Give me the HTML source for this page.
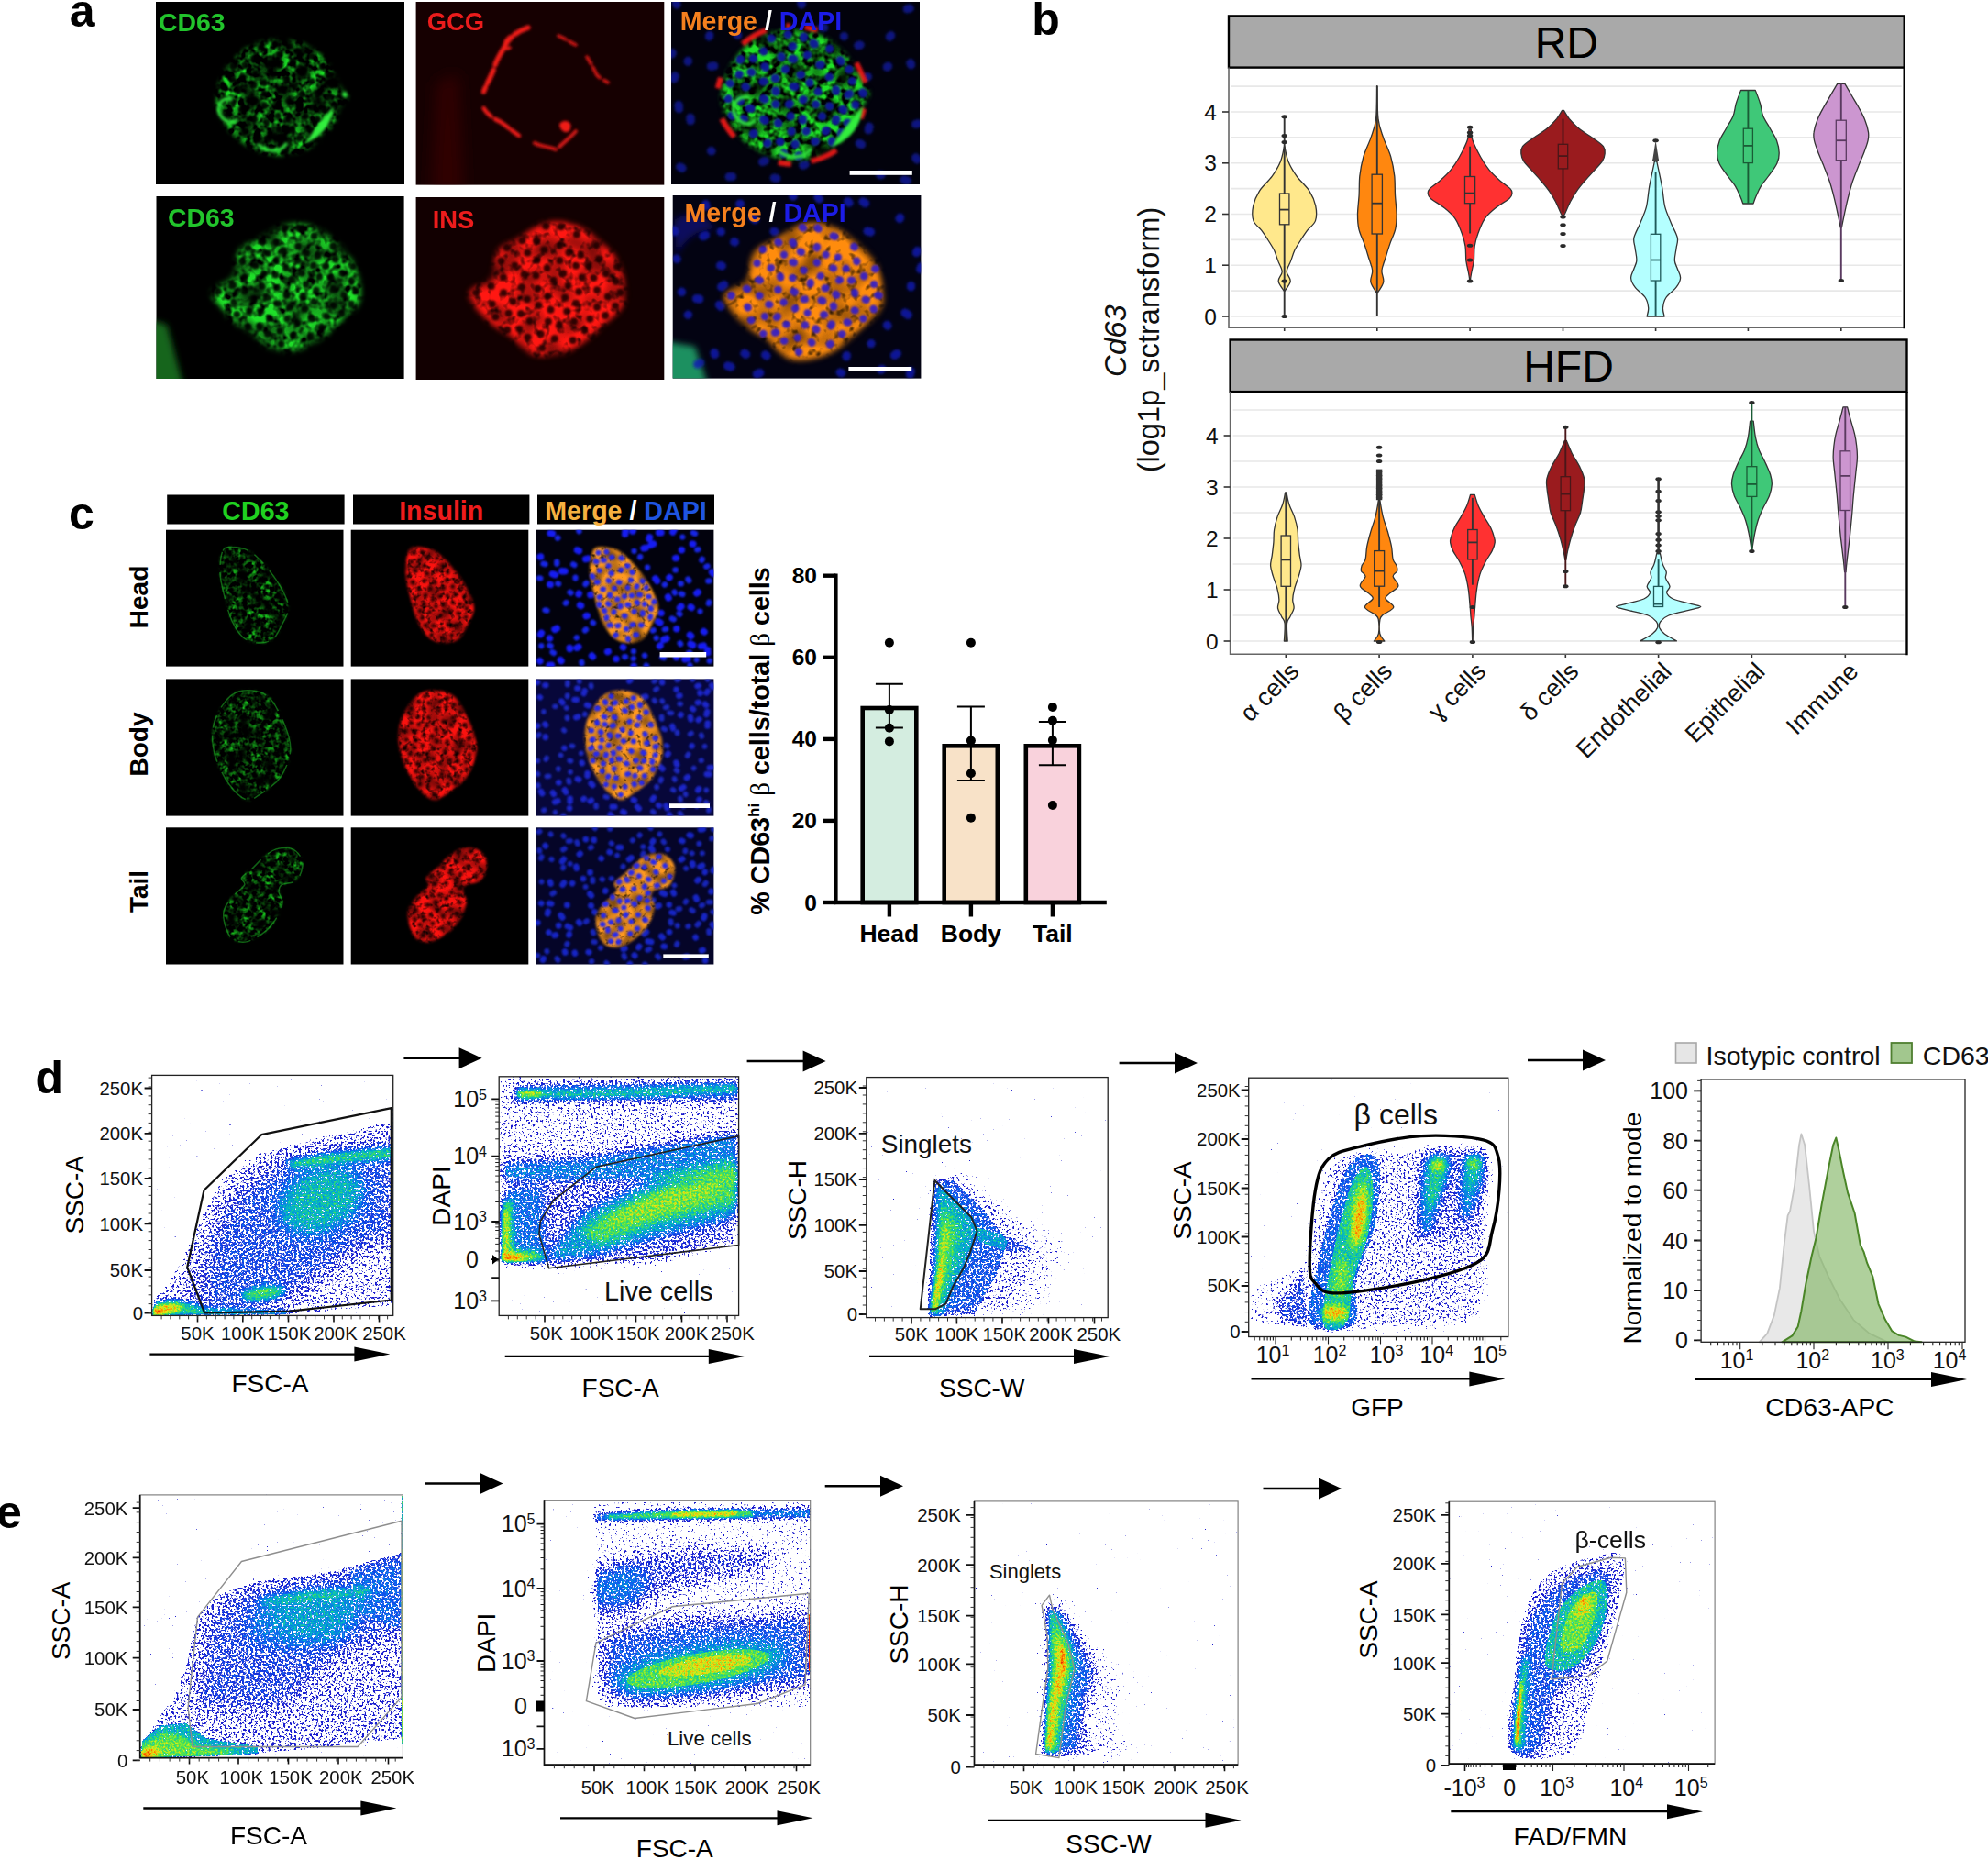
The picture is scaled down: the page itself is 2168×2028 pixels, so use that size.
<!DOCTYPE html>
<html lang="en"><head><meta charset="utf-8"><title>Figure</title>
<style>html,body{margin:0;padding:0;background:#fff;overflow:hidden}svg{display:block}text{font-family:"Liberation Sans",sans-serif}</style>
</head><body>
<svg width="2168" height="2028" viewBox="0 0 2168 2028">
<defs>
<filter id="bl1" x="-50%" y="-50%" width="200%" height="200%"><feGaussianBlur stdDeviation="1"/></filter>
<filter id="bl2" x="-50%" y="-50%" width="200%" height="200%"><feGaussianBlur stdDeviation="2"/></filter>
<filter id="bl3" x="-50%" y="-50%" width="200%" height="200%"><feGaussianBlur stdDeviation="3"/></filter>
<filter id="bl5" x="-50%" y="-50%" width="200%" height="200%"><feGaussianBlur stdDeviation="5"/></filter>
<filter id="bl8" x="-50%" y="-50%" width="200%" height="200%"><feGaussianBlur stdDeviation="8"/></filter>
<filter id="bl12" x="-50%" y="-50%" width="200%" height="200%"><feGaussianBlur stdDeviation="12"/></filter>
<filter id="mb1" x="-50%" y="-50%" width="200%" height="200%"><feGaussianBlur stdDeviation="0.7"/></filter>
<filter id="mb2" x="-50%" y="-50%" width="200%" height="200%"><feGaussianBlur stdDeviation="1.4"/></filter>
<filter id="mb5" x="-50%" y="-50%" width="200%" height="200%"><feGaussianBlur stdDeviation="3.5"/></filter>
<filter id="fc1" filterUnits="userSpaceOnUse" x="165.6" y="1172.4" width="263.1" height="262" color-interpolation-filters="sRGB">
<feTurbulence type="fractalNoise" baseFrequency="0.42" numOctaves="2" seed="11" result="n"/>
<feColorMatrix in="SourceGraphic" type="matrix" values="0 0 0 1 0  0 0 0 1 0  0 0 0 1 0  0 0 0 0 1" result="d"/>
<feColorMatrix in="n" type="matrix" values="1 0 0 0 0  1 0 0 0 0  1 0 0 0 0  0 0 0 0 1" result="n1"/>
<feComposite in="d" in2="n1" operator="arithmetic" k2="1" k3="0.34" k4="-0.17" result="dc"/>
<feComponentTransfer in="dc" result="col">
<feFuncR type="table" tableValues="0.1 0.1 0.1 0.1 0.1 0.05 0.0 0.3 0.88 1 0.92"/>
<feFuncG type="table" tableValues="0.1 0.1 0.1 0.1 0.12 0.38 0.72 0.9 0.92 0.5 0.12"/>
<feFuncB type="table" tableValues="0.8 0.8 0.8 0.8 0.82 0.95 0.78 0.3 0.08 0 0"/>
</feComponentTransfer>
<feComposite in="d" in2="n1" operator="arithmetic" k2="1" k3="1.1" k4="-0.55" result="da"/>
<feColorMatrix in="da" type="matrix" values="0 0 0 0 0  0 0 0 0 0  0 0 0 0 0  12 0 0 0 -4.2" result="a"/>
<feComposite in="col" in2="a" operator="in"/>
</filter>
<clipPath id="cp1"><rect x="165.6" y="1172.4" width="263.1" height="262"/></clipPath>
<filter id="fc2" filterUnits="userSpaceOnUse" x="544.2" y="1173.8" width="261.4" height="260.6" color-interpolation-filters="sRGB">
<feTurbulence type="fractalNoise" baseFrequency="0.42" numOctaves="2" seed="23" result="n"/>
<feColorMatrix in="SourceGraphic" type="matrix" values="0 0 0 1 0  0 0 0 1 0  0 0 0 1 0  0 0 0 0 1" result="d"/>
<feColorMatrix in="n" type="matrix" values="1 0 0 0 0  1 0 0 0 0  1 0 0 0 0  0 0 0 0 1" result="n1"/>
<feComposite in="d" in2="n1" operator="arithmetic" k2="1" k3="0.34" k4="-0.17" result="dc"/>
<feComponentTransfer in="dc" result="col">
<feFuncR type="table" tableValues="0.1 0.1 0.1 0.1 0.1 0.05 0.0 0.3 0.88 1 0.92"/>
<feFuncG type="table" tableValues="0.1 0.1 0.1 0.1 0.12 0.38 0.72 0.9 0.92 0.5 0.12"/>
<feFuncB type="table" tableValues="0.8 0.8 0.8 0.8 0.82 0.95 0.78 0.3 0.08 0 0"/>
</feComponentTransfer>
<feComposite in="d" in2="n1" operator="arithmetic" k2="1" k3="1.1" k4="-0.55" result="da"/>
<feColorMatrix in="da" type="matrix" values="0 0 0 0 0  0 0 0 0 0  0 0 0 0 0  12 0 0 0 -4.2" result="a"/>
<feComposite in="col" in2="a" operator="in"/>
</filter>
<clipPath id="cp2"><rect x="544.2" y="1173.8" width="261.4" height="260.6"/></clipPath>
<filter id="fc3" filterUnits="userSpaceOnUse" x="944.8" y="1174.6" width="263.4" height="262" color-interpolation-filters="sRGB">
<feTurbulence type="fractalNoise" baseFrequency="0.42" numOctaves="2" seed="5" result="n"/>
<feColorMatrix in="SourceGraphic" type="matrix" values="0 0 0 1 0  0 0 0 1 0  0 0 0 1 0  0 0 0 0 1" result="d"/>
<feColorMatrix in="n" type="matrix" values="1 0 0 0 0  1 0 0 0 0  1 0 0 0 0  0 0 0 0 1" result="n1"/>
<feComposite in="d" in2="n1" operator="arithmetic" k2="1" k3="0.34" k4="-0.17" result="dc"/>
<feComponentTransfer in="dc" result="col">
<feFuncR type="table" tableValues="0.1 0.1 0.1 0.1 0.1 0.05 0.0 0.3 0.88 1 0.92"/>
<feFuncG type="table" tableValues="0.1 0.1 0.1 0.1 0.12 0.38 0.72 0.9 0.92 0.5 0.12"/>
<feFuncB type="table" tableValues="0.8 0.8 0.8 0.8 0.82 0.95 0.78 0.3 0.08 0 0"/>
</feComponentTransfer>
<feComposite in="d" in2="n1" operator="arithmetic" k2="1" k3="1.1" k4="-0.55" result="da"/>
<feColorMatrix in="da" type="matrix" values="0 0 0 0 0  0 0 0 0 0  0 0 0 0 0  12 0 0 0 -4.2" result="a"/>
<feComposite in="col" in2="a" operator="in"/>
</filter>
<clipPath id="cp3"><rect x="944.8" y="1174.6" width="263.4" height="262"/></clipPath>
<filter id="fc4" filterUnits="userSpaceOnUse" x="1361.7" y="1175.2" width="283.1" height="282.3" color-interpolation-filters="sRGB">
<feTurbulence type="fractalNoise" baseFrequency="0.42" numOctaves="2" seed="31" result="n"/>
<feColorMatrix in="SourceGraphic" type="matrix" values="0 0 0 1 0  0 0 0 1 0  0 0 0 1 0  0 0 0 0 1" result="d"/>
<feColorMatrix in="n" type="matrix" values="1 0 0 0 0  1 0 0 0 0  1 0 0 0 0  0 0 0 0 1" result="n1"/>
<feComposite in="d" in2="n1" operator="arithmetic" k2="1" k3="0.34" k4="-0.17" result="dc"/>
<feComponentTransfer in="dc" result="col">
<feFuncR type="table" tableValues="0.1 0.1 0.1 0.1 0.1 0.05 0.0 0.3 0.88 1 0.92"/>
<feFuncG type="table" tableValues="0.1 0.1 0.1 0.1 0.12 0.38 0.72 0.9 0.92 0.5 0.12"/>
<feFuncB type="table" tableValues="0.8 0.8 0.8 0.8 0.82 0.95 0.78 0.3 0.08 0 0"/>
</feComponentTransfer>
<feComposite in="d" in2="n1" operator="arithmetic" k2="1" k3="1.1" k4="-0.55" result="da"/>
<feColorMatrix in="da" type="matrix" values="0 0 0 0 0  0 0 0 0 0  0 0 0 0 0  12 0 0 0 -4.2" result="a"/>
<feComposite in="col" in2="a" operator="in"/>
</filter>
<clipPath id="cp4"><rect x="1361.7" y="1175.2" width="283.1" height="282.3"/></clipPath>
<filter id="fc5" filterUnits="userSpaceOnUse" x="152.7" y="1629.9" width="286.7" height="286.7" color-interpolation-filters="sRGB">
<feTurbulence type="fractalNoise" baseFrequency="0.42" numOctaves="2" seed="41" result="n"/>
<feColorMatrix in="SourceGraphic" type="matrix" values="0 0 0 1 0  0 0 0 1 0  0 0 0 1 0  0 0 0 0 1" result="d"/>
<feColorMatrix in="n" type="matrix" values="1 0 0 0 0  1 0 0 0 0  1 0 0 0 0  0 0 0 0 1" result="n1"/>
<feComposite in="d" in2="n1" operator="arithmetic" k2="1" k3="0.34" k4="-0.17" result="dc"/>
<feComponentTransfer in="dc" result="col">
<feFuncR type="table" tableValues="0.1 0.1 0.1 0.1 0.1 0.05 0.0 0.3 0.88 1 0.92"/>
<feFuncG type="table" tableValues="0.1 0.1 0.1 0.1 0.12 0.38 0.72 0.9 0.92 0.5 0.12"/>
<feFuncB type="table" tableValues="0.8 0.8 0.8 0.8 0.82 0.95 0.78 0.3 0.08 0 0"/>
</feComponentTransfer>
<feComposite in="d" in2="n1" operator="arithmetic" k2="1" k3="1.1" k4="-0.55" result="da"/>
<feColorMatrix in="da" type="matrix" values="0 0 0 0 0  0 0 0 0 0  0 0 0 0 0  12 0 0 0 -4.2" result="a"/>
<feComposite in="col" in2="a" operator="in"/>
</filter>
<clipPath id="cp5"><rect x="152.7" y="1629.9" width="286.7" height="286.7"/></clipPath>
<filter id="fc6" filterUnits="userSpaceOnUse" x="593.5" y="1636.3" width="290.2" height="287.9" color-interpolation-filters="sRGB">
<feTurbulence type="fractalNoise" baseFrequency="0.42" numOctaves="2" seed="43" result="n"/>
<feColorMatrix in="SourceGraphic" type="matrix" values="0 0 0 1 0  0 0 0 1 0  0 0 0 1 0  0 0 0 0 1" result="d"/>
<feColorMatrix in="n" type="matrix" values="1 0 0 0 0  1 0 0 0 0  1 0 0 0 0  0 0 0 0 1" result="n1"/>
<feComposite in="d" in2="n1" operator="arithmetic" k2="1" k3="0.34" k4="-0.17" result="dc"/>
<feComponentTransfer in="dc" result="col">
<feFuncR type="table" tableValues="0.1 0.1 0.1 0.1 0.1 0.05 0.0 0.3 0.88 1 0.92"/>
<feFuncG type="table" tableValues="0.1 0.1 0.1 0.1 0.12 0.38 0.72 0.9 0.92 0.5 0.12"/>
<feFuncB type="table" tableValues="0.8 0.8 0.8 0.8 0.82 0.95 0.78 0.3 0.08 0 0"/>
</feComponentTransfer>
<feComposite in="d" in2="n1" operator="arithmetic" k2="1" k3="1.1" k4="-0.55" result="da"/>
<feColorMatrix in="da" type="matrix" values="0 0 0 0 0  0 0 0 0 0  0 0 0 0 0  12 0 0 0 -4.2" result="a"/>
<feComposite in="col" in2="a" operator="in"/>
</filter>
<clipPath id="cp6"><rect x="593.5" y="1636.3" width="290.2" height="287.9"/></clipPath>
<filter id="fc7" filterUnits="userSpaceOnUse" x="1062.5" y="1636.9" width="287.6" height="287.3" color-interpolation-filters="sRGB">
<feTurbulence type="fractalNoise" baseFrequency="0.42" numOctaves="2" seed="47" result="n"/>
<feColorMatrix in="SourceGraphic" type="matrix" values="0 0 0 1 0  0 0 0 1 0  0 0 0 1 0  0 0 0 0 1" result="d"/>
<feColorMatrix in="n" type="matrix" values="1 0 0 0 0  1 0 0 0 0  1 0 0 0 0  0 0 0 0 1" result="n1"/>
<feComposite in="d" in2="n1" operator="arithmetic" k2="1" k3="0.34" k4="-0.17" result="dc"/>
<feComponentTransfer in="dc" result="col">
<feFuncR type="table" tableValues="0.1 0.1 0.1 0.1 0.1 0.05 0.0 0.3 0.88 1 0.92"/>
<feFuncG type="table" tableValues="0.1 0.1 0.1 0.1 0.12 0.38 0.72 0.9 0.92 0.5 0.12"/>
<feFuncB type="table" tableValues="0.8 0.8 0.8 0.8 0.82 0.95 0.78 0.3 0.08 0 0"/>
</feComponentTransfer>
<feComposite in="d" in2="n1" operator="arithmetic" k2="1" k3="1.1" k4="-0.55" result="da"/>
<feColorMatrix in="da" type="matrix" values="0 0 0 0 0  0 0 0 0 0  0 0 0 0 0  12 0 0 0 -4.2" result="a"/>
<feComposite in="col" in2="a" operator="in"/>
</filter>
<clipPath id="cp7"><rect x="1062.5" y="1636.9" width="287.6" height="287.3"/></clipPath>
<filter id="fc8" filterUnits="userSpaceOnUse" x="1580.3" y="1637.2" width="289.8" height="285.9" color-interpolation-filters="sRGB">
<feTurbulence type="fractalNoise" baseFrequency="0.42" numOctaves="2" seed="53" result="n"/>
<feColorMatrix in="SourceGraphic" type="matrix" values="0 0 0 1 0  0 0 0 1 0  0 0 0 1 0  0 0 0 0 1" result="d"/>
<feColorMatrix in="n" type="matrix" values="1 0 0 0 0  1 0 0 0 0  1 0 0 0 0  0 0 0 0 1" result="n1"/>
<feComposite in="d" in2="n1" operator="arithmetic" k2="1" k3="0.34" k4="-0.17" result="dc"/>
<feComponentTransfer in="dc" result="col">
<feFuncR type="table" tableValues="0.1 0.1 0.1 0.1 0.1 0.05 0.0 0.3 0.88 1 0.92"/>
<feFuncG type="table" tableValues="0.1 0.1 0.1 0.1 0.12 0.38 0.72 0.9 0.92 0.5 0.12"/>
<feFuncB type="table" tableValues="0.8 0.8 0.8 0.8 0.82 0.95 0.78 0.3 0.08 0 0"/>
</feComponentTransfer>
<feComposite in="d" in2="n1" operator="arithmetic" k2="1" k3="1.1" k4="-0.55" result="da"/>
<feColorMatrix in="da" type="matrix" values="0 0 0 0 0  0 0 0 0 0  0 0 0 0 0  12 0 0 0 -4.2" result="a"/>
<feComposite in="col" in2="a" operator="in"/>
</filter>
<clipPath id="cp8"><rect x="1580.3" y="1637.2" width="289.8" height="285.9"/></clipPath>
<filter id="mb07" x="-20%" y="-20%" width="140%" height="140%"><feGaussianBlur stdDeviation="0.8"/></filter>
<filter id="mf1" filterUnits="userSpaceOnUse" x="170" y="2" width="271" height="199" color-interpolation-filters="sRGB"><feGaussianBlur in="SourceAlpha" stdDeviation="2.5" result="m"/><feTurbulence type="fractalNoise" baseFrequency="0.13" numOctaves="2" seed="3" result="t"/><feColorMatrix in="t" type="matrix" values="-3.2 0 0 0 2.0  -3.2 0 0 0 2.0  -3.2 0 0 0 2.0  0 0 0 0 1" result="c"/><feTurbulence type="fractalNoise" baseFrequency="0.05" numOctaves="1" seed="10" result="t2"/><feColorMatrix in="t2" type="matrix" values="0 3.0 0 0 -0.85  0 3.0 0 0 -0.85  0 3.0 0 0 -0.85  0 0 0 0 1" result="v"/><feComposite in="c" in2="v" operator="arithmetic" k1="1" result="cv"/><feColorMatrix in="cv" type="matrix" values="0.1 0 0 0 0  0 0.85 0 0 0  0 0 0.14 0 0  0 0 0 0 1" result="col"/><feComposite in="col" in2="m" operator="in"/></filter>
<clipPath id="mc2"><rect x="453.6" y="2" width="270.7" height="199.6"/></clipPath>
<linearGradient id="hazeR" x1="0" x2="1"><stop offset="0" stop-color="#300" stop-opacity="0"/><stop offset="0.6" stop-color="#3a0505" stop-opacity="0.5"/><stop offset="1" stop-color="#300" stop-opacity="0"/></linearGradient>
<clipPath id="mc3"><rect x="732" y="2" width="271" height="199"/></clipPath>
<filter id="mf4" filterUnits="userSpaceOnUse" x="732" y="2" width="271" height="199" color-interpolation-filters="sRGB"><feGaussianBlur in="SourceAlpha" stdDeviation="2.5" result="m"/><feTurbulence type="fractalNoise" baseFrequency="0.12" numOctaves="2" seed="5" result="t"/><feColorMatrix in="t" type="matrix" values="-3.2 0 0 0 2.2  -3.2 0 0 0 2.2  -3.2 0 0 0 2.2  0 0 0 0 1" result="c"/><feTurbulence type="fractalNoise" baseFrequency="0.0462" numOctaves="1" seed="12" result="t2"/><feColorMatrix in="t2" type="matrix" values="0 2.6 0 0 -0.5  0 2.6 0 0 -0.5  0 2.6 0 0 -0.5  0 0 0 0 1" result="v"/><feComposite in="c" in2="v" operator="arithmetic" k1="1" result="cv"/><feColorMatrix in="cv" type="matrix" values="0.12 0 0 0 0  0 0.88 0 0 0  0 0 0.15 0 0  0 0 0 0 1" result="col"/><feComposite in="col" in2="m" operator="in"/></filter>
<clipPath id="mc5"><rect x="170.5" y="214" width="270.1" height="199"/></clipPath>
<filter id="mf6" filterUnits="userSpaceOnUse" x="170.5" y="214" width="270.1" height="199" color-interpolation-filters="sRGB"><feGaussianBlur in="SourceAlpha" stdDeviation="3" result="m"/><feTurbulence type="fractalNoise" baseFrequency="0.11" numOctaves="2" seed="9" result="t"/><feColorMatrix in="t" type="matrix" values="-3.0 0 0 0 2.2  -3.0 0 0 0 2.2  -3.0 0 0 0 2.2  0 0 0 0 1" result="c"/><feTurbulence type="fractalNoise" baseFrequency="0.0423" numOctaves="1" seed="16" result="t2"/><feColorMatrix in="t2" type="matrix" values="0 2.4 0 0 -0.4  0 2.4 0 0 -0.4  0 2.4 0 0 -0.4  0 0 0 0 1" result="v"/><feComposite in="c" in2="v" operator="arithmetic" k1="1" result="cv"/><feColorMatrix in="cv" type="matrix" values="0.12 0 0 0 0  0 0.88 0 0 0  0 0 0.16 0 0  0 0 0 0 1" result="col"/><feComposite in="col" in2="m" operator="in"/></filter>
<filter id="mf7" filterUnits="userSpaceOnUse" x="453.6" y="215" width="270.7" height="199" color-interpolation-filters="sRGB"><feGaussianBlur in="SourceAlpha" stdDeviation="3" result="m"/><feTurbulence type="fractalNoise" baseFrequency="0.11" numOctaves="2" seed="9" result="t"/><feColorMatrix in="t" type="matrix" values="-2.6 0 0 0 2.3  -2.6 0 0 0 2.3  -2.6 0 0 0 2.3  0 0 0 0 1" result="c"/><feTurbulence type="fractalNoise" baseFrequency="0.0423" numOctaves="1" seed="16" result="t2"/><feColorMatrix in="t2" type="matrix" values="0 1.8 0 0 0.0  0 1.8 0 0 0.0  0 1.8 0 0 0.0  0 0 0 0 1" result="v"/><feComposite in="c" in2="v" operator="arithmetic" k1="1" result="cv"/><feColorMatrix in="cv" type="matrix" values="1.0 0 0 0 0  0 0.09 0 0 0  0 0 0.07 0 0  0 0 0 0 1" result="col"/><feComposite in="col" in2="m" operator="in"/></filter>
<clipPath id="mc8"><rect x="733.7" y="213" width="270.7" height="199.6"/></clipPath>
<filter id="mf9" filterUnits="userSpaceOnUse" x="733.7" y="213" width="270.7" height="199.6" color-interpolation-filters="sRGB"><feGaussianBlur in="SourceAlpha" stdDeviation="3" result="m"/><feTurbulence type="fractalNoise" baseFrequency="0.11" numOctaves="2" seed="9" result="t"/><feColorMatrix in="t" type="matrix" values="-2.6 0 0 0 2.4  -2.6 0 0 0 2.4  -2.6 0 0 0 2.4  0 0 0 0 1" result="c"/><feTurbulence type="fractalNoise" baseFrequency="0.0423" numOctaves="1" seed="16" result="t2"/><feColorMatrix in="t2" type="matrix" values="0 1.6 0 0 0.1  0 1.6 0 0 0.1  0 1.6 0 0 0.1  0 0 0 0 1" result="v"/><feComposite in="c" in2="v" operator="arithmetic" k1="1" result="cv"/><feColorMatrix in="cv" type="matrix" values="1.0 0 0 0 0  0 0.55 0 0 0  0 0 0.05 0 0  0 0 0 0 1" result="col"/><feComposite in="col" in2="m" operator="in"/></filter>
<filter id="mf10" filterUnits="userSpaceOnUse" x="181" y="577.7" width="193.5" height="148.9" color-interpolation-filters="sRGB"><feGaussianBlur in="SourceAlpha" stdDeviation="1.5" result="m"/><feTurbulence type="fractalNoise" baseFrequency="0.2" numOctaves="2" seed="61" result="t"/><feColorMatrix in="t" type="matrix" values="-3.2 0 0 0 1.9  -3.2 0 0 0 1.9  -3.2 0 0 0 1.9  0 0 0 0 1" result="c"/><feTurbulence type="fractalNoise" baseFrequency="0.0769" numOctaves="1" seed="68" result="t2"/><feColorMatrix in="t2" type="matrix" values="0 2.6 0 0 -0.7  0 2.6 0 0 -0.7  0 2.6 0 0 -0.7  0 0 0 0 1" result="v"/><feComposite in="c" in2="v" operator="arithmetic" k1="1" result="cv"/><feColorMatrix in="cv" type="matrix" values="0.09 0 0 0 0  0 0.74 0 0 0  0 0 0.11 0 0  0 0 0 0 1" result="col"/><feComposite in="col" in2="m" operator="in"/></filter>
<filter id="mf11" filterUnits="userSpaceOnUse" x="382.7" y="577.7" width="193.6" height="148.9" color-interpolation-filters="sRGB"><feGaussianBlur in="SourceAlpha" stdDeviation="1.5" result="m"/><feTurbulence type="fractalNoise" baseFrequency="0.2" numOctaves="2" seed="61" result="t"/><feColorMatrix in="t" type="matrix" values="-2.5 0 0 0 2.2  -2.5 0 0 0 2.2  -2.5 0 0 0 2.2  0 0 0 0 1" result="c"/><feTurbulence type="fractalNoise" baseFrequency="0.0769" numOctaves="1" seed="68" result="t2"/><feColorMatrix in="t2" type="matrix" values="0 1.6 0 0 0.05  0 1.6 0 0 0.05  0 1.6 0 0 0.05  0 0 0 0 1" result="v"/><feComposite in="c" in2="v" operator="arithmetic" k1="1" result="cv"/><feColorMatrix in="cv" type="matrix" values="0.98 0 0 0 0  0 0.07 0 0 0  0 0 0.06 0 0  0 0 0 0 1" result="col"/><feComposite in="col" in2="m" operator="in"/></filter>
<clipPath id="mc12"><rect x="584.8" y="577.7" width="193.6" height="148.9"/></clipPath>
<filter id="mf13" filterUnits="userSpaceOnUse" x="584.8" y="577.7" width="193.6" height="148.9" color-interpolation-filters="sRGB"><feGaussianBlur in="SourceAlpha" stdDeviation="1.5" result="m"/><feTurbulence type="fractalNoise" baseFrequency="0.2" numOctaves="2" seed="61" result="t"/><feColorMatrix in="t" type="matrix" values="-2.5 0 0 0 2.4  -2.5 0 0 0 2.4  -2.5 0 0 0 2.4  0 0 0 0 1" result="c"/><feTurbulence type="fractalNoise" baseFrequency="0.0769" numOctaves="1" seed="68" result="t2"/><feColorMatrix in="t2" type="matrix" values="0 1.4 0 0 0.15  0 1.4 0 0 0.15  0 1.4 0 0 0.15  0 0 0 0 1" result="v"/><feComposite in="c" in2="v" operator="arithmetic" k1="1" result="cv"/><feColorMatrix in="cv" type="matrix" values="1.0 0 0 0 0  0 0.6 0 0 0  0 0 0.12 0 0  0 0 0 0 1" result="col"/><feComposite in="col" in2="m" operator="in"/></filter>
<filter id="mf14" filterUnits="userSpaceOnUse" x="181" y="740.4" width="193.5" height="149.2" color-interpolation-filters="sRGB"><feGaussianBlur in="SourceAlpha" stdDeviation="1.5" result="m"/><feTurbulence type="fractalNoise" baseFrequency="0.2" numOctaves="2" seed="67" result="t"/><feColorMatrix in="t" type="matrix" values="-3.2 0 0 0 1.9  -3.2 0 0 0 1.9  -3.2 0 0 0 1.9  0 0 0 0 1" result="c"/><feTurbulence type="fractalNoise" baseFrequency="0.0769" numOctaves="1" seed="74" result="t2"/><feColorMatrix in="t2" type="matrix" values="0 2.6 0 0 -0.7  0 2.6 0 0 -0.7  0 2.6 0 0 -0.7  0 0 0 0 1" result="v"/><feComposite in="c" in2="v" operator="arithmetic" k1="1" result="cv"/><feColorMatrix in="cv" type="matrix" values="0.09 0 0 0 0  0 0.74 0 0 0  0 0 0.11 0 0  0 0 0 0 1" result="col"/><feComposite in="col" in2="m" operator="in"/></filter>
<filter id="mf15" filterUnits="userSpaceOnUse" x="382.7" y="740.4" width="193.6" height="149.2" color-interpolation-filters="sRGB"><feGaussianBlur in="SourceAlpha" stdDeviation="1.5" result="m"/><feTurbulence type="fractalNoise" baseFrequency="0.2" numOctaves="2" seed="67" result="t"/><feColorMatrix in="t" type="matrix" values="-2.5 0 0 0 2.2  -2.5 0 0 0 2.2  -2.5 0 0 0 2.2  0 0 0 0 1" result="c"/><feTurbulence type="fractalNoise" baseFrequency="0.0769" numOctaves="1" seed="74" result="t2"/><feColorMatrix in="t2" type="matrix" values="0 1.6 0 0 0.05  0 1.6 0 0 0.05  0 1.6 0 0 0.05  0 0 0 0 1" result="v"/><feComposite in="c" in2="v" operator="arithmetic" k1="1" result="cv"/><feColorMatrix in="cv" type="matrix" values="0.98 0 0 0 0  0 0.07 0 0 0  0 0 0.06 0 0  0 0 0 0 1" result="col"/><feComposite in="col" in2="m" operator="in"/></filter>
<clipPath id="mc16"><rect x="584.8" y="740.4" width="193.6" height="149.2"/></clipPath>
<filter id="mf17" filterUnits="userSpaceOnUse" x="584.8" y="740.4" width="193.6" height="149.2" color-interpolation-filters="sRGB"><feGaussianBlur in="SourceAlpha" stdDeviation="1.5" result="m"/><feTurbulence type="fractalNoise" baseFrequency="0.2" numOctaves="2" seed="67" result="t"/><feColorMatrix in="t" type="matrix" values="-2.5 0 0 0 2.4  -2.5 0 0 0 2.4  -2.5 0 0 0 2.4  0 0 0 0 1" result="c"/><feTurbulence type="fractalNoise" baseFrequency="0.0769" numOctaves="1" seed="74" result="t2"/><feColorMatrix in="t2" type="matrix" values="0 1.4 0 0 0.15  0 1.4 0 0 0.15  0 1.4 0 0 0.15  0 0 0 0 1" result="v"/><feComposite in="c" in2="v" operator="arithmetic" k1="1" result="cv"/><feColorMatrix in="cv" type="matrix" values="1.0 0 0 0 0  0 0.6 0 0 0  0 0 0.12 0 0  0 0 0 0 1" result="col"/><feComposite in="col" in2="m" operator="in"/></filter>
<filter id="mf18" filterUnits="userSpaceOnUse" x="181" y="902.3" width="193.5" height="149.2" color-interpolation-filters="sRGB"><feGaussianBlur in="SourceAlpha" stdDeviation="1.5" result="m"/><feTurbulence type="fractalNoise" baseFrequency="0.2" numOctaves="2" seed="71" result="t"/><feColorMatrix in="t" type="matrix" values="-3.2 0 0 0 1.9  -3.2 0 0 0 1.9  -3.2 0 0 0 1.9  0 0 0 0 1" result="c"/><feTurbulence type="fractalNoise" baseFrequency="0.0769" numOctaves="1" seed="78" result="t2"/><feColorMatrix in="t2" type="matrix" values="0 2.6 0 0 -0.7  0 2.6 0 0 -0.7  0 2.6 0 0 -0.7  0 0 0 0 1" result="v"/><feComposite in="c" in2="v" operator="arithmetic" k1="1" result="cv"/><feColorMatrix in="cv" type="matrix" values="0.09 0 0 0 0  0 0.74 0 0 0  0 0 0.11 0 0  0 0 0 0 1" result="col"/><feComposite in="col" in2="m" operator="in"/></filter>
<filter id="mf19" filterUnits="userSpaceOnUse" x="382.7" y="902.3" width="193.6" height="149.2" color-interpolation-filters="sRGB"><feGaussianBlur in="SourceAlpha" stdDeviation="1.5" result="m"/><feTurbulence type="fractalNoise" baseFrequency="0.2" numOctaves="2" seed="71" result="t"/><feColorMatrix in="t" type="matrix" values="-2.5 0 0 0 2.2  -2.5 0 0 0 2.2  -2.5 0 0 0 2.2  0 0 0 0 1" result="c"/><feTurbulence type="fractalNoise" baseFrequency="0.0769" numOctaves="1" seed="78" result="t2"/><feColorMatrix in="t2" type="matrix" values="0 1.6 0 0 0.05  0 1.6 0 0 0.05  0 1.6 0 0 0.05  0 0 0 0 1" result="v"/><feComposite in="c" in2="v" operator="arithmetic" k1="1" result="cv"/><feColorMatrix in="cv" type="matrix" values="0.98 0 0 0 0  0 0.07 0 0 0  0 0 0.06 0 0  0 0 0 0 1" result="col"/><feComposite in="col" in2="m" operator="in"/></filter>
<clipPath id="mc20"><rect x="584.8" y="902.3" width="193.6" height="149.2"/></clipPath>
<filter id="mf21" filterUnits="userSpaceOnUse" x="584.8" y="902.3" width="193.6" height="149.2" color-interpolation-filters="sRGB"><feGaussianBlur in="SourceAlpha" stdDeviation="1.5" result="m"/><feTurbulence type="fractalNoise" baseFrequency="0.2" numOctaves="2" seed="71" result="t"/><feColorMatrix in="t" type="matrix" values="-2.5 0 0 0 2.4  -2.5 0 0 0 2.4  -2.5 0 0 0 2.4  0 0 0 0 1" result="c"/><feTurbulence type="fractalNoise" baseFrequency="0.0769" numOctaves="1" seed="78" result="t2"/><feColorMatrix in="t2" type="matrix" values="0 1.4 0 0 0.15  0 1.4 0 0 0.15  0 1.4 0 0 0.15  0 0 0 0 1" result="v"/><feComposite in="c" in2="v" operator="arithmetic" k1="1" result="cv"/><feColorMatrix in="cv" type="matrix" values="1.0 0 0 0 0  0 0.6 0 0 0  0 0 0.12 0 0  0 0 0 0 1" result="col"/><feComposite in="col" in2="m" operator="in"/></filter>
</defs>
<g id="panelB">
<text x="1125.2" y="38.3" font-size="50" text-anchor="start" fill="#000" font-weight="bold">b</text>
<rect x="1340" y="73.6" width="736.7" height="283.7" fill="#fff"/>
<path d="M1343 345H2073.7M1343 317.1H2073.7M1343 289.2H2073.7M1343 261.4H2073.7M1343 233.5H2073.7M1343 205.6H2073.7M1343 177.8H2073.7M1343 149.9H2073.7M1343 122H2073.7M1343 94.1H2073.7" stroke="#e8e8e8" stroke-width="1.6" fill="none"/>
<rect x="1340" y="17.4" width="736.7" height="56.2" fill="#a9a9a9" stroke="#000" stroke-width="2.4"/>
<text x="1708.3" y="62.5" font-size="48" text-anchor="middle" fill="#000">RD</text>
<path d="M1340 73.6V357.3H2076.7" stroke="#666" stroke-width="1.6" fill="none"/>
<path d="M2076.7 73.6V358.3" stroke="#000" stroke-width="2.4" fill="none"/>
<path d="M1333 345H1340" stroke="#333" stroke-width="1.6"/>
<text x="1327" y="353.6" font-size="24.5" text-anchor="end" fill="#111">0</text>
<path d="M1333 289.2H1340" stroke="#333" stroke-width="1.6"/>
<text x="1327" y="297.9" font-size="24.5" text-anchor="end" fill="#111">1</text>
<path d="M1333 233.5H1340" stroke="#333" stroke-width="1.6"/>
<text x="1327" y="242.1" font-size="24.5" text-anchor="end" fill="#111">2</text>
<path d="M1333 177.8H1340" stroke="#333" stroke-width="1.6"/>
<text x="1327" y="186.3" font-size="24.5" text-anchor="end" fill="#111">3</text>
<path d="M1333 122H1340" stroke="#333" stroke-width="1.6"/>
<text x="1327" y="130.6" font-size="24.5" text-anchor="end" fill="#111">4</text>
<rect x="1341.6" y="427.1" width="737.9" height="286.1" fill="#fff"/>
<path d="M1344.6 699H2076.5M1344.6 671H2076.5M1344.6 643H2076.5M1344.6 615H2076.5M1344.6 587H2076.5M1344.6 559H2076.5M1344.6 531H2076.5M1344.6 503H2076.5M1344.6 475H2076.5M1344.6 447H2076.5" stroke="#e8e8e8" stroke-width="1.6" fill="none"/>
<rect x="1341.6" y="370.5" width="737.9" height="56.6" fill="#a9a9a9" stroke="#000" stroke-width="2.4"/>
<text x="1710.5" y="415.8" font-size="48" text-anchor="middle" fill="#000">HFD</text>
<path d="M1341.6 427.1V713.2H2079.5" stroke="#666" stroke-width="1.6" fill="none"/>
<path d="M2079.5 427.1V714.2" stroke="#000" stroke-width="2.4" fill="none"/>
<path d="M1334.6 699H1341.6" stroke="#333" stroke-width="1.6"/>
<text x="1328.6" y="707.6" font-size="24.5" text-anchor="end" fill="#111">0</text>
<path d="M1334.6 643H1341.6" stroke="#333" stroke-width="1.6"/>
<text x="1328.6" y="651.6" font-size="24.5" text-anchor="end" fill="#111">1</text>
<path d="M1334.6 587H1341.6" stroke="#333" stroke-width="1.6"/>
<text x="1328.6" y="595.6" font-size="24.5" text-anchor="end" fill="#111">2</text>
<path d="M1334.6 531H1341.6" stroke="#333" stroke-width="1.6"/>
<text x="1328.6" y="539.6" font-size="24.5" text-anchor="end" fill="#111">3</text>
<path d="M1334.6 475H1341.6" stroke="#333" stroke-width="1.6"/>
<text x="1328.6" y="483.6" font-size="24.5" text-anchor="end" fill="#111">4</text>
<path d="M1400.9 159.7C1401.6 162.4 1402.7 170.5 1404.9 175.9C1407.1 181.3 1410.3 186.7 1414.1 192.1C1418 197.5 1424.6 202.9 1428 208.3C1431.4 213.7 1433.6 219 1434.7 224.4C1435.8 229.8 1436 236.2 1434.5 240.6C1433 245.1 1428.3 247.6 1425.7 251.1C1423.1 254.5 1421.1 257.8 1418.7 261.5C1416.4 265.1 1413.7 269.2 1411.8 273C1410 276.9 1409.1 280.8 1407.6 284.6C1406.2 288.5 1403.3 292.5 1403.2 296.2C1403.2 299.8 1407.6 303 1407.2 306.6C1406.8 310.1 1402 315.7 1400.9 317.5L1400.5 317.5C1399.4 315.7 1394.6 310.1 1394.2 306.6C1393.8 303 1398.2 299.8 1398.2 296.2C1398.1 292.5 1395.2 288.5 1393.8 284.6C1392.3 280.8 1391.4 276.9 1389.6 273C1387.7 269.2 1385 265.1 1382.7 261.5C1380.3 257.8 1378.3 254.5 1375.7 251.1C1373.1 247.6 1368.4 245.1 1366.9 240.6C1365.4 236.2 1365.6 229.8 1366.7 224.4C1367.8 219 1370 213.7 1373.4 208.3C1376.8 202.9 1383.4 197.5 1387.3 192.1C1391.1 186.7 1394.3 181.3 1396.5 175.9C1398.7 170.5 1399.8 162.4 1400.5 159.7Z" fill="#ffe88c" stroke="#333" stroke-width="1.3" stroke-linejoin="round"/>
<path d="M1400.7 127.3V345" stroke="#333" stroke-width="1.9"/>
<rect x="1395.5" y="211" width="10.4" height="33.8" fill="#ffe88c" stroke="#333" stroke-width="1.3"/>
<path d="M1395.5 228.6H1405.9" stroke="#333" stroke-width="1.8"/>
<ellipse cx="1400.7" cy="127.3" rx="3.2" ry="2" fill="#2a2a2a"/>
<ellipse cx="1400.7" cy="148.1" rx="3.2" ry="2" fill="#2a2a2a"/>
<ellipse cx="1400.7" cy="155" rx="3.2" ry="2" fill="#2a2a2a"/>
<ellipse cx="1400.7" cy="306.6" rx="3.2" ry="2" fill="#2a2a2a"/>
<ellipse cx="1400.7" cy="345" rx="3.2" ry="2" fill="#2a2a2a"/>
<path d="M1501.9 93.7C1502.1 99.7 1501.8 120.1 1503 129.6C1504.1 139 1506.4 143.5 1508.7 150.4C1511.1 157.3 1514.8 164.3 1516.8 171.2C1518.8 178.2 1520 185.1 1520.8 192.1C1521.5 199 1521.1 205.9 1521.5 212.9C1521.9 219.8 1523 227.5 1523.1 233.7C1523.1 239.9 1522.9 244.5 1521.7 249.9C1520.5 255.3 1517.5 260.7 1515.7 266.1C1513.8 271.5 1512.1 277.5 1510.6 282.3C1509.1 287.1 1507.2 290.8 1506.9 295C1506.6 299.3 1509.6 303.6 1508.7 307.7C1507.9 311.9 1503.1 317.8 1502 319.8L1501.6 319.8C1500.5 317.8 1495.7 311.9 1494.9 307.7C1494 303.6 1497 299.3 1496.7 295C1496.4 290.8 1494.5 287.1 1493 282.3C1491.5 277.5 1489.8 271.5 1487.9 266.1C1486.1 260.7 1483.1 255.3 1481.9 249.9C1480.7 244.5 1480.5 239.9 1480.5 233.7C1480.6 227.5 1481.7 219.8 1482.1 212.9C1482.5 205.9 1482.1 199 1482.8 192.1C1483.6 185.1 1484.8 178.2 1486.8 171.2C1488.8 164.3 1492.5 157.3 1494.9 150.4C1497.2 143.5 1499.5 139 1500.6 129.6C1501.8 120.1 1501.5 99.7 1501.7 93.7Z" fill="#ff870f" stroke="#333" stroke-width="1.3" stroke-linejoin="round"/>
<path d="M1501.8 93.7V345" stroke="#333" stroke-width="1.9"/>
<rect x="1496.1" y="190.2" width="11.3" height="64.8" fill="#ff870f" stroke="#333" stroke-width="1.3"/>
<path d="M1496.1 221.7H1507.5" stroke="#333" stroke-width="1.8"/>
<path d="M1604.3 141.1C1604.5 143.1 1604.1 147.7 1605.9 152.7C1607.6 157.7 1611.7 165.8 1614.7 171.2C1617.7 176.6 1620.5 180.9 1623.9 185.1C1627.4 189.4 1631.6 193.2 1635.5 196.7C1639.4 200.2 1644.8 203.5 1647.1 205.9C1649.3 208.3 1649.1 209.3 1648.9 211C1648.7 212.8 1648.9 213.7 1645.9 216.4C1642.9 219 1635.3 223.1 1630.9 226.8C1626.4 230.4 1622.5 233.7 1619.3 238.3C1616.1 243 1613.7 249.5 1611.9 254.5C1610 259.5 1609 263.4 1608.2 268.4C1607.4 273.4 1607.9 279.6 1607.3 284.6C1606.6 289.6 1605.1 294.8 1604.5 298.5C1603.8 302.2 1603.5 305.2 1603.3 306.6L1602.9 306.6C1602.7 305.2 1602.4 302.2 1601.7 298.5C1601.1 294.8 1599.6 289.6 1598.9 284.6C1598.3 279.6 1598.8 273.4 1598 268.4C1597.2 263.4 1596.2 259.5 1594.3 254.5C1592.5 249.5 1590.1 243 1586.9 238.3C1583.7 233.7 1579.8 230.4 1575.3 226.8C1570.9 223.1 1563.3 219 1560.3 216.4C1557.3 213.7 1557.5 212.8 1557.3 211C1557.1 209.3 1556.9 208.3 1559.1 205.9C1561.4 203.5 1566.8 200.2 1570.7 196.7C1574.6 193.2 1578.8 189.4 1582.3 185.1C1585.7 180.9 1588.5 176.6 1591.5 171.2C1594.5 165.8 1598.6 157.7 1600.3 152.7C1602.1 147.7 1601.7 143.1 1601.9 141.1Z" fill="#ff3131" stroke="#333" stroke-width="1.3" stroke-linejoin="round"/>
<path d="M1603.1 159.7V254.5" stroke="#333" stroke-width="1.9"/>
<rect x="1597.5" y="192.5" width="11.1" height="29.2" fill="#ff3131" stroke="#333" stroke-width="1.3"/>
<path d="M1597.5 210.6H1608.7" stroke="#333" stroke-width="1.8"/>
<ellipse cx="1603.1" cy="138.8" rx="3.2" ry="2" fill="#2a2a2a"/>
<ellipse cx="1603.1" cy="144.6" rx="3.2" ry="2" fill="#2a2a2a"/>
<ellipse cx="1603.1" cy="148.1" rx="3.2" ry="2" fill="#2a2a2a"/>
<ellipse cx="1603.1" cy="267.7" rx="3.2" ry="2" fill="#2a2a2a"/>
<ellipse cx="1603.1" cy="283.5" rx="3.2" ry="2" fill="#2a2a2a"/>
<ellipse cx="1603.1" cy="306.6" rx="3.2" ry="2" fill="#2a2a2a"/>
<path d="M1705.4 120.3C1706.4 121.9 1708.5 126.1 1711.4 129.6C1714.4 133 1718.8 137.7 1723 141.1C1727.3 144.6 1732.7 147.3 1736.9 150.4C1741.1 153.5 1746.3 156.8 1748.5 159.7C1750.7 162.6 1750.3 165.1 1750.1 167.8C1749.9 170.5 1749.1 173 1747.3 175.9C1745.5 178.7 1742.3 181.6 1739.2 185.1C1736.1 188.6 1732.1 192.8 1728.8 196.7C1725.5 200.5 1722.2 204.4 1719.5 208.3C1716.8 212.1 1714.6 216 1712.6 219.8C1710.6 223.7 1708.6 228.6 1707.3 231.4C1706 234.2 1705.2 235.6 1704.7 236.5L1704.3 236.5C1703.8 235.6 1703 234.2 1701.7 231.4C1700.4 228.6 1698.4 223.7 1696.4 219.8C1694.4 216 1692.2 212.1 1689.5 208.3C1686.8 204.4 1683.5 200.5 1680.2 196.7C1676.9 192.8 1672.9 188.6 1669.8 185.1C1666.7 181.6 1663.5 178.7 1661.7 175.9C1659.9 173 1659.1 170.5 1658.9 167.8C1658.7 165.1 1658.3 162.6 1660.5 159.7C1662.7 156.8 1667.9 153.5 1672.1 150.4C1676.3 147.3 1681.7 144.6 1686 141.1C1690.2 137.7 1694.6 133 1697.6 129.6C1700.5 126.1 1702.6 121.9 1703.6 120.3Z" fill="#9a1b1e" stroke="#333" stroke-width="1.3" stroke-linejoin="round"/>
<path d="M1704.5 129.6V231.4" stroke="#4a1719" stroke-width="1.9"/>
<rect x="1699.3" y="157.3" width="10.4" height="26.6" fill="#9a1b1e" stroke="#4a1719" stroke-width="1.3"/>
<path d="M1699.3 170.1H1709.7" stroke="#4a1719" stroke-width="1.8"/>
<ellipse cx="1704.5" cy="236.5" rx="3.2" ry="2" fill="#2a2a2a"/>
<ellipse cx="1704.5" cy="245.3" rx="3.2" ry="2" fill="#2a2a2a"/>
<ellipse cx="1704.5" cy="255" rx="3.2" ry="2" fill="#2a2a2a"/>
<ellipse cx="1704.5" cy="268" rx="3.2" ry="2" fill="#2a2a2a"/>
<path d="M1806.5 174.6C1807.5 179.3 1810.8 194.4 1812.4 202.8C1813.9 211.3 1814.1 218.6 1815.7 225.4C1817.4 232.1 1820.2 237.7 1822.5 243.4C1824.8 249 1828.3 254.6 1829.3 259.2C1830.2 263.7 1828.6 266.3 1828.1 270.4C1827.6 274.6 1826.1 280.2 1826.3 283.9C1826.5 287.7 1828.2 289.8 1829.3 293C1830.3 296.2 1832.8 299.7 1832.6 303.1C1832.5 306.5 1830.8 309.7 1828.1 313.2C1825.5 316.8 1819.3 320.8 1816.9 324.5C1814.4 328.3 1813.8 332.4 1813.5 335.8C1813.2 339.2 1814.8 343.5 1815.1 345L1796.1 345C1796.4 343.5 1798 339.2 1797.7 335.8C1797.4 332.4 1796.8 328.3 1794.3 324.5C1791.9 320.8 1785.7 316.8 1783.1 313.2C1780.4 309.7 1778.7 306.5 1778.6 303.1C1778.4 299.7 1780.9 296.2 1781.9 293C1783 289.8 1784.7 287.7 1784.9 283.9C1785.1 280.2 1783.6 274.6 1783.1 270.4C1782.6 266.3 1781 263.7 1781.9 259.2C1782.9 254.6 1786.4 249 1788.7 243.4C1791 237.7 1793.8 232.1 1795.5 225.4C1797.1 218.6 1797.3 211.3 1798.8 202.8C1800.4 194.4 1803.7 179.3 1804.7 174.6Z" fill="#b4ffff" stroke="#333" stroke-width="1.3" stroke-linejoin="round"/>
<path d="M1805.6 187V345" stroke="#1f5a5a" stroke-width="1.9"/>
<rect x="1800.4" y="255.3" width="10.4" height="50.7" fill="#b4ffff" stroke="#1f5a5a" stroke-width="1.3"/>
<path d="M1800.4 283.5H1810.8" stroke="#1f5a5a" stroke-width="1.8"/>
<ellipse cx="1805.6" cy="153.2" rx="3.2" ry="2" fill="#2a2a2a"/>
<ellipse cx="1805.6" cy="174.6" rx="3.2" ry="2" fill="#2a2a2a"/>
<path d="M1805.6 153.2L1802.1 175.3L1809.1 175.3Z" fill="#444"/>
<path d="M1914.3 98.5C1915.2 100.8 1918.1 108.1 1919.5 112.7C1920.9 117.3 1920.9 121.7 1922.6 126.2C1924.4 130.7 1927.6 135.2 1930.1 139.7C1932.5 144.2 1935.8 148.7 1937.5 153.2C1939.2 157.7 1940.1 162.6 1940.2 166.8C1940.3 170.9 1939.8 173.9 1937.9 178C1936.1 182.2 1931.9 187.4 1928.9 191.5C1926 195.7 1922.7 199.1 1920.4 202.8C1918 206.6 1916.4 210.9 1915 214.1C1913.6 217.3 1912.5 220.7 1912 222L1900.8 222C1900.3 220.7 1899.2 217.3 1897.8 214.1C1896.4 210.9 1894.8 206.6 1892.4 202.8C1890.1 199.1 1886.8 195.7 1883.9 191.5C1880.9 187.4 1876.7 182.2 1874.9 178C1873 173.9 1872.5 170.9 1872.6 166.8C1872.7 162.6 1873.6 157.7 1875.3 153.2C1877 148.7 1880.3 144.2 1882.7 139.7C1885.2 135.2 1888.4 130.7 1890.2 126.2C1891.9 121.7 1891.9 117.3 1893.3 112.7C1894.7 108.1 1897.6 100.8 1898.5 98.5Z" fill="#3fc878" stroke="#333" stroke-width="1.3" stroke-linejoin="round"/>
<path d="M1906.4 98.5V222" stroke="#1a5c36" stroke-width="1.9"/>
<rect x="1901.3" y="140.2" width="10.1" height="37.4" fill="#3fc878" stroke="#1a5c36" stroke-width="1.3"/>
<path d="M1901.3 158.9H1911.5" stroke="#1a5c36" stroke-width="1.8"/>
<path d="M2011.9 91.3C2013.1 93.3 2016.6 99.3 2019.1 103.7C2021.6 108 2024.5 112.7 2027 117.2C2029.4 121.7 2032 126.2 2033.7 130.7C2035.5 135.2 2037 140.5 2037.5 144.2C2038.1 148 2037.9 149.5 2037.1 153.2C2036.3 157 2034.3 162.3 2032.6 166.8C2030.9 171.3 2029 175 2027 180.3C2024.9 185.5 2022.1 192.3 2020.2 198.3C2018.2 204.3 2016.7 210.3 2015.2 216.3C2013.7 222.3 2012.3 229.1 2011.2 234.4C2010.1 239.6 2008.9 245.6 2008.5 247.9L2007.1 247.9C2006.7 245.6 2005.5 239.6 2004.4 234.4C2003.3 229.1 2001.9 222.3 2000.4 216.3C1998.9 210.3 1997.4 204.3 1995.4 198.3C1993.5 192.3 1990.7 185.5 1988.6 180.3C1986.6 175 1984.7 171.3 1983 166.8C1981.3 162.3 1979.3 157 1978.5 153.2C1977.7 149.5 1977.5 148 1978.1 144.2C1978.6 140.5 1980.1 135.2 1981.9 130.7C1983.6 126.2 1986.2 121.7 1988.6 117.2C1991.1 112.7 1994 108 1996.5 103.7C1999 99.3 2002.5 93.3 2003.7 91.3Z" fill="#cc96d0" stroke="#333" stroke-width="1.3" stroke-linejoin="round"/>
<path d="M2007.8 91.3V306" stroke="#5a3a60" stroke-width="1.9"/>
<rect x="2002.3" y="131.2" width="11" height="43.5" fill="#cc96d0" stroke="#5a3a60" stroke-width="1.3"/>
<path d="M2002.3 153.2H2013.3" stroke="#5a3a60" stroke-width="1.8"/>
<ellipse cx="2007.8" cy="306" rx="3.2" ry="2" fill="#2a2a2a"/>
<path d="M1403 537C1403.5 539.1 1404.3 545.3 1405.8 549.7C1407.2 554.2 1410 559 1411.6 563.6C1413.1 568.3 1414.3 572.9 1415 577.5C1415.7 582.1 1415.3 586.8 1415.7 591.4C1416.1 596 1416.8 601 1417.3 605.3C1417.9 609.5 1419.2 613 1419 616.8C1418.8 620.7 1417.4 624.2 1416.2 628.4C1414.9 632.7 1412.6 638.1 1411.6 642.3C1410.5 646.5 1409.8 650.4 1409.7 653.9C1409.6 657.3 1411.6 660 1411.1 663.1C1410.6 666.2 1408.2 669.6 1406.9 672.4C1405.7 675.2 1403.9 675.3 1403.5 679.8C1403 684.2 1404 695.8 1404.2 699L1400.4 699C1400.6 695.8 1401.6 684.2 1401.1 679.8C1400.7 675.3 1398.9 675.2 1397.7 672.4C1396.4 669.6 1394 666.2 1393.5 663.1C1393 660 1395 657.3 1394.9 653.9C1394.8 650.4 1394.1 646.5 1393 642.3C1392 638.1 1389.7 632.7 1388.4 628.4C1387.2 624.2 1385.8 620.7 1385.6 616.8C1385.4 613 1386.7 609.5 1387.3 605.3C1387.8 601 1388.5 596 1388.9 591.4C1389.3 586.8 1388.9 582.1 1389.6 577.5C1390.3 572.9 1391.5 568.3 1393 563.6C1394.6 559 1397.4 554.2 1398.8 549.7C1400.3 545.3 1401.1 539.1 1401.6 537Z" fill="#ffe88c" stroke="#333" stroke-width="1.3" stroke-linejoin="round"/>
<path d="M1402.3 537V699" stroke="#333" stroke-width="1.9"/>
<rect x="1397.1" y="584" width="10.4" height="55.3" fill="#ffe88c" stroke="#333" stroke-width="1.3"/>
<path d="M1397.1 610.4H1407.5" stroke="#333" stroke-width="1.8"/>
<path d="M1504.8 545.1C1505.4 548.2 1506.8 557.8 1508.3 563.6C1509.7 569.4 1511.8 574.4 1513.4 579.8C1514.9 585.2 1516.6 591 1517.5 596C1518.5 601 1518.2 606.4 1519.1 609.9C1520.1 613.4 1522.3 614.7 1523.1 616.8C1523.8 619 1524.4 620.7 1523.8 622.6C1523.1 624.6 1518.9 625.7 1519.1 628.4C1519.3 631.1 1525.5 635.7 1524.9 638.8C1524.3 641.9 1518 644.6 1515.7 646.9C1513.4 649.2 1510.3 650.2 1511 652.7C1511.7 655.2 1520.2 659.1 1519.8 662C1519.4 664.9 1511.2 667.9 1508.7 670.1C1506.3 672.3 1505.7 671.7 1505 675.2C1504.4 678.6 1504 686.9 1504.8 690.9C1505.6 694.9 1509 697.6 1509.9 699L1498.3 699C1499.2 697.6 1502.6 694.9 1503.4 690.9C1504.2 686.9 1503.8 678.6 1503.2 675.2C1502.5 671.7 1501.9 672.3 1499.5 670.1C1497 667.9 1488.8 664.9 1488.4 662C1488 659.1 1496.5 655.2 1497.2 652.7C1497.9 650.2 1494.8 649.2 1492.5 646.9C1490.2 644.6 1483.9 641.9 1483.3 638.8C1482.7 635.7 1488.9 631.1 1489.1 628.4C1489.3 625.7 1485.1 624.6 1484.4 622.6C1483.8 620.7 1484.4 619 1485.1 616.8C1485.9 614.7 1488.1 613.4 1489.1 609.9C1490 606.4 1489.7 601 1490.7 596C1491.6 591 1493.3 585.2 1494.8 579.8C1496.4 574.4 1498.5 569.4 1499.9 563.6C1501.4 557.8 1502.8 548.2 1503.4 545.1Z" fill="#ff870f" stroke="#333" stroke-width="1.3" stroke-linejoin="round"/>
<path d="M1504.1 545.1V662" stroke="#333" stroke-width="1.9"/>
<rect x="1498.7" y="600.6" width="10.9" height="38.6" fill="#ff870f" stroke="#333" stroke-width="1.3"/>
<path d="M1498.7 622.6H1509.5" stroke="#333" stroke-width="1.8"/>
<ellipse cx="1504.1" cy="487.7" rx="3.2" ry="2" fill="#2a2a2a"/>
<ellipse cx="1504.1" cy="496.5" rx="3.2" ry="2" fill="#2a2a2a"/>
<ellipse cx="1504.1" cy="503" rx="3.2" ry="2" fill="#2a2a2a"/>
<ellipse cx="1504.1" cy="513.9" rx="3.2" ry="2" fill="#2a2a2a"/>
<ellipse cx="1504.1" cy="518.5" rx="3.2" ry="2" fill="#2a2a2a"/>
<ellipse cx="1504.1" cy="522" rx="3.2" ry="2" fill="#2a2a2a"/>
<ellipse cx="1504.1" cy="525.4" rx="3.2" ry="2" fill="#2a2a2a"/>
<ellipse cx="1504.1" cy="528.9" rx="3.2" ry="2" fill="#2a2a2a"/>
<ellipse cx="1504.1" cy="532.4" rx="3.2" ry="2" fill="#2a2a2a"/>
<ellipse cx="1504.1" cy="535.9" rx="3.2" ry="2" fill="#2a2a2a"/>
<ellipse cx="1504.1" cy="539.3" rx="3.2" ry="2" fill="#2a2a2a"/>
<ellipse cx="1504.1" cy="542.8" rx="3.2" ry="2" fill="#2a2a2a"/>
<ellipse cx="1504.1" cy="700.1" rx="3.2" ry="2" fill="#2a2a2a"/>
<rect x="1500.9" y="511.6" width="6.4" height="33.6" fill="#333"/>
<path d="M1608.2 539.3C1608.9 541.4 1610.6 548 1612.4 552.1C1614.1 556.1 1616.4 559.8 1618.6 563.6C1620.8 567.5 1623.8 571.7 1625.6 575.2C1627.3 578.7 1628.3 581.7 1629 584.4C1629.8 587.1 1630.5 588.7 1630.2 591.4C1629.9 594.1 1628.8 597.2 1627.2 600.6C1625.5 604.1 1622.4 608 1620.2 612.2C1618 616.5 1615.6 621.1 1614 626.1C1612.4 631.1 1611.4 636.5 1610.5 642.3C1609.6 648.1 1609.1 655.8 1608.7 660.8C1608.2 665.8 1608.1 668.5 1607.8 672.4C1607.4 676.2 1606.9 679.3 1606.6 683.9C1606.3 688.6 1606.2 697.4 1606.1 700.1L1605.7 700.1C1605.6 697.4 1605.5 688.6 1605.2 683.9C1604.9 679.3 1604.4 676.2 1604 672.4C1603.7 668.5 1603.6 665.8 1603.1 660.8C1602.7 655.8 1602.2 648.1 1601.3 642.3C1600.4 636.5 1599.4 631.1 1597.8 626.1C1596.2 621.1 1593.8 616.5 1591.6 612.2C1589.4 608 1586.3 604.1 1584.6 600.6C1583 597.2 1581.9 594.1 1581.6 591.4C1581.3 588.7 1582 587.1 1582.8 584.4C1583.5 581.7 1584.5 578.7 1586.2 575.2C1588 571.7 1591 567.5 1593.2 563.6C1595.4 559.8 1597.7 556.1 1599.4 552.1C1601.2 548 1602.9 541.4 1603.6 539.3Z" fill="#ff3131" stroke="#333" stroke-width="1.3" stroke-linejoin="round"/>
<path d="M1605.9 542.8V637.7" stroke="#333" stroke-width="1.9"/>
<rect x="1600.7" y="577.5" width="10.4" height="32.4" fill="#ff3131" stroke="#333" stroke-width="1.3"/>
<path d="M1600.7 591.4H1611.1" stroke="#333" stroke-width="1.8"/>
<ellipse cx="1605.9" cy="662" rx="3.2" ry="2" fill="#2a2a2a"/>
<ellipse cx="1605.9" cy="700.1" rx="3.2" ry="2" fill="#2a2a2a"/>
<path d="M1708.2 480.3C1709.2 482.6 1711.9 489.6 1714.2 494.2C1716.6 498.8 1720.1 503.5 1722.3 508.1C1724.6 512.7 1726.8 518.1 1727.7 522C1728.5 525.8 1728 527.4 1727.7 531.2C1727.4 535.1 1726.5 540.5 1725.8 545.1C1725.1 549.7 1724.8 554.4 1723.5 559C1722.1 563.6 1719.4 568.3 1717.7 572.9C1716 577.5 1714.4 582.1 1713.1 586.8C1711.7 591.4 1710.5 596.7 1709.6 600.6C1708.7 604.6 1708.1 608.7 1707.8 610.4L1706.8 610.4C1706.5 608.7 1705.9 604.6 1705 600.6C1704.1 596.7 1702.9 591.4 1701.5 586.8C1700.2 582.1 1698.6 577.5 1696.9 572.9C1695.2 568.3 1692.5 563.6 1691.1 559C1689.8 554.4 1689.5 549.7 1688.8 545.1C1688.1 540.5 1687.2 535.1 1686.9 531.2C1686.6 527.4 1686.1 525.8 1686.9 522C1687.8 518.1 1690 512.7 1692.3 508.1C1694.5 503.5 1698 498.8 1700.4 494.2C1702.7 489.6 1705.4 482.6 1706.4 480.3Z" fill="#9a1b1e" stroke="#333" stroke-width="1.3" stroke-linejoin="round"/>
<path d="M1707.3 465.7V639.3" stroke="#4a1719" stroke-width="1.9"/>
<rect x="1702.1" y="519.7" width="10.4" height="37" fill="#9a1b1e" stroke="#4a1719" stroke-width="1.3"/>
<path d="M1702.1 538.6H1712.5" stroke="#4a1719" stroke-width="1.8"/>
<ellipse cx="1707.3" cy="465.7" rx="3.2" ry="2" fill="#2a2a2a"/>
<ellipse cx="1707.3" cy="623.1" rx="3.2" ry="2" fill="#2a2a2a"/>
<ellipse cx="1707.3" cy="639.3" rx="3.2" ry="2" fill="#2a2a2a"/>
<path d="M1810.4 603.4C1810.9 605.3 1812 611.3 1813.1 614.6C1814.2 618 1816.6 621 1817.2 623.7C1817.7 626.3 1815.8 627.8 1816.5 630.4C1817.1 633.1 1820.8 636.8 1821 639.4C1821.2 642.1 1817.1 643.9 1817.6 646.2C1818.2 648.5 1819.9 650.9 1824.4 653C1828.9 655 1839.6 657.2 1844.7 658.6C1849.7 660 1854.8 660.5 1854.8 661.5C1854.8 662.5 1850.5 663.1 1844.7 664.7C1838.8 666.3 1825.5 668.8 1819.9 671C1814.2 673.2 1812.5 675.5 1810.9 677.7C1809.2 680 1809 682.3 1809.7 684.5C1810.5 686.8 1812.2 688.9 1815.4 691.3C1818.5 693.7 1826.3 697.7 1828.4 698.9L1788.8 698.9C1790.9 697.7 1798.7 693.7 1801.8 691.3C1805 688.9 1806.7 686.8 1807.5 684.5C1808.2 682.3 1808 680 1806.3 677.7C1804.7 675.5 1803 673.2 1797.3 671C1791.7 668.8 1778.4 666.3 1772.5 664.7C1766.7 663.1 1762.4 662.5 1762.4 661.5C1762.4 660.5 1767.5 660 1772.5 658.6C1777.6 657.2 1788.3 655 1792.8 653C1797.3 650.9 1799 648.5 1799.6 646.2C1800.1 643.9 1796 642.1 1796.2 639.4C1796.4 636.8 1800.1 633.1 1800.7 630.4C1801.4 627.8 1799.5 626.3 1800 623.7C1800.6 621 1803 618 1804.1 614.6C1805.2 611.3 1806.3 605.3 1806.8 603.4Z" fill="#b4ffff" stroke="#333" stroke-width="1.3" stroke-linejoin="round"/>
<path d="M1808.6 610.1V639.4" stroke="#1f5a5a" stroke-width="1.9"/>
<rect x="1803.5" y="639.4" width="10.1" height="22.1" fill="#b4ffff" stroke="#1f5a5a" stroke-width="1.3"/>
<path d="M1803.5 658.6H1813.7" stroke="#1f5a5a" stroke-width="1.8"/>
<ellipse cx="1808.6" cy="522.3" rx="3.2" ry="2" fill="#2a2a2a"/>
<ellipse cx="1808.6" cy="535.8" rx="3.2" ry="2" fill="#2a2a2a"/>
<ellipse cx="1808.6" cy="545.9" rx="3.2" ry="2" fill="#2a2a2a"/>
<ellipse cx="1808.6" cy="558.3" rx="3.2" ry="2" fill="#2a2a2a"/>
<ellipse cx="1808.6" cy="562.8" rx="3.2" ry="2" fill="#2a2a2a"/>
<ellipse cx="1808.6" cy="567.3" rx="3.2" ry="2" fill="#2a2a2a"/>
<ellipse cx="1808.6" cy="582" rx="3.2" ry="2" fill="#2a2a2a"/>
<ellipse cx="1808.6" cy="588.7" rx="3.2" ry="2" fill="#2a2a2a"/>
<ellipse cx="1808.6" cy="594.4" rx="3.2" ry="2" fill="#2a2a2a"/>
<ellipse cx="1808.6" cy="601.1" rx="3.2" ry="2" fill="#2a2a2a"/>
<ellipse cx="1808.6" cy="700.3" rx="3.2" ry="2" fill="#2a2a2a"/>
<path d="M1808.6 522.3V604.5" stroke="#333" stroke-width="2.6"/>
<path d="M1912.2 459.2C1912.6 462.2 1913.4 471.9 1914.5 477.2C1915.5 482.4 1916.5 486.2 1918.3 490.7C1920.1 495.2 1923 499.7 1925 504.2C1927.1 508.7 1929.5 513.8 1930.7 517.7C1931.9 521.7 1932.4 524.1 1932.3 527.9C1932.1 531.6 1931.1 536 1929.6 540.3C1928 544.6 1924.9 549.3 1922.8 553.8C1920.7 558.3 1918.7 562.8 1917.2 567.3C1915.7 571.8 1914.7 576.3 1913.8 580.8C1912.8 585.4 1912.1 591 1911.5 594.4C1911 597.7 1910.8 600 1910.6 601.1L1910.2 601.1C1910 600 1909.8 597.7 1909.3 594.4C1908.7 591 1908 585.4 1907 580.8C1906.1 576.3 1905.1 571.8 1903.6 567.3C1902.1 562.8 1900.1 558.3 1898 553.8C1895.9 549.3 1892.8 544.6 1891.2 540.3C1889.7 536 1888.7 531.6 1888.5 527.9C1888.4 524.1 1888.9 521.7 1890.1 517.7C1891.3 513.8 1893.7 508.7 1895.8 504.2C1897.8 499.7 1900.7 495.2 1902.5 490.7C1904.3 486.2 1905.3 482.4 1906.3 477.2C1907.4 471.9 1908.2 462.2 1908.6 459.2Z" fill="#3fc878" stroke="#333" stroke-width="1.3" stroke-linejoin="round"/>
<path d="M1910.4 438.9V601.1" stroke="#1a5c36" stroke-width="1.9"/>
<rect x="1905" y="508.7" width="10.8" height="32.7" fill="#3fc878" stroke="#1a5c36" stroke-width="1.3"/>
<path d="M1905 527.9H1915.8" stroke="#1a5c36" stroke-width="1.8"/>
<ellipse cx="1910.4" cy="438.9" rx="3.2" ry="2" fill="#2a2a2a"/>
<ellipse cx="1910.4" cy="601.1" rx="3.2" ry="2" fill="#2a2a2a"/>
<path d="M2014.6 443.8C2015.2 446.4 2017.3 454.3 2018.6 459.2C2019.9 464 2021.4 468.2 2022.4 472.7C2023.5 477.2 2024.2 481.7 2024.7 486.2C2025.2 490.7 2025.6 494.5 2025.4 499.7C2025.2 505 2024.2 511 2023.6 517.7C2022.9 524.5 2022 532.8 2021.3 540.3C2020.6 547.8 2020.2 555.3 2019.5 562.8C2018.8 570.3 2018.1 577.8 2017.3 585.4C2016.4 592.9 2015.3 601.5 2014.6 607.9C2013.8 614.3 2013.2 621 2013 623.7L2011.6 623.7C2011.4 621 2010.8 614.3 2010 607.9C2009.3 601.5 2008.2 592.9 2007.3 585.4C2006.5 577.8 2005.8 570.3 2005.1 562.8C2004.4 555.3 2004 547.8 2003.3 540.3C2002.6 532.8 2001.7 524.5 2001 517.7C2000.4 511 1999.4 505 1999.2 499.7C1999 494.5 1999.4 490.7 1999.9 486.2C2000.4 481.7 2001.1 477.2 2002.2 472.7C2003.2 468.2 2004.7 464 2006 459.2C2007.3 454.3 2009.4 446.4 2010 443.8Z" fill="#cc96d0" stroke="#333" stroke-width="1.3" stroke-linejoin="round"/>
<path d="M2012.3 443.8V662" stroke="#5a3a60" stroke-width="1.9"/>
<rect x="2007" y="491.8" width="10.6" height="64.7" fill="#cc96d0" stroke="#5a3a60" stroke-width="1.3"/>
<path d="M2007 518.9H2017.6" stroke="#5a3a60" stroke-width="1.8"/>
<ellipse cx="2012.3" cy="662" rx="3.2" ry="2" fill="#2a2a2a"/>
<path d="M1400.7 358V361" stroke="#333" stroke-width="1.6"/>
<path d="M1501.8 358V361" stroke="#333" stroke-width="1.6"/>
<path d="M1603.1 358V361" stroke="#333" stroke-width="1.6"/>
<path d="M1704.5 358V361" stroke="#333" stroke-width="1.6"/>
<path d="M1805.6 358V361" stroke="#333" stroke-width="1.6"/>
<path d="M1906.4 358V361" stroke="#333" stroke-width="1.6"/>
<path d="M2007.8 358V361" stroke="#333" stroke-width="1.6"/>
<path d="M1402.3 714V717" stroke="#333" stroke-width="1.6"/>
<text x="1418.1" y="733.7" font-size="27" text-anchor="end" fill="#111" transform="rotate(-45 1418.1 733.7)">α cells</text>
<path d="M1504.1 714V717" stroke="#333" stroke-width="1.6"/>
<text x="1519.9" y="733.7" font-size="27" text-anchor="end" fill="#111" transform="rotate(-45 1519.9 733.7)">β cells</text>
<path d="M1605.9 714V717" stroke="#333" stroke-width="1.6"/>
<text x="1621.7" y="733.7" font-size="27" text-anchor="end" fill="#111" transform="rotate(-45 1621.7 733.7)">ɣ cells</text>
<path d="M1707.3 714V717" stroke="#333" stroke-width="1.6"/>
<text x="1723.1" y="733.7" font-size="27" text-anchor="end" fill="#111" transform="rotate(-45 1723.1 733.7)">δ cells</text>
<path d="M1808.6 714V717" stroke="#333" stroke-width="1.6"/>
<text x="1824.4" y="733.7" font-size="27" text-anchor="end" fill="#111" transform="rotate(-45 1824.4 733.7)">Endothelial</text>
<path d="M1910.4 714V717" stroke="#333" stroke-width="1.6"/>
<text x="1926.2" y="733.7" font-size="27" text-anchor="end" fill="#111" transform="rotate(-45 1926.2 733.7)">Epithelial</text>
<path d="M2012.3 714V717" stroke="#333" stroke-width="1.6"/>
<text x="2028.1" y="733.7" font-size="27" text-anchor="end" fill="#111" transform="rotate(-45 2028.1 733.7)">Immune</text>
<text x="1227.5" y="371.5" font-size="33" text-anchor="middle" fill="#111" font-style="italic" transform="rotate(-90 1227.5 371.5)">Cd63</text>
<text x="1263.5" y="370.5" font-size="32.6" text-anchor="middle" fill="#111" transform="rotate(-90 1263.5 370.5)">(log1p_sctransform)</text>
</g>
<g id="panelCchart">
<rect x="940.7" y="772" width="58.6" height="212" fill="#d4ede0" stroke="#000" stroke-width="4.6"/>
<rect x="1029.7" y="813.3" width="58.1" height="170.7" fill="#f8e2c8" stroke="#000" stroke-width="4.6"/>
<rect x="1118.8" y="813.3" width="58.1" height="170.7" fill="#f9d2dc" stroke="#000" stroke-width="4.6"/>
<path d="M969.9 745.7V793.4M954.9 745.7H984.9M954.9 793.4H984.9" stroke="#000" stroke-width="2" fill="none"/>
<path d="M1058.9 770.5V851M1043.9 770.5H1073.9M1043.9 851H1073.9" stroke="#000" stroke-width="2" fill="none"/>
<path d="M1147.9 787V834.2M1132.9 787H1162.9M1132.9 834.2H1162.9" stroke="#000" stroke-width="2" fill="none"/>
<circle cx="969.9" cy="700.8" r="5" fill="#000"/>
<circle cx="969.9" cy="774" r="5" fill="#000"/>
<circle cx="969.9" cy="793.7" r="5" fill="#000"/>
<circle cx="969.9" cy="808.4" r="5" fill="#000"/>
<circle cx="1058.9" cy="700.8" r="5" fill="#000"/>
<circle cx="1058.9" cy="807.6" r="5" fill="#000"/>
<circle cx="1058.9" cy="843.2" r="5" fill="#000"/>
<circle cx="1058.9" cy="891.7" r="5" fill="#000"/>
<circle cx="1147.9" cy="771" r="5" fill="#000"/>
<circle cx="1147.9" cy="785.7" r="5" fill="#000"/>
<circle cx="1147.9" cy="807.1" r="5" fill="#000"/>
<circle cx="1147.9" cy="878" r="5" fill="#000"/>
<path d="M911.3 625.4V984H1206.8" stroke="#000" stroke-width="4.6" fill="none" stroke-linejoin="miter"/>
<path d="M897 984H911.3" stroke="#000" stroke-width="4.4"/>
<text x="891" y="992.5" font-size="24.5" text-anchor="end" fill="#000" font-weight="bold">0</text>
<path d="M897 894.9H911.3" stroke="#000" stroke-width="4.4"/>
<text x="891" y="903.4" font-size="24.5" text-anchor="end" fill="#000" font-weight="bold">20</text>
<path d="M897 805.9H911.3" stroke="#000" stroke-width="4.4"/>
<text x="891" y="814.4" font-size="24.5" text-anchor="end" fill="#000" font-weight="bold">40</text>
<path d="M897 716.8H911.3" stroke="#000" stroke-width="4.4"/>
<text x="891" y="725.3" font-size="24.5" text-anchor="end" fill="#000" font-weight="bold">60</text>
<path d="M897 627.7H911.3" stroke="#000" stroke-width="4.4"/>
<text x="891" y="636.2" font-size="24.5" text-anchor="end" fill="#000" font-weight="bold">80</text>
<path d="M969.9 984V999.5" stroke="#000" stroke-width="4.4"/>
<text x="969.9" y="1027" font-size="26.5" text-anchor="middle" fill="#000" font-weight="bold">Head</text>
<path d="M1058.9 984V999.5" stroke="#000" stroke-width="4.4"/>
<text x="1058.9" y="1027" font-size="26.5" text-anchor="middle" fill="#000" font-weight="bold">Body</text>
<path d="M1147.9 984V999.5" stroke="#000" stroke-width="4.4"/>
<text x="1147.9" y="1027" font-size="26.5" text-anchor="middle" fill="#000" font-weight="bold">Tail</text>
<text x="839" y="808" font-size="28.7" font-weight="bold" text-anchor="middle" transform="rotate(-90 839 808)">% CD63<tspan font-size="17" dy="-11">hi</tspan><tspan dy="11"> </tspan><tspan font-family="'Liberation Serif',serif" font-weight="normal" font-size="29">β</tspan> cells/total <tspan font-family="'Liberation Serif',serif" font-weight="normal" font-size="29">β</tspan> cells</text>
</g>
<g id="panelClabels">
<text x="75" y="577" font-size="50" text-anchor="start" fill="#000" font-weight="bold">c</text>
<rect x="182.2" y="539.5" width="193.4" height="32" fill="#000"/>
<rect x="385" y="539.5" width="192.4" height="32" fill="#000"/>
<rect x="586" y="539.5" width="193" height="32" fill="#000"/>
<text x="278.9" y="567" font-size="28.6" text-anchor="middle" fill="#20d020" font-weight="bold">CD63</text>
<text x="481.2" y="567" font-size="28.6" text-anchor="middle" fill="#ee1c1c" font-weight="bold">Insulin</text>
<text x="682.5" y="567" font-size="28.6" font-weight="bold" text-anchor="middle"><tspan fill="#f5b040">Merge</tspan><tspan fill="#fff"> / </tspan><tspan fill="#1f55e0">DAPI</tspan></text>
<text x="160.5" y="651" font-size="28" text-anchor="middle" fill="#000" font-weight="bold" transform="rotate(-90 160.5 651)">Head</text>
<text x="160.5" y="811.5" font-size="28" text-anchor="middle" fill="#000" font-weight="bold" transform="rotate(-90 160.5 811.5)">Body</text>
<text x="160.5" y="972" font-size="28" text-anchor="middle" fill="#000" font-weight="bold" transform="rotate(-90 160.5 972)">Tail</text>
</g>
<g id="panelD">
<text x="38.6" y="1192.3" font-size="50" text-anchor="start" fill="#000" font-weight="bold">d</text>
<path d="M440.4 1153.7H502.6" stroke="#000" stroke-width="2.4"/>
<path d="M525.6 1153.7L500.6 1142.2L500.6 1165.2Z" fill="#000"/>
<path d="M814.6 1157H877.6" stroke="#000" stroke-width="2.4"/>
<path d="M900.6 1157L875.6 1145.5L875.6 1168.5Z" fill="#000"/>
<path d="M1220.6 1159H1283" stroke="#000" stroke-width="2.4"/>
<path d="M1306 1159L1281 1147.5L1281 1170.5Z" fill="#000"/>
<path d="M1666 1156H1728" stroke="#000" stroke-width="2.4"/>
<path d="M1751 1156L1726 1144.5L1726 1167.5Z" fill="#000"/>
<g filter="url(#fc1)"><g clip-path="url(#cp1)">
<path d="M166.2 1434.4L167.9 1417.5L180.3 1402L197.2 1376.6L216.9 1331.5L242.3 1286.5L281.7 1258.3L338 1242.8L431 1221.7L431 1423.1L309.9 1433Z" fill="#000" fill-opacity="0.27" filter="url(#bl6)"/>
<path d="M197.2 1433L214.1 1365.4L239.4 1309L281.7 1272.4L338 1252.7L431 1233L431 1354.1L380.3 1365.4L323.9 1421.7L253.5 1433Z" fill="#000" fill-opacity="0.12" filter="url(#bl8)"/>
<path d="M225.4 1424.5L233.8 1354.1L267.6 1297.7L318.3 1263.9L431 1248.5L431 1337.2L366.2 1379.4L253.5 1430.1Z" fill="#000" fill-opacity="0.1" filter="url(#bl8)"/>
<path d="M309.9 1265.4L366.2 1256.1L431 1250.4L431 1263.4L366.2 1268.2L318.3 1274.6Z" fill="#000" fill-opacity="0.4" filter="url(#bl3)"/>
<ellipse cx="349.3" cy="1309" rx="47.9" ry="33.8" fill="#000" fill-opacity="0.3" filter="url(#bl8)" transform="rotate(-25 349.3 1309)"/>
<ellipse cx="287.3" cy="1410.4" rx="23.9" ry="7.9" fill="#000" fill-opacity="0.45" filter="url(#bl3)" transform="rotate(-8 287.3 1410.4)"/>
<path d="M166.8 1434.4L167.9 1418.9L191.5 1416.1L225.4 1426.8L315.5 1429L315.5 1434.4Z" fill="#000" fill-opacity="0.5" filter="url(#bl3)"/>
<ellipse cx="180.3" cy="1427.9" rx="17.5" ry="5.6" fill="#000" fill-opacity="0.6" filter="url(#bl3)" transform="rotate(-8 180.3 1427.9)"/>
<ellipse cx="171.3" cy="1431" rx="5.1" ry="2.5" fill="#000" fill-opacity="0.9" filter="url(#bl2)"/>
<rect x="426.2" y="1209" width="2.6" height="209.9" fill="#000" fill-opacity="0.75"/>
</g></g>
<rect x="165.6" y="1172.4" width="263.1" height="262" fill="none" stroke="#222" stroke-width="1.3"/>
<path d="M223.1 1431.5L204.2 1381.7L222.5 1297.7L285.1 1237.2L426.8 1208.2L426.8 1417.5L315.5 1429.6Z" fill="none" stroke="#111" stroke-width="2.2" stroke-linejoin="round"/>
<text x="156" y="1193.8" font-size="20.4" text-anchor="end" fill="#111">250K</text>
<text x="156" y="1243.1" font-size="20.4" text-anchor="end" fill="#111">200K</text>
<text x="156" y="1292.3" font-size="20.4" text-anchor="end" fill="#111">150K</text>
<text x="156" y="1341.7" font-size="20.4" text-anchor="end" fill="#111">100K</text>
<text x="156" y="1392.3" font-size="20.4" text-anchor="end" fill="#111">50K</text>
<text x="156" y="1438.8" font-size="20.4" text-anchor="end" fill="#111">0</text>
<path d="M157.6 1186.5H165.6M157.6 1235.8H165.6M157.6 1285H165.6M157.6 1334.4H165.6M157.6 1385H165.6M157.6 1431.5H165.6" stroke="#111" stroke-width="1.8" fill="none"/>
<path d="M161.6 1431.5H165.6M161.6 1421.6H165.6M161.6 1411.8H165.6M161.6 1401.9H165.6M161.6 1392.1H165.6M161.6 1382.2H165.6M161.6 1372.3H165.6M161.6 1362.5H165.6M161.6 1352.6H165.6M161.6 1342.8H165.6M161.6 1332.9H165.6M161.6 1323H165.6M161.6 1313.2H165.6M161.6 1303.3H165.6M161.6 1293.5H165.6M161.6 1283.6H165.6M161.6 1273.7H165.6M161.6 1263.9H165.6M161.6 1254H165.6M161.6 1244.2H165.6M161.6 1234.3H165.6M161.6 1224.4H165.6M161.6 1214.6H165.6M161.6 1204.7H165.6M161.6 1194.9H165.6M161.6 1185H165.6M161.6 1175.1H165.6" stroke="#333" stroke-width="1" fill="none"/>
<text x="215.5" y="1460.6" font-size="20.4" text-anchor="middle" fill="#111">50K</text>
<text x="264.8" y="1460.6" font-size="20.4" text-anchor="middle" fill="#111">100K</text>
<text x="315.5" y="1460.6" font-size="20.4" text-anchor="middle" fill="#111">150K</text>
<text x="366" y="1460.6" font-size="20.4" text-anchor="middle" fill="#111">200K</text>
<text x="419" y="1460.6" font-size="20.4" text-anchor="middle" fill="#111">250K</text>
<path d="M215.5 1434.4V1441.4M264.8 1434.4V1441.4M314.5 1434.4V1441.4M364 1434.4V1441.4M413.5 1434.4V1441.4" stroke="#111" stroke-width="1.6" fill="none"/>
<path d="M176.1 1434.4V1438.4M185.9 1434.4V1438.4M195.8 1434.4V1438.4M205.6 1434.4V1438.4M215.5 1434.4V1438.4M225.4 1434.4V1438.4M235.2 1434.4V1438.4M245.1 1434.4V1438.4M254.9 1434.4V1438.4M264.8 1434.4V1438.4M274.7 1434.4V1438.4M284.5 1434.4V1438.4M294.4 1434.4V1438.4M304.2 1434.4V1438.4M314.1 1434.4V1438.4M324 1434.4V1438.4M333.8 1434.4V1438.4M343.7 1434.4V1438.4M353.5 1434.4V1438.4M363.4 1434.4V1438.4M373.3 1434.4V1438.4M383.1 1434.4V1438.4M393 1434.4V1438.4M402.8 1434.4V1438.4M412.7 1434.4V1438.4M422.6 1434.4V1438.4" stroke="#333" stroke-width="1" fill="none"/>
<path d="M163.4 1476.6H388.4" stroke="#000" stroke-width="2.3"/>
<path d="M425.4 1476.6L386.4 1468.6L386.4 1484.6Z" fill="#000"/>
<text x="294.4" y="1517.5" font-size="28" text-anchor="middle" fill="#000">FSC-A</text>
<text x="91.5" y="1302.8" font-size="28" text-anchor="middle" fill="#000" transform="rotate(-90 91.5 1302.8)">SSC-A</text>
<g filter="url(#fc2)"><g clip-path="url(#cp2)">
<path d="M544.8 1174.4L806.2 1174.4L806.2 1286.5L544.8 1286.5Z" fill="#000" fill-opacity="0.24" filter="url(#bl3)"/>
<path d="M561.1 1182.3L806.2 1176.6L806.2 1200.6L561.1 1202.5Z" fill="#000" fill-opacity="0.3" filter="url(#bl3)"/>
<path d="M563.9 1188.5L693.5 1186.5L806.2 1182.3L806.2 1190.7L693.5 1196.3L563.9 1197.7Z" fill="#000" fill-opacity="0.25" filter="url(#bl2)"/>
<ellipse cx="578" cy="1192.7" rx="14.1" ry="3.4" fill="#000" fill-opacity="0.45" filter="url(#bl2)"/>
<path d="M546.5 1266.8L637.2 1261.1L721.7 1247L806.2 1233L806.2 1354.1L721.7 1376.6L597.7 1382.3L546.5 1376.6Z" fill="#000" fill-opacity="0.36" filter="url(#bl5)"/>
<path d="M546.5 1297.7L592.1 1292.1L597.7 1376.6L546.5 1376.6Z" fill="#000" fill-opacity="0.2" filter="url(#bl5)"/>
<path d="M597.7 1368.2L637.2 1320.3L721.7 1280.8L806.2 1263.9L806.2 1325.9L721.7 1348.5L651.3 1368.2L609 1375.2Z" fill="#000" fill-opacity="0.3" filter="url(#bl5)"/>
<path d="M631.5 1342.8L721.7 1294.9L806.2 1278L806.2 1311.8L721.7 1331.5L654.1 1356.9Z" fill="#000" fill-opacity="0.3" filter="url(#bl5)"/>
<ellipse cx="718.9" cy="1311.8" rx="70.4" ry="11.8" fill="#000" fill-opacity="0.17" filter="url(#bl5)" transform="rotate(-16 718.9 1311.8)"/>
<path d="M546.5 1309L558.3 1309L559.4 1362.5L586.5 1363.9L597.7 1375.2L546.5 1376.1Z" fill="#000" fill-opacity="0.42" filter="url(#bl3)"/>
<path d="M547 1320.3L553.8 1320.3L554.4 1366.8L578 1368.7L578 1375.2L547 1375.2Z" fill="#000" fill-opacity="0.36" filter="url(#bl2)"/>
<path d="M547 1367L566.8 1369.6L566.8 1375.2L547 1375.2Z" fill="#000" fill-opacity="0.55" filter="url(#bl2)"/>
</g></g>
<rect x="544.2" y="1173.8" width="261.4" height="260.6" fill="none" stroke="#222" stroke-width="1.3"/>
<path d="M598.6 1382.8L587.9 1345.6L589.3 1331.5L603.4 1309L649.9 1272.4L805.6 1238.6L805.6 1357.5Z" fill="none" stroke="#222" stroke-width="1.6" stroke-linejoin="round"/>
<text x="531" y="1206.8" font-size="25" text-anchor="end" fill="#111">10<tspan font-size="16" dy="-8.1">5</tspan></text>
<text x="531" y="1269.1" font-size="25" text-anchor="end" fill="#111">10<tspan font-size="16" dy="-8.1">4</tspan></text>
<text x="531" y="1340.5" font-size="25" text-anchor="end" fill="#111">10<tspan font-size="16" dy="-8.1">3</tspan></text>
<text x="522" y="1382" font-size="25" text-anchor="end" fill="#111">0</text>
<text x="531" y="1426.8" font-size="25" text-anchor="end" fill="#111">10<tspan font-size="16" dy="-8.1">3</tspan></text>
<path d="M536.2 1393.2H544.2M536.2 1332H544.2M536.2 1260.6H544.2M536.2 1198.3H544.2" stroke="#111" stroke-width="1.8" fill="none"/>
<path d="M540.2 1374.8H544.2M540.2 1364H544.2M540.2 1356.4H544.2M540.2 1350.4H544.2M540.2 1345.6H544.2M540.2 1341.5H544.2M540.2 1337.9H544.2M540.2 1334.8H544.2M540.2 1310.5H544.2M540.2 1297.9H544.2M540.2 1289H544.2M540.2 1282.1H544.2M540.2 1276.4H544.2M540.2 1271.7H544.2M540.2 1267.5H544.2M540.2 1263.9H544.2M540.2 1241.8H544.2M540.2 1230.9H544.2M540.2 1223.1H544.2M540.2 1217.1H544.2M540.2 1212.1H544.2M540.2 1208H544.2M540.2 1204.3H544.2M540.2 1201.2H544.2" stroke="#222" stroke-width="1" fill="none"/>
<path d="M536 1418.3H544.2M536 1373.2H544.2" stroke="#111" stroke-width="1.8"/>
<path d="M537 1368L543.5 1373.2L537 1378.5Z" fill="#000"/>
<text x="595.8" y="1460.6" font-size="20.4" text-anchor="middle" fill="#111">50K</text>
<text x="645" y="1460.6" font-size="20.4" text-anchor="middle" fill="#111">100K</text>
<text x="695.8" y="1460.6" font-size="20.4" text-anchor="middle" fill="#111">150K</text>
<text x="748.5" y="1460.6" font-size="20.4" text-anchor="middle" fill="#111">200K</text>
<text x="799" y="1460.6" font-size="20.4" text-anchor="middle" fill="#111">250K</text>
<path d="M594 1434.4V1441.4M643.5 1434.4V1441.4M693.5 1434.4V1441.4M743.5 1434.4V1441.4M793 1434.4V1441.4" stroke="#111" stroke-width="1.6" fill="none"/>
<path d="M554.4 1434.4V1438.4M564.3 1434.4V1438.4M574.2 1434.4V1438.4M584.1 1434.4V1438.4M594 1434.4V1438.4M603.9 1434.4V1438.4M613.8 1434.4V1438.4M623.7 1434.4V1438.4M633.6 1434.4V1438.4M643.5 1434.4V1438.4M653.4 1434.4V1438.4M663.3 1434.4V1438.4M673.2 1434.4V1438.4M683.1 1434.4V1438.4M693 1434.4V1438.4M702.9 1434.4V1438.4M712.8 1434.4V1438.4M722.7 1434.4V1438.4M732.6 1434.4V1438.4M742.5 1434.4V1438.4M752.4 1434.4V1438.4M762.3 1434.4V1438.4M772.2 1434.4V1438.4M782.1 1434.4V1438.4M792 1434.4V1438.4M801.9 1434.4V1438.4" stroke="#333" stroke-width="1" fill="none"/>
<path d="M550.7 1478.9H774.8" stroke="#000" stroke-width="2.3"/>
<path d="M811.8 1478.9L772.8 1470.9L772.8 1486.9Z" fill="#000"/>
<text x="676.6" y="1522.5" font-size="28" text-anchor="middle" fill="#000">FSC-A</text>
<text x="490.7" y="1304" font-size="28" text-anchor="middle" fill="#000" transform="rotate(-90 490.7 1304)">DAPI</text>
<text x="659" y="1418.3" font-size="28.8" text-anchor="start" fill="#111">Live cells</text>
<g filter="url(#fc3)"><g clip-path="url(#cp3)">
<path d="M1017.2 1286.5L1045.4 1272.4L1073.5 1297.7L1124.2 1334.4L1169.3 1356.9L1152.4 1382.3L1138.3 1433L1017.2 1435.8Z" fill="#000" fill-opacity="0.2" filter="url(#bl8)"/>
<path d="M1017.2 1286.5L1045.4 1280.8L1073.5 1303.4L1113 1337.2L1129.9 1359.7L1115.8 1393.5L1101.7 1433L1017.2 1435.8Z" fill="#000" fill-opacity="0.08" filter="url(#bl5)"/>
<path d="M1017.2 1286.5L1039.7 1286.5L1073.5 1320.3L1098.9 1354.1L1084.8 1393.5L1062.3 1433L1011.5 1435.8Z" fill="#000" fill-opacity="0.26" filter="url(#bl4)"/>
<path d="M1062.3 1337.2L1101.7 1348.5L1127 1362.5L1101.7 1365.4L1067.9 1354.1Z" fill="#000" fill-opacity="0.2" filter="url(#bl4)"/>
<path d="M1010.4 1435.2L1017.2 1393.5L1020.6 1337.2L1020.6 1289.3L1034.1 1300.6L1059.4 1327.3L1065.6 1342.3L1053.8 1376.6L1036.9 1407.6L1028.5 1435.2Z" fill="#000" fill-opacity="0.25" filter="url(#bl3)"/>
<path d="M1014.4 1433L1021.7 1379.4L1023.9 1323.1L1029.9 1313.2L1045.4 1334.4L1045.4 1349.9L1036.9 1387.9L1026.2 1421.7L1021.7 1433Z" fill="#000" fill-opacity="0.18" filter="url(#bl3)"/>
<path d="M1015.2 1431.5L1023.4 1373.8L1027.9 1331.5L1034.1 1334.4L1035.5 1354.1L1028.5 1387.9L1020.6 1430.1Z" fill="#000" fill-opacity="0.2" filter="url(#bl3)"/>
<path d="M1016.3 1430.1L1018.9 1410.4L1026.2 1365.4L1030.1 1337.2L1033.5 1343.4L1029.6 1373.8L1021.7 1413.2L1019.4 1430.1Z" fill="#000" fill-opacity="0.25" filter="url(#bl2)"/>
<path d="M1017.2 1429.6L1020 1407.6L1025.6 1382.3L1029 1382.3L1023.9 1410.4L1020.6 1427.3Z" fill="#000" fill-opacity="0.45" filter="url(#bl2)"/>
</g></g>
<rect x="944.8" y="1174.6" width="263.4" height="262" fill="none" stroke="#222" stroke-width="1.3"/>
<path d="M1003.7 1427.3L1019.4 1287L1034.1 1302L1059.4 1327.3L1065.6 1342.3L1058 1365.4L1051 1382.3L1039.7 1402L1031.3 1421.7L1020 1427.3Z" fill="none" stroke="#222" stroke-width="2" stroke-linejoin="round"/>
<text x="935" y="1193.3" font-size="20.4" text-anchor="end" fill="#111">250K</text>
<text x="935" y="1243.1" font-size="20.4" text-anchor="end" fill="#111">200K</text>
<text x="935" y="1293.3" font-size="20.4" text-anchor="end" fill="#111">150K</text>
<text x="935" y="1343.1" font-size="20.4" text-anchor="end" fill="#111">100K</text>
<text x="935" y="1393.3" font-size="20.4" text-anchor="end" fill="#111">50K</text>
<text x="935" y="1440.3" font-size="20.4" text-anchor="end" fill="#111">0</text>
<path d="M936.8 1186H944.8M936.8 1235.8H944.8M936.8 1286H944.8M936.8 1335.8H944.8M936.8 1386H944.8M936.8 1433H944.8" stroke="#111" stroke-width="1.8" fill="none"/>
<path d="M940.8 1433H944.8M940.8 1423H944.8M940.8 1413.1H944.8M940.8 1403.1H944.8M940.8 1393.2H944.8M940.8 1383.2H944.8M940.8 1373.2H944.8M940.8 1363.3H944.8M940.8 1353.3H944.8M940.8 1343.4H944.8M940.8 1333.4H944.8M940.8 1323.4H944.8M940.8 1313.5H944.8M940.8 1303.5H944.8M940.8 1293.6H944.8M940.8 1283.6H944.8M940.8 1273.6H944.8M940.8 1263.7H944.8M940.8 1253.7H944.8M940.8 1243.8H944.8M940.8 1233.8H944.8M940.8 1223.8H944.8M940.8 1213.9H944.8M940.8 1203.9H944.8M940.8 1194H944.8M940.8 1184H944.8" stroke="#333" stroke-width="1" fill="none"/>
<text x="994" y="1462" font-size="20.4" text-anchor="middle" fill="#111">50K</text>
<text x="1043.4" y="1462" font-size="20.4" text-anchor="middle" fill="#111">100K</text>
<text x="1095.2" y="1462" font-size="20.4" text-anchor="middle" fill="#111">150K</text>
<text x="1146" y="1462" font-size="20.4" text-anchor="middle" fill="#111">200K</text>
<text x="1198.3" y="1462" font-size="20.4" text-anchor="middle" fill="#111">250K</text>
<path d="M994 1436.6V1443.6M1043.4 1436.6V1443.6M1093 1436.6V1443.6M1143.5 1436.6V1443.6M1193.5 1436.6V1443.6" stroke="#111" stroke-width="1.6" fill="none"/>
<path d="M954.5 1436.6V1440.6M964.4 1436.6V1440.6M974.2 1436.6V1440.6M984.1 1436.6V1440.6M994 1436.6V1440.6M1003.9 1436.6V1440.6M1013.8 1436.6V1440.6M1023.6 1436.6V1440.6M1033.5 1436.6V1440.6M1043.4 1436.6V1440.6M1053.3 1436.6V1440.6M1063.2 1436.6V1440.6M1073 1436.6V1440.6M1082.9 1436.6V1440.6M1092.8 1436.6V1440.6M1102.7 1436.6V1440.6M1112.6 1436.6V1440.6M1122.4 1436.6V1440.6M1132.3 1436.6V1440.6M1142.2 1436.6V1440.6M1152.1 1436.6V1440.6M1162 1436.6V1440.6M1171.8 1436.6V1440.6M1181.7 1436.6V1440.6M1191.6 1436.6V1440.6M1201.5 1436.6V1440.6" stroke="#333" stroke-width="1" fill="none"/>
<path d="M948 1478.9H1173" stroke="#000" stroke-width="2.3"/>
<path d="M1210 1478.9L1171 1470.9L1171 1486.9Z" fill="#000"/>
<text x="1070.7" y="1522.5" font-size="28" text-anchor="middle" fill="#000">SSC-W</text>
<text x="879" y="1308.5" font-size="28" text-anchor="middle" fill="#000" transform="rotate(-90 879 1308.5)">SSC-H</text>
<text x="960.8" y="1257" font-size="27.9" text-anchor="start" fill="#111">Singlets</text>
<g filter="url(#fc4)"><g clip-path="url(#cp4)">
<path d="M1420.3 1385.1C1427.8 1364.4 1429.7 1318.9 1437.2 1297.7C1444.7 1276.6 1451.3 1265.8 1465.4 1258.3C1479.4 1250.8 1496.1 1253.6 1521.7 1252.7C1547.3 1251.7 1602.2 1240.9 1618.9 1252.7C1635.5 1264.4 1621.9 1294.9 1621.7 1323.1C1621.5 1351.3 1624.7 1401.3 1617.5 1421.7C1610.2 1442.1 1610.9 1441.4 1578 1445.6C1545.2 1449.9 1451.3 1451 1420.3 1447C1389.3 1443.1 1392.1 1432 1392.1 1421.7C1392.1 1411.4 1412.8 1405.7 1420.3 1385.1Z" fill="#000" fill-opacity="0.27" filter="url(#bl5)"/>
<path d="M1363.9 1404.8L1420.3 1382.3L1425.9 1447L1363.9 1442.8Z" fill="#000" fill-opacity="0.2" filter="url(#bl6)"/>
<path d="M1538.6 1354.1L1544.2 1275.2L1558.3 1252.7L1620.3 1252.7L1620.3 1309L1611.8 1354.1Z" fill="#000" fill-opacity="0.1" filter="url(#bl5)"/>
<path d="M1428.7 1444.2C1422.6 1431.1 1434.1 1392.1 1440 1365.4C1445.9 1338.6 1456 1301.5 1463.9 1283.7C1471.9 1265.8 1481.1 1260.2 1487.9 1258.3C1494.7 1256.4 1502.9 1259.2 1504.8 1272.4C1506.7 1285.5 1503.4 1317 1499.2 1337.2C1494.9 1357.4 1483.2 1375.7 1479.4 1393.5C1475.7 1411.4 1485.1 1435.8 1476.6 1444.2C1468.2 1452.7 1434.8 1457.4 1428.7 1444.2Z" fill="#000" fill-opacity="0.28" filter="url(#bl4)"/>
<path d="M1442.8 1442.8C1440.5 1429.9 1448.9 1390.5 1454.1 1365.4C1459.2 1340.2 1467.7 1307.6 1473.8 1292.1C1479.9 1276.6 1486.7 1271.5 1490.7 1272.4C1494.7 1273.3 1497.5 1285.5 1497.7 1297.7C1498 1310 1495.6 1329.7 1492.1 1345.6C1488.6 1361.6 1480.6 1377.3 1476.6 1393.5C1472.6 1409.7 1473.8 1434.6 1468.2 1442.8C1462.5 1451 1445.2 1455.7 1442.8 1442.8Z" fill="#000" fill-opacity="0.3" filter="url(#bl4)"/>
<ellipse cx="1481.7" cy="1325.9" rx="9" ry="38" fill="#000" fill-opacity="0.33" filter="url(#bl3)" transform="rotate(8 1481.7 1325.9)"/>
<ellipse cx="1482.8" cy="1327.3" rx="4.8" ry="25.4" fill="#000" fill-opacity="0.42" filter="url(#bl2)" transform="rotate(8 1482.8 1327.3)"/>
<ellipse cx="1462.5" cy="1393.5" rx="7.9" ry="22.5" fill="#000" fill-opacity="0.25" filter="url(#bl3)" transform="rotate(8 1462.5 1393.5)"/>
<ellipse cx="1455.5" cy="1431.5" rx="15.5" ry="9" fill="#000" fill-opacity="0.45" filter="url(#bl3)"/>
<ellipse cx="1455.5" cy="1431.5" rx="6.2" ry="3.9" fill="#000" fill-opacity="0.3" filter="url(#bl2)"/>
<path d="M1549.9 1342.8C1548.2 1333.4 1548.7 1300.6 1549.9 1286.5C1551 1272.4 1552 1263 1556.9 1258.3C1561.8 1253.6 1575.2 1255.5 1579.4 1258.3C1583.7 1261.1 1583.7 1266.8 1582.3 1275.2C1580.8 1283.7 1574.7 1297.7 1571 1309C1567.2 1320.3 1563.2 1337.2 1559.7 1342.8C1556.2 1348.5 1551.5 1352.2 1549.9 1342.8Z" fill="#000" fill-opacity="0.3" filter="url(#bl5)"/>
<path d="M1555.5 1314.6C1554.6 1308.1 1556.9 1283.9 1558.3 1275.2C1559.7 1266.5 1560.9 1264.4 1563.9 1262.5C1567 1260.7 1574.7 1260 1576.6 1263.9C1578.5 1267.9 1577.3 1278 1575.2 1286.5C1573.1 1294.9 1567.2 1310 1563.9 1314.6C1560.7 1319.3 1556.4 1321.2 1555.5 1314.6Z" fill="#000" fill-opacity="0.2" filter="url(#bl3)"/>
<ellipse cx="1568.2" cy="1271" rx="7.3" ry="5.1" fill="#000" fill-opacity="0.5" filter="url(#bl3)"/>
<path d="M1593.5 1325.9C1591.9 1317.5 1592.3 1286.7 1593.5 1275.2C1594.7 1263.7 1596.3 1259.7 1600.6 1256.9C1604.8 1254.1 1615.8 1253.4 1618.9 1258.3C1621.9 1263.2 1621.5 1275.2 1618.9 1286.5C1616.3 1297.7 1607.6 1319.3 1603.4 1325.9C1599.2 1332.5 1595.2 1334.4 1593.5 1325.9Z" fill="#000" fill-opacity="0.3" filter="url(#bl5)"/>
<path d="M1597.7 1297.7C1597.2 1293.5 1598.8 1278.3 1600 1272.4C1601.2 1266.5 1602.3 1263.9 1604.8 1262.5C1607.2 1261.1 1613.2 1260.9 1614.6 1263.9C1616.1 1267 1615.1 1275.2 1613.2 1280.8C1611.4 1286.5 1606 1294.9 1603.4 1297.7C1600.8 1300.6 1598.3 1302 1597.7 1297.7Z" fill="#000" fill-opacity="0.15" filter="url(#bl3)"/>
<ellipse cx="1606.2" cy="1269" rx="6.8" ry="5.6" fill="#000" fill-opacity="0.35" filter="url(#bl3)"/>
</g></g>
<rect x="1361.7" y="1175.2" width="283.1" height="282.3" fill="none" stroke="#222" stroke-width="1.3"/>
<path d="M1459.7 1409.9C1440.5 1410.3 1439.6 1404.7 1434.4 1399.2C1429.1 1393.6 1428.2 1393.5 1428.2 1376.6C1428.2 1359.7 1431 1316.5 1434.4 1297.7C1437.7 1279 1440.5 1271.8 1448.5 1263.9C1456.4 1256.1 1465.4 1254.6 1482.3 1250.4C1499.2 1246.2 1527.3 1239.9 1549.9 1238.6C1572.4 1237.3 1603.5 1239.1 1617.5 1242.8C1631.5 1246.6 1630.9 1252 1633.8 1261.1C1636.7 1270.3 1636 1284.1 1634.9 1297.7C1633.8 1311.4 1630.9 1329.9 1627.3 1342.8C1623.7 1355.7 1626.2 1366.3 1613.2 1375.2C1600.3 1384.1 1575.4 1390.6 1549.9 1396.3C1524.3 1402.1 1479 1409.4 1459.7 1409.9Z" fill="none" stroke="#000" stroke-width="3.4"/>
<text x="1352.7" y="1195.8" font-size="20.4" text-anchor="end" fill="#111">250K</text>
<text x="1352.7" y="1249.3" font-size="20.4" text-anchor="end" fill="#111">200K</text>
<text x="1352.7" y="1302.8" font-size="20.4" text-anchor="end" fill="#111">150K</text>
<text x="1352.7" y="1355.8" font-size="20.4" text-anchor="end" fill="#111">100K</text>
<text x="1352.7" y="1409.3" font-size="20.4" text-anchor="end" fill="#111">50K</text>
<text x="1352.7" y="1459.3" font-size="20.4" text-anchor="end" fill="#111">0</text>
<path d="M1353.7 1188.5H1361.7M1353.7 1242H1361.7M1353.7 1295.5H1361.7M1353.7 1348.5H1361.7M1353.7 1402H1361.7M1353.7 1452H1361.7" stroke="#111" stroke-width="1.8" fill="none"/>
<path d="M1357.7 1452H1361.7M1357.7 1441.3H1361.7M1357.7 1430.6H1361.7M1357.7 1419.9H1361.7M1357.7 1409.2H1361.7M1357.7 1398.5H1361.7M1357.7 1387.8H1361.7M1357.7 1377.1H1361.7M1357.7 1366.4H1361.7M1357.7 1355.7H1361.7M1357.7 1345H1361.7M1357.7 1334.3H1361.7M1357.7 1323.6H1361.7M1357.7 1312.9H1361.7M1357.7 1302.2H1361.7M1357.7 1291.5H1361.7M1357.7 1280.8H1361.7M1357.7 1270.1H1361.7M1357.7 1259.4H1361.7M1357.7 1248.7H1361.7M1357.7 1238H1361.7M1357.7 1227.3H1361.7M1357.7 1216.6H1361.7M1357.7 1205.9H1361.7M1357.7 1195.2H1361.7M1357.7 1184.5H1361.7" stroke="#333" stroke-width="1" fill="none"/>
<text x="1388" y="1485.6" font-size="25" text-anchor="middle" fill="#111">10<tspan font-size="16" dy="-8.1">1</tspan></text>
<text x="1450" y="1485.6" font-size="25" text-anchor="middle" fill="#111">10<tspan font-size="16" dy="-8.1">2</tspan></text>
<text x="1512" y="1485.6" font-size="25" text-anchor="middle" fill="#111">10<tspan font-size="16" dy="-8.1">3</tspan></text>
<text x="1566.8" y="1485.6" font-size="25" text-anchor="middle" fill="#111">10<tspan font-size="16" dy="-8.1">4</tspan></text>
<text x="1624.5" y="1485.6" font-size="25" text-anchor="middle" fill="#111">10<tspan font-size="16" dy="-8.1">5</tspan></text>
<path d="M1391 1457.5V1465.5M1448.5 1457.5V1465.5M1505.5 1457.5V1465.5M1562 1457.5V1465.5M1619.5 1457.5V1465.5M1368.1 1457.5V1461.5M1373.7 1457.5V1461.5M1378.2 1457.5V1461.5M1382.1 1457.5V1461.5M1385.4 1457.5V1461.5M1388.4 1457.5V1461.5M1408.3 1457.5V1461.5M1418.4 1457.5V1461.5M1425.6 1457.5V1461.5M1431.2 1457.5V1461.5M1435.7 1457.5V1461.5M1439.6 1457.5V1461.5M1442.9 1457.5V1461.5M1445.9 1457.5V1461.5M1465.7 1457.5V1461.5M1475.7 1457.5V1461.5M1482.8 1457.5V1461.5M1488.3 1457.5V1461.5M1492.9 1457.5V1461.5M1496.7 1457.5V1461.5M1500 1457.5V1461.5M1502.9 1457.5V1461.5M1522.5 1457.5V1461.5M1532.5 1457.5V1461.5M1539.5 1457.5V1461.5M1545 1457.5V1461.5M1549.5 1457.5V1461.5M1553.2 1457.5V1461.5M1556.5 1457.5V1461.5M1559.4 1457.5V1461.5M1579.3 1457.5V1461.5M1589.4 1457.5V1461.5M1596.6 1457.5V1461.5M1602.2 1457.5V1461.5M1606.7 1457.5V1461.5M1610.6 1457.5V1461.5M1613.9 1457.5V1461.5M1616.9 1457.5V1461.5M1636.8 1457.5V1461.5" stroke="#222" stroke-width="1.1" fill="none"/>
<path d="M1364.5 1503.4H1604.4" stroke="#000" stroke-width="2.3"/>
<path d="M1641.4 1503.4L1602.4 1495.4L1602.4 1511.4Z" fill="#000"/>
<text x="1502" y="1544.2" font-size="28" text-anchor="middle" fill="#000">GFP</text>
<text x="1299" y="1309" font-size="28" text-anchor="middle" fill="#000" transform="rotate(-90 1299 1309)">SSC-A</text>
<text x="1476.6" y="1226" font-size="32" text-anchor="start" fill="#111">β cells</text>
<path d="M1918.7 1463.3L1927.3 1453.9L1934.8 1434.1L1940.9 1404.4L1945.9 1355L1949.6 1325.3L1952.1 1320.3L1957 1293.1L1962 1248.6L1964.4 1236.3L1968.2 1248.6L1973.1 1293.1L1978 1342.6L1984.2 1369.8L1994.1 1392.1L2006.5 1416.8L2021.3 1439.1L2038.6 1453.9L2058.4 1463.3Z" fill="#e8e8e8" stroke="#c4c4c4" stroke-width="1.8" stroke-linejoin="round"/>
<path d="M1943.4 1463.3L1954.5 1456.4L1960.7 1446.5L1964.4 1429.2L1969.4 1399.5L1975.6 1369.8L1980.5 1350L1986.7 1312.9L1994.1 1273.4L1999.1 1248.6L2002.3 1240.5L2005.3 1253.6L2010.2 1278.3L2015.1 1300.6L2022.6 1322.8L2028.8 1357.4L2032.5 1364.9L2036.2 1377.2L2042.4 1392.1L2048.5 1421.8L2056 1439.1L2063.4 1451.4L2070.8 1455.9L2078.2 1457.6L2088.1 1462.6L2095.5 1463.3Z" fill="#86b868" fill-opacity="0.66" stroke="#4a8527" stroke-width="2" stroke-linejoin="round"/>
<rect x="1855.1" y="1176.9" width="287.9" height="286.4" fill="none" stroke="#222" stroke-width="1.3"/>
<text x="1841" y="1198.3" font-size="25" text-anchor="end" fill="#111">100</text>
<text x="1841" y="1252.7" font-size="25" text-anchor="end" fill="#111">80</text>
<text x="1841" y="1306.6" font-size="25" text-anchor="end" fill="#111">60</text>
<text x="1841" y="1361.5" font-size="25" text-anchor="end" fill="#111">40</text>
<text x="1841" y="1416" font-size="25" text-anchor="end" fill="#111">10</text>
<text x="1841" y="1470.3" font-size="25" text-anchor="end" fill="#111">0</text>
<path d="M1847.1 1189.3H1855.1M1847.1 1243.7H1855.1M1847.1 1297.6H1855.1M1847.1 1352.5H1855.1M1847.1 1407H1855.1M1847.1 1461.3H1855.1" stroke="#111" stroke-width="1.8" fill="none"/>
<path d="M1851.1 1461.3H1855.1M1851.1 1450.4H1855.1M1851.1 1439.5H1855.1M1851.1 1428.7H1855.1M1851.1 1417.8H1855.1M1851.1 1406.9H1855.1M1851.1 1396H1855.1M1851.1 1385.1H1855.1M1851.1 1374.3H1855.1M1851.1 1363.4H1855.1M1851.1 1352.5H1855.1M1851.1 1341.6H1855.1M1851.1 1330.7H1855.1M1851.1 1319.9H1855.1M1851.1 1309H1855.1M1851.1 1298.1H1855.1M1851.1 1287.2H1855.1M1851.1 1276.3H1855.1M1851.1 1265.5H1855.1M1851.1 1254.6H1855.1M1851.1 1243.7H1855.1M1851.1 1232.8H1855.1M1851.1 1221.9H1855.1M1851.1 1211.1H1855.1M1851.1 1200.2H1855.1M1851.1 1189.3H1855.1M1851.1 1178.4H1855.1" stroke="#333" stroke-width="1" fill="none"/>
<text x="1894" y="1491.5" font-size="25" text-anchor="middle" fill="#111">10<tspan font-size="16" dy="-8.1">1</tspan></text>
<text x="1976.8" y="1491.5" font-size="25" text-anchor="middle" fill="#111">10<tspan font-size="16" dy="-8.1">2</tspan></text>
<text x="2058.4" y="1491.5" font-size="25" text-anchor="middle" fill="#111">10<tspan font-size="16" dy="-8.1">3</tspan></text>
<text x="2126" y="1491.5" font-size="25" text-anchor="middle" fill="#111">10<tspan font-size="16" dy="-8.1">4</tspan></text>
<path d="M1897.7 1463.3V1471.3M1978 1463.3V1471.3M2059 1463.3V1471.3M2140 1463.3V1471.3M1865.7 1463.3V1467.3M1873.5 1463.3V1467.3M1879.9 1463.3V1467.3M1885.3 1463.3V1467.3M1889.9 1463.3V1467.3M1894 1463.3V1467.3M1921.9 1463.3V1467.3M1936 1463.3V1467.3M1946 1463.3V1467.3M1953.8 1463.3V1467.3M1960.2 1463.3V1467.3M1965.6 1463.3V1467.3M1970.2 1463.3V1467.3M1974.3 1463.3V1467.3M2002.4 1463.3V1467.3M2016.6 1463.3V1467.3M2026.8 1463.3V1467.3M2034.6 1463.3V1467.3M2041 1463.3V1467.3M2046.5 1463.3V1467.3M2051.2 1463.3V1467.3M2055.3 1463.3V1467.3M2083.4 1463.3V1467.3M2097.6 1463.3V1467.3M2107.8 1463.3V1467.3M2115.6 1463.3V1467.3M2122 1463.3V1467.3M2127.5 1463.3V1467.3M2132.2 1463.3V1467.3M2136.3 1463.3V1467.3" stroke="#222" stroke-width="1.1" fill="none"/>
<path d="M1848.2 1503.9H2108" stroke="#000" stroke-width="2.3"/>
<path d="M2145 1503.9L2106 1495.9L2106 1511.9Z" fill="#000"/>
<text x="1995.4" y="1544.2" font-size="28.4" text-anchor="middle" fill="#000">CD63-APC</text>
<text x="1790" y="1339" font-size="28.3" text-anchor="middle" fill="#000" transform="rotate(-90 1790 1339)">Normalized to mode</text>
<rect x="1827.5" y="1137" width="22.5" height="22" fill="#e6e6e6" stroke="#a8a8a8" stroke-width="1.6"/>
<text x="1860.6" y="1160.8" font-size="28.5" text-anchor="start" fill="#111">Isotypic control</text>
<rect x="2062.5" y="1137" width="22.5" height="22" fill="#a2c78e" stroke="#4f7f30" stroke-width="1.8"/>
<text x="2096.8" y="1160.8" font-size="28.5" text-anchor="start" fill="#111">CD63</text>
</g>
<g id="panelE">
<text x="-4" y="1666" font-size="50" text-anchor="start" fill="#000" font-weight="bold">e</text>
<path d="M463.4 1617.5H525.5" stroke="#000" stroke-width="2.4"/>
<path d="M548.5 1617.5L523.5 1606L523.5 1629Z" fill="#000"/>
<path d="M899.7 1620.3H962" stroke="#000" stroke-width="2.4"/>
<path d="M985 1620.3L960 1608.8L960 1631.8Z" fill="#000"/>
<path d="M1377.5 1623H1440" stroke="#000" stroke-width="2.4"/>
<path d="M1463 1623L1438 1611.5L1438 1634.5Z" fill="#000"/>
<g filter="url(#fc5)"><g clip-path="url(#cp5)">
<path d="M153.5 1916.6L154.9 1898.3L169 1878.6L191.5 1847.6L205.6 1805.4L214.1 1763.1L239.4 1737.7L281.7 1723.7L352.1 1715.2L440.8 1692.7L440.8 1895.5L338 1906.8L253.5 1913.8Z" fill="#000" fill-opacity="0.3" filter="url(#bl6)"/>
<path d="M380.3 1712.4L440.8 1687L440.8 1777.2L394.4 1760.3Z" fill="#000" fill-opacity="0.12" filter="url(#bl6)"/>
<path d="M214.1 1861.7L225.4 1777.2L253.5 1737.7L338 1720.8L440.8 1701.1L440.8 1777.2L366.2 1805.4L309.9 1861.7Z" fill="#000" fill-opacity="0.15" filter="url(#bl8)"/>
<ellipse cx="332.4" cy="1765.9" rx="64.8" ry="31" fill="#000" fill-opacity="0.15" filter="url(#bl8)" transform="rotate(-10 332.4 1765.9)"/>
<path d="M281.7 1744.8L402.8 1730.7L366.2 1794.1L309.9 1782.8Z" fill="#000" fill-opacity="0.12" filter="url(#bl8)"/>
<path d="M281.7 1742.8L338 1734.9L405.6 1730.7L402.8 1738.3L338 1743.4L284.5 1749.6Z" fill="#000" fill-opacity="0.26" filter="url(#bl3)"/>
<path d="M153.5 1916.6L154.9 1898.3L174.6 1881.4L202.8 1878.6L225.4 1895.5L281.7 1903.9L281.7 1912.4L225.4 1915.2Z" fill="#000" fill-opacity="0.4" filter="url(#bl4)"/>
<path d="M153.5 1916.6L155.5 1901.1L180.3 1888.5L202.8 1894.1L214.1 1903.9L253.5 1908.2L253.5 1913.8L197.2 1915.8Z" fill="#000" fill-opacity="0.33" filter="url(#bl3)"/>
<ellipse cx="164.8" cy="1911" rx="9.6" ry="5.1" fill="#000" fill-opacity="0.55" filter="url(#bl3)"/>
<ellipse cx="159.2" cy="1913" rx="4.2" ry="2.8" fill="#000" fill-opacity="0.9" filter="url(#bl2)"/>
<rect x="437.7" y="1630.7" width="2" height="270.4" fill="#000" fill-opacity="0.6"/>
</g></g>
<rect x="152.7" y="1629.9" width="286.7" height="286.7" fill="none" stroke="#777" stroke-width="1.1"/>
<path d="M152.7 1629.9V1916.6H439.4" fill="none" stroke="#111" stroke-width="1.7"/>
<path d="M205.1 1861.7L215.5 1763.1L263.4 1702.5L438 1658.3L438 1850.4L390.1 1904.5L209.9 1904.5Z" fill="none" stroke="#8e8e8e" stroke-width="1.4" stroke-linejoin="round"/>
<text x="139.4" y="1651.5" font-size="20.4" text-anchor="end" fill="#111">250K</text>
<text x="139.4" y="1705.6" font-size="20.4" text-anchor="end" fill="#111">200K</text>
<text x="139.4" y="1759.7" font-size="20.4" text-anchor="end" fill="#111">150K</text>
<text x="139.4" y="1814.9" font-size="20.4" text-anchor="end" fill="#111">100K</text>
<text x="139.4" y="1871.3" font-size="20.4" text-anchor="end" fill="#111">50K</text>
<text x="139.4" y="1926.7" font-size="20.4" text-anchor="end" fill="#111">0</text>
<path d="M144.7 1644.2H152.7M144.7 1698.3H152.7M144.7 1752.4H152.7M144.7 1807.6H152.7M144.7 1864H152.7M144.7 1919.4H152.7" stroke="#111" stroke-width="1.8" fill="none"/>
<path d="M148.7 1919.4H152.7M148.7 1908.6H152.7M148.7 1897.8H152.7M148.7 1886.9H152.7M148.7 1876.1H152.7M148.7 1865.3H152.7M148.7 1854.5H152.7M148.7 1843.7H152.7M148.7 1832.8H152.7M148.7 1822H152.7M148.7 1811.2H152.7M148.7 1800.4H152.7M148.7 1789.6H152.7M148.7 1778.7H152.7M148.7 1767.9H152.7M148.7 1757.1H152.7M148.7 1746.3H152.7M148.7 1735.5H152.7M148.7 1724.6H152.7M148.7 1713.8H152.7M148.7 1703H152.7M148.7 1692.2H152.7M148.7 1681.4H152.7M148.7 1670.5H152.7M148.7 1659.7H152.7M148.7 1648.9H152.7M148.7 1638.1H152.7" stroke="#333" stroke-width="1" fill="none"/>
<text x="209.9" y="1944.8" font-size="20.4" text-anchor="middle" fill="#111">50K</text>
<text x="263.4" y="1944.8" font-size="20.4" text-anchor="middle" fill="#111">100K</text>
<text x="317" y="1944.8" font-size="20.4" text-anchor="middle" fill="#111">150K</text>
<text x="371.8" y="1944.8" font-size="20.4" text-anchor="middle" fill="#111">200K</text>
<text x="428.2" y="1944.8" font-size="20.4" text-anchor="middle" fill="#111">250K</text>
<path d="M206.5 1916.6V1923.6M260 1916.6V1923.6M314.5 1916.6V1923.6M369 1916.6V1923.6M423.5 1916.6V1923.6" stroke="#111" stroke-width="1.6" fill="none"/>
<path d="M163.7 1916.6V1920.6M174.4 1916.6V1920.6M185.1 1916.6V1920.6M195.8 1916.6V1920.6M206.5 1916.6V1920.6M217.2 1916.6V1920.6M227.9 1916.6V1920.6M238.6 1916.6V1920.6M249.3 1916.6V1920.6M260 1916.6V1920.6M270.7 1916.6V1920.6M281.4 1916.6V1920.6M292.1 1916.6V1920.6M302.8 1916.6V1920.6M313.5 1916.6V1920.6M324.2 1916.6V1920.6M334.9 1916.6V1920.6M345.6 1916.6V1920.6M356.3 1916.6V1920.6M367 1916.6V1920.6M377.7 1916.6V1920.6M388.4 1916.6V1920.6M399.1 1916.6V1920.6M409.8 1916.6V1920.6M420.5 1916.6V1920.6M431.2 1916.6V1920.6" stroke="#333" stroke-width="1" fill="none"/>
<path d="M156.3 1971.5H395.4" stroke="#000" stroke-width="2.3"/>
<path d="M432.4 1971.5L393.4 1963.5L393.4 1979.5Z" fill="#000"/>
<text x="293" y="2011" font-size="28" text-anchor="middle" fill="#000">FSC-A</text>
<text x="76" y="1767.3" font-size="28" text-anchor="middle" fill="#000" transform="rotate(-90 76 1767.3)">SSC-A</text>
<g filter="url(#fc6)"><g clip-path="url(#cp6)">
<path d="M648.5 1637.7L885.1 1637.7L885.1 1861.7L654.1 1861.7Z" fill="#000" fill-opacity="0.17" filter="url(#bl4)"/>
<path d="M647 1649.9L721.7 1645.4L885.1 1643.4L885.1 1656.1L721.7 1657.5L647 1658.9Z" fill="#000" fill-opacity="0.4" filter="url(#bl2)"/>
<path d="M662.5 1651.8L735.8 1647.6L820.3 1646.5L820.3 1653.8L735.8 1655.5L662.5 1656.6Z" fill="#000" fill-opacity="0.4" filter="url(#bl2)"/>
<path d="M733 1649L803.4 1647.6L803.4 1652.7L733 1653.8Z" fill="#000" fill-opacity="0.5" filter="url(#bl2)"/>
<path d="M647 1712.4L679.4 1695.5L749.9 1687L848.5 1689.9L834.4 1712.4L721.7 1737.7L679.4 1763.1L647 1763.1Z" fill="#000" fill-opacity="0.25" filter="url(#bl8)"/>
<ellipse cx="676.6" cy="1729.3" rx="31" ry="23.9" fill="#000" fill-opacity="0.2" filter="url(#bl8)" transform="rotate(-15 676.6 1729.3)"/>
<path d="M647.6 1698.3L654.6 1698.3L654.6 1850.4L647.6 1850.4Z" fill="#000" fill-opacity="0.15" filter="url(#bl3)"/>
<path d="M656.9 1782.8L721.7 1768.7L806.2 1763.1L887.9 1760.3L887.9 1833.5L806.2 1846.2L693.5 1857.5L656.9 1844.8Z" fill="#000" fill-opacity="0.26" filter="url(#bl8)"/>
<path d="M651.3 1774.4L721.7 1757.5L806.2 1751.8L887.9 1749L887.9 1844.8L806.2 1856.1L693.5 1864.5L651.3 1850.4Z" fill="#000" fill-opacity="0.1" filter="url(#bl12)"/>
<ellipse cx="763.9" cy="1819.4" rx="95.8" ry="24.8" fill="#000" fill-opacity="0.25" filter="url(#bl8)" transform="rotate(-10 763.9 1819.4)"/>
<ellipse cx="761.1" cy="1819.4" rx="78.9" ry="16.3" fill="#000" fill-opacity="0.28" filter="url(#bl6)" transform="rotate(-10 761.1 1819.4)"/>
<ellipse cx="769.6" cy="1816.1" rx="50.7" ry="9" fill="#000" fill-opacity="0.27" filter="url(#bl4)" transform="rotate(-8 769.6 1816.1)"/>
<ellipse cx="778" cy="1812.7" rx="23.9" ry="3.7" fill="#000" fill-opacity="0.18" filter="url(#bl3)" transform="rotate(-5 778 1812.7)"/>
<rect x="882" y="1760.3" width="1.6" height="62" fill="#000" fill-opacity="1"/>
</g></g>
<rect x="593.5" y="1636.3" width="290.2" height="287.9" fill="none" stroke="#777" stroke-width="1.1"/>
<path d="M593.5 1636.3V1924.2H883.7" fill="none" stroke="#111" stroke-width="1.7"/>
<path d="M649.9 1791.3L685.1 1774.4L733 1751.8L882.3 1737.2L878 1836.9L825.9 1857.5L692.1 1873.5L639.4 1854.6Z" fill="none" stroke="#8e8e8e" stroke-width="1.4" stroke-linejoin="round"/>
<text x="583.5" y="1670.2" font-size="25" text-anchor="end" fill="#111">10<tspan font-size="16" dy="-8.1">5</tspan></text>
<text x="583.5" y="1740.5" font-size="25" text-anchor="end" fill="#111">10<tspan font-size="16" dy="-8.1">4</tspan></text>
<text x="583.5" y="1819.5" font-size="25" text-anchor="end" fill="#111">10<tspan font-size="16" dy="-8.1">3</tspan></text>
<text x="575" y="1869.1" font-size="25" text-anchor="end" fill="#111">0</text>
<text x="583.5" y="1915.3" font-size="25" text-anchor="end" fill="#111">10<tspan font-size="16" dy="-8.1">3</tspan></text>
<path d="M585.5 1882.3H593.5M585.5 1811H593.5M585.5 1732H593.5M585.5 1661.7H593.5" stroke="#111" stroke-width="1.8" fill="none"/>
<path d="M589.5 1860.8H593.5M589.5 1848.3H593.5M589.5 1839.4H593.5M589.5 1832.5H593.5M589.5 1826.8H593.5M589.5 1822H593.5M589.5 1817.9H593.5M589.5 1814.3H593.5M589.5 1787.2H593.5M589.5 1773.3H593.5M589.5 1763.4H593.5M589.5 1755.8H593.5M589.5 1749.5H593.5M589.5 1744.2H593.5M589.5 1739.7H593.5M589.5 1735.6H593.5M589.5 1710.8H593.5M589.5 1698.5H593.5M589.5 1689.7H593.5M589.5 1682.9H593.5M589.5 1677.3H593.5M589.5 1672.6H593.5M589.5 1668.5H593.5M589.5 1664.9H593.5" stroke="#222" stroke-width="1" fill="none"/>
<path d="M585.5 1906.8H593.5M585.5 1860.3H593.5" stroke="#111" stroke-width="1.8"/>
<path d="M585 1854.5H593.5V1866.5H585Z" fill="#000"/>
<text x="651.8" y="1956" font-size="20.4" text-anchor="middle" fill="#111">50K</text>
<text x="706.2" y="1956" font-size="20.4" text-anchor="middle" fill="#111">100K</text>
<text x="758.9" y="1956" font-size="20.4" text-anchor="middle" fill="#111">150K</text>
<text x="814.6" y="1956" font-size="20.4" text-anchor="middle" fill="#111">200K</text>
<text x="871" y="1956" font-size="20.4" text-anchor="middle" fill="#111">250K</text>
<path d="M648 1924.2V1931.2M702.5 1924.2V1931.2M758 1924.2V1931.2M813.5 1924.2V1931.2M868.5 1924.2V1931.2" stroke="#111" stroke-width="1.6" fill="none"/>
<path d="M604.4 1924.2V1928.2M615.3 1924.2V1928.2M626.2 1924.2V1928.2M637.1 1924.2V1928.2M648 1924.2V1928.2M658.9 1924.2V1928.2M669.8 1924.2V1928.2M680.7 1924.2V1928.2M691.6 1924.2V1928.2M702.5 1924.2V1928.2M713.4 1924.2V1928.2M724.3 1924.2V1928.2M735.2 1924.2V1928.2M746.1 1924.2V1928.2M757 1924.2V1928.2M767.9 1924.2V1928.2M778.8 1924.2V1928.2M789.7 1924.2V1928.2M800.6 1924.2V1928.2M811.5 1924.2V1928.2M822.4 1924.2V1928.2M833.3 1924.2V1928.2M844.2 1924.2V1928.2M855.1 1924.2V1928.2M866 1924.2V1928.2M876.9 1924.2V1928.2" stroke="#333" stroke-width="1" fill="none"/>
<path d="M611 1982.3H849.5" stroke="#000" stroke-width="2.3"/>
<path d="M886.5 1982.3L847.5 1974.3L847.5 1990.3Z" fill="#000"/>
<text x="735.8" y="2025" font-size="28" text-anchor="middle" fill="#000">FSC-A</text>
<text x="540" y="1791.3" font-size="28" text-anchor="middle" fill="#000" transform="rotate(-90 540 1791.3)">DAPI</text>
<text x="727.9" y="1902.5" font-size="22.3" text-anchor="start" fill="#111">Live cells</text>
<g filter="url(#fc7)"><g clip-path="url(#cp7)">
<path d="M1142.3 1743.4L1162 1740.6L1187.3 1782.8L1215.5 1813.8L1229.6 1833.5L1218.3 1875.8L1246.5 1916.6L1139.4 1916.6Z" fill="#000" fill-opacity="0.2" filter="url(#bl8)"/>
<path d="M1145.1 1754.6L1164.8 1760.3L1193 1805.4L1198.6 1833.5L1181.7 1875.8L1195.8 1913.8L1139.4 1915.2Z" fill="#000" fill-opacity="0.12" filter="url(#bl6)"/>
<path d="M1139.4 1749L1153.5 1746.2L1176.1 1788.5L1193 1822.3L1181.7 1861.7L1176.1 1912.4L1136.6 1913.8Z" fill="#000" fill-opacity="0.26" filter="url(#bl5)"/>
<path d="M1136.1 1911L1139.4 1861.7L1145.1 1819.4L1142.8 1777.2L1140.8 1754.6L1150.7 1756.1L1166.2 1788.5L1172.7 1813.8L1164.8 1850.4L1157.7 1889.9L1154.9 1912.4Z" fill="#000" fill-opacity="0.36" filter="url(#bl3)"/>
<path d="M1138.9 1909.6L1142.8 1861.7L1149 1819.4L1147.9 1782.8L1152.4 1778.6L1163.7 1802.5L1164.2 1822.3L1154.6 1856.1L1148.5 1909.6Z" fill="#000" fill-opacity="0.27" filter="url(#bl3)"/>
<path d="M1141.1 1906.8L1145.6 1861.7L1153 1822.3L1154.1 1789.9L1160.8 1802.5L1160.8 1822.3L1151.3 1858.9L1146.2 1906.8Z" fill="#000" fill-opacity="0.25" filter="url(#bl2)"/>
<path d="M1143.4 1903.9L1148.5 1861.7L1155.8 1825.1L1156.6 1798.3L1160.3 1805.4L1159.4 1825.1L1151.5 1861.7L1145.9 1903.9Z" fill="#000" fill-opacity="0.2" filter="url(#bl2)"/>
<ellipse cx="1159.4" cy="1808.2" rx="1.7" ry="15.5" fill="#000" fill-opacity="0.55" filter="url(#bl1)" transform="rotate(-4 1159.4 1808.2)"/>
<ellipse cx="1154.9" cy="1839.2" rx="1.4" ry="11.3" fill="#000" fill-opacity="0.2" filter="url(#bl1)" transform="rotate(-14 1154.9 1839.2)"/>
<ellipse cx="1144.8" cy="1894.1" rx="1.4" ry="9.9" fill="#000" fill-opacity="0.2" filter="url(#bl1)" transform="rotate(8 1144.8 1894.1)"/>
</g></g>
<rect x="1062.5" y="1636.9" width="287.6" height="287.3" fill="none" stroke="#777" stroke-width="1.1"/>
<path d="M1062.5 1636.9V1924.2H1350.1" fill="none" stroke="#111" stroke-width="1.7"/>
<path d="M1129.6 1912.4L1154.9 1916.6L1162 1861.7L1171.8 1819.4L1164.8 1791.3L1147.9 1754.6L1144.5 1739.2L1136.1 1750.4L1142.3 1785.6L1142.8 1819.4L1136.6 1861.7Z" fill="none" stroke="#8e8e8e" stroke-width="1.4" stroke-linejoin="round"/>
<text x="1047.9" y="1659.1" font-size="20.4" text-anchor="end" fill="#111">250K</text>
<text x="1047.9" y="1713.5" font-size="20.4" text-anchor="end" fill="#111">200K</text>
<text x="1047.9" y="1769" font-size="20.4" text-anchor="end" fill="#111">150K</text>
<text x="1047.9" y="1821.7" font-size="20.4" text-anchor="end" fill="#111">100K</text>
<text x="1047.9" y="1877.3" font-size="20.4" text-anchor="end" fill="#111">50K</text>
<text x="1047.9" y="1933.8" font-size="20.4" text-anchor="end" fill="#111">0</text>
<path d="M1053.5 1651.8H1062.5M1053.5 1706.2H1062.5M1053.5 1761.7H1062.5M1053.5 1814.4H1062.5M1053.5 1870H1062.5M1053.5 1926.5H1062.5" stroke="#111" stroke-width="1.8" fill="none"/>
<path d="M1058.5 1926.5H1062.5M1058.5 1915.6H1062.5M1058.5 1904.7H1062.5M1058.5 1893.9H1062.5M1058.5 1883H1062.5M1058.5 1872.1H1062.5M1058.5 1861.2H1062.5M1058.5 1850.3H1062.5M1058.5 1839.5H1062.5M1058.5 1828.6H1062.5M1058.5 1817.7H1062.5M1058.5 1806.8H1062.5M1058.5 1795.9H1062.5M1058.5 1785.1H1062.5M1058.5 1774.2H1062.5M1058.5 1763.3H1062.5M1058.5 1752.4H1062.5M1058.5 1741.5H1062.5M1058.5 1730.7H1062.5M1058.5 1719.8H1062.5M1058.5 1708.9H1062.5M1058.5 1698H1062.5M1058.5 1687.1H1062.5M1058.5 1676.3H1062.5M1058.5 1665.4H1062.5M1058.5 1654.5H1062.5M1058.5 1643.6H1062.5" stroke="#333" stroke-width="1" fill="none"/>
<text x="1119" y="1956" font-size="20.4" text-anchor="middle" fill="#111">50K</text>
<text x="1173.2" y="1956" font-size="20.4" text-anchor="middle" fill="#111">100K</text>
<text x="1225.4" y="1956" font-size="20.4" text-anchor="middle" fill="#111">150K</text>
<text x="1282.3" y="1956" font-size="20.4" text-anchor="middle" fill="#111">200K</text>
<text x="1338" y="1956" font-size="20.4" text-anchor="middle" fill="#111">250K</text>
<path d="M1116.5 1924.2V1931.2M1171 1924.2V1931.2M1226 1924.2V1931.2M1281 1924.2V1931.2M1335.5 1924.2V1931.2" stroke="#111" stroke-width="1.6" fill="none"/>
<path d="M1072.9 1924.2V1928.2M1083.8 1924.2V1928.2M1094.7 1924.2V1928.2M1105.6 1924.2V1928.2M1116.5 1924.2V1928.2M1127.4 1924.2V1928.2M1138.3 1924.2V1928.2M1149.2 1924.2V1928.2M1160.1 1924.2V1928.2M1171 1924.2V1928.2M1181.9 1924.2V1928.2M1192.8 1924.2V1928.2M1203.7 1924.2V1928.2M1214.6 1924.2V1928.2M1225.5 1924.2V1928.2M1236.4 1924.2V1928.2M1247.3 1924.2V1928.2M1258.2 1924.2V1928.2M1269.1 1924.2V1928.2M1280 1924.2V1928.2M1290.9 1924.2V1928.2M1301.8 1924.2V1928.2M1312.7 1924.2V1928.2M1323.6 1924.2V1928.2M1334.5 1924.2V1928.2M1345.4 1924.2V1928.2" stroke="#333" stroke-width="1" fill="none"/>
<path d="M1078 1984.8H1316.5" stroke="#000" stroke-width="2.3"/>
<path d="M1353.5 1984.8L1314.5 1976.8L1314.5 1992.8Z" fill="#000"/>
<text x="1209" y="2020" font-size="28" text-anchor="middle" fill="#000">SSC-W</text>
<text x="989.6" y="1771" font-size="28" text-anchor="middle" fill="#000" transform="rotate(-90 989.6 1771)">SSC-H</text>
<text x="1078.9" y="1720.8" font-size="22" text-anchor="start" fill="#111">Singlets</text>
<g filter="url(#fc8)"><g clip-path="url(#cp8)">
<path d="M1647 1909.6C1636.9 1896.7 1648.9 1857.9 1651.3 1833.5C1653.6 1809.1 1655.3 1782.3 1661.1 1763.1C1667 1743.8 1674.3 1728.8 1686.5 1718C1698.7 1707.2 1720.5 1701.8 1734.4 1698.3C1748.2 1694.8 1764.4 1688.5 1769.6 1696.9C1774.7 1705.4 1768.9 1730 1765.4 1749C1761.8 1768 1753.6 1792.2 1748.5 1811C1743.3 1829.8 1740.5 1845 1734.4 1861.7C1728.3 1878.4 1726.4 1903 1711.8 1911C1697.3 1919 1657.1 1922.5 1647 1909.6Z" fill="#000" fill-opacity="0.27" filter="url(#bl6)"/>
<path d="M1649.9 1908.2C1645.6 1893.4 1652.2 1844.1 1655.5 1819.4C1658.8 1794.8 1661.6 1776.2 1669.6 1760.3C1677.6 1744.3 1689.8 1732.1 1703.4 1723.7C1717 1715.2 1742.3 1707.2 1751.3 1709.6C1760.2 1711.9 1759.2 1721.8 1756.9 1737.7C1754.6 1753.7 1747 1787 1737.2 1805.4C1727.3 1823.7 1707.1 1830.5 1697.7 1847.6C1688.4 1864.7 1688.8 1898.1 1680.8 1908.2C1672.9 1918.3 1654.1 1923 1649.9 1908.2Z" fill="#000" fill-opacity="0.24" filter="url(#bl5)"/>
<path d="M1649.3 1908.2L1652.1 1861.7L1659.7 1811L1666.8 1805.4L1664.5 1847.6L1661.1 1906.8Z" fill="#000" fill-opacity="0.42" filter="url(#bl3)"/>
<ellipse cx="1656.3" cy="1867.3" rx="1.7" ry="33.8" fill="#000" fill-opacity="0.6" filter="url(#bl1)" transform="rotate(5 1656.3 1867.3)"/>
<ellipse cx="1655.2" cy="1881.4" rx="1.1" ry="22.5" fill="#000" fill-opacity="0.55" filter="url(#bl1)" transform="rotate(4 1655.2 1881.4)"/>
<path d="M1685.1 1813.8C1682.5 1804.4 1690.5 1776.5 1696.3 1763.1C1702.2 1749.7 1711.6 1740.1 1720.3 1733.5C1729 1726.9 1743.1 1720.1 1748.5 1723.7C1753.8 1727.2 1754.3 1742.9 1752.7 1754.6C1751 1766.4 1745.4 1783.3 1738.6 1794.1C1731.8 1804.9 1720.8 1816.2 1711.8 1819.4C1702.9 1822.7 1687.7 1823.2 1685.1 1813.8Z" fill="#000" fill-opacity="0.3" filter="url(#bl6)"/>
<path d="M1702 1796.9C1699.8 1790.8 1706.4 1769.7 1710.4 1760.3C1714.4 1750.9 1720.8 1744.3 1725.9 1740.6C1731.1 1736.8 1739.4 1733.3 1741.4 1737.7C1743.4 1742.2 1740.7 1757.5 1737.7 1767.3C1734.8 1777.2 1729.6 1792 1723.7 1796.9C1717.7 1801.8 1704.2 1803 1702 1796.9Z" fill="#000" fill-opacity="0.27" filter="url(#bl4)"/>
<ellipse cx="1725.9" cy="1751.8" rx="7.3" ry="13.5" fill="#000" fill-opacity="0.28" filter="url(#bl3)" transform="rotate(25 1725.9 1751.8)"/>
<ellipse cx="1728.2" cy="1745.6" rx="4.5" ry="3.4" fill="#000" fill-opacity="0.35" filter="url(#bl2)"/>
</g></g>
<rect x="1580.3" y="1637.2" width="289.8" height="285.9" fill="none" stroke="#777" stroke-width="1.1"/>
<path d="M1580.3 1637.2V1923.1H1870.1" fill="none" stroke="#111" stroke-width="1.7"/>
<path d="M1692.1 1830.7L1703.4 1726.5L1720.3 1708.2L1756.9 1698.3L1772.4 1698.9L1773.8 1736.3L1752.7 1811L1731.5 1827.9Z" fill="none" stroke="#8e8e8e" stroke-width="1.4" stroke-linejoin="round"/>
<text x="1566.2" y="1659.1" font-size="20.4" text-anchor="end" fill="#111">250K</text>
<text x="1566.2" y="1712.1" font-size="20.4" text-anchor="end" fill="#111">200K</text>
<text x="1566.2" y="1767.6" font-size="20.4" text-anchor="end" fill="#111">150K</text>
<text x="1566.2" y="1820.5" font-size="20.4" text-anchor="end" fill="#111">100K</text>
<text x="1566.2" y="1876" font-size="20.4" text-anchor="end" fill="#111">50K</text>
<text x="1566.2" y="1932.3" font-size="20.4" text-anchor="end" fill="#111">0</text>
<path d="M1571.3 1651.8H1580.3M1571.3 1704.8H1580.3M1571.3 1760.3H1580.3M1571.3 1813.2H1580.3M1571.3 1868.7H1580.3M1571.3 1925H1580.3" stroke="#111" stroke-width="1.8" fill="none"/>
<path d="M1576.3 1925H1580.3M1576.3 1914.4H1580.3M1576.3 1903.8H1580.3M1576.3 1893.2H1580.3M1576.3 1882.6H1580.3M1576.3 1872H1580.3M1576.3 1861.4H1580.3M1576.3 1850.8H1580.3M1576.3 1840.2H1580.3M1576.3 1829.6H1580.3M1576.3 1819H1580.3M1576.3 1808.4H1580.3M1576.3 1797.8H1580.3M1576.3 1787.2H1580.3M1576.3 1776.6H1580.3M1576.3 1766H1580.3M1576.3 1755.4H1580.3M1576.3 1744.8H1580.3M1576.3 1734.2H1580.3M1576.3 1723.6H1580.3M1576.3 1713H1580.3M1576.3 1702.4H1580.3M1576.3 1691.8H1580.3M1576.3 1681.2H1580.3M1576.3 1670.6H1580.3M1576.3 1660H1580.3M1576.3 1649.4H1580.3M1576.3 1638.8H1580.3" stroke="#333" stroke-width="1" fill="none"/>
<text x="1597" y="1957.5" font-size="25" text-anchor="middle" fill="#111">-10<tspan font-size="16" dy="-8.1">3</tspan></text>
<text x="1646.2" y="1957.5" font-size="25" text-anchor="middle" fill="#111">0</text>
<text x="1697.7" y="1957.5" font-size="25" text-anchor="middle" fill="#111">10<tspan font-size="16" dy="-8.1">3</tspan></text>
<text x="1773.8" y="1957.5" font-size="25" text-anchor="middle" fill="#111">10<tspan font-size="16" dy="-8.1">4</tspan></text>
<text x="1844.2" y="1957.5" font-size="25" text-anchor="middle" fill="#111">10<tspan font-size="16" dy="-8.1">5</tspan></text>
<path d="M1693.5 1923.1V1931.1M1771 1923.1V1931.1M1841.5 1923.1V1931.1M1639.3 1923.1V1927.1M1653 1923.1V1927.1M1662.7 1923.1V1927.1M1670.2 1923.1V1927.1M1676.3 1923.1V1927.1M1681.5 1923.1V1927.1M1686 1923.1V1927.1M1690 1923.1V1927.1M1716.8 1923.1V1927.1M1730.5 1923.1V1927.1M1740.2 1923.1V1927.1M1747.7 1923.1V1927.1M1753.8 1923.1V1927.1M1759 1923.1V1927.1M1763.5 1923.1V1927.1M1767.5 1923.1V1927.1M1792.2 1923.1V1927.1M1804.6 1923.1V1927.1M1813.4 1923.1V1927.1M1820.3 1923.1V1927.1M1825.9 1923.1V1927.1M1830.6 1923.1V1927.1M1834.7 1923.1V1927.1M1838.3 1923.1V1927.1M1862.7 1923.1V1927.1" stroke="#222" stroke-width="1.1" fill="none"/>
<path d="M1597.5 1923.1V1931" stroke="#111" stroke-width="1.6"/>
<path d="M1599.4 1923.1V1927M1601.6 1923.1V1927M1604 1923.1V1927M1606.8 1923.1V1927M1610.1 1923.1V1927M1614.2 1923.1V1927M1619.5 1923.1V1927M1626.9 1923.1V1927" stroke="#222" stroke-width="1.1"/>
<path d="M1639 1923.1H1653V1930H1639Z" fill="#000"/>
<path d="M1582.3 1975.2H1820" stroke="#000" stroke-width="2.3"/>
<path d="M1857 1975.2L1818 1967.2L1818 1983.2Z" fill="#000"/>
<text x="1712.4" y="2012.4" font-size="28.2" text-anchor="middle" fill="#000">FAD/FMN</text>
<text x="1502" y="1766" font-size="28" text-anchor="middle" fill="#000" transform="rotate(-90 1502 1766)">SSC-A</text>
<text x="1717.5" y="1688" font-size="26.7" text-anchor="start" fill="#111">β-cells</text>
</g>
<g id="panelA">
<text x="75.8" y="28.6" font-size="50" text-anchor="start" fill="#000" font-weight="bold">a</text>
<rect x="170" y="2" width="271" height="199" fill="#000"/>
<g filter="url(#mf1)"><path d="M303 43C314.2 42.8 327.5 46.2 337 51C346.5 55.8 354.2 64.7 360 72C365.8 79.3 368.8 89.7 372 95C375.2 100.3 379.3 99.8 379 104C378.7 108.2 372.8 114 370 120C367.2 126 367.2 133.3 362 140C356.8 146.7 348.5 155.2 339 160C329.5 164.8 316.2 169 305 169C293.8 169 281.7 165.2 272 160C262.3 154.8 253 146.3 247 138C241 129.7 236.2 120.3 236 110C235.8 99.7 240.3 85.7 246 76C251.7 66.3 260.5 57.5 270 52C279.5 46.5 291.8 43.2 303 43Z" fill="#fff"/></g>
<path d="M319.1 67.5h0M302.8 126.6h0M266.7 70.9h0M277.3 130.2h0M288.4 102.4h0M293.8 69.2h0M297.5 81.3h0M333.3 126.8h0M362.2 92.7h0M312.5 86.5h0M257.6 129.3h0M340.1 88.7h0M329.3 102.9h0M307.3 153.4h0M280.5 152.6h0M336.9 140.6h0M351.7 142.8h0M284.3 51.5h0M314.4 129.8h0M326.5 150.9h0M301.6 114.7h0M351 73.1h0M315 110.5h0M253.2 86.2h0M254.2 111.8h0M331.3 76.9h0M346.6 101.6h0M244.3 94.9h0M342.8 151.1h0M340.4 61.5h0M267 143.3h0M340.4 117h0M300.2 47.8h0M365.2 115.7h0M304.8 59.2h0M277.2 109.9h0M259.5 98.3h0M276.7 93.1h0M242.7 109.8h0M358 133h0M278.1 79h0M321.2 94.1h0M288.3 115h0M290.7 133.2h0M353.4 120.2h0M292.6 151.2h0M276.7 64h0M317.8 141h0M310.5 164.9h0M263.9 119h0M327.2 115h0M296 162.5h0M372.4 104.1h0M306.2 98.1h0M325.4 56.4h0M305.1 71.3h0M359 105.5h0M346.6 130.3h0M359.3 81.4h0M288 89.9h0M315.5 50.2h0M264.9 84.1h0M303.7 141.2h0M246.4 126h0M254.3 71.9h0" stroke="#000" stroke-width="7.6" stroke-linecap="round" fill="none" stroke-opacity="0.88" filter="url(#mb07)"/>
<g filter="url(#mb2)"><path d="M252 108C240 106 234 118 242 128C247 134 254 135 258 131" stroke="#2ee03a" stroke-width="3.5" fill="none" stroke-linecap="round"/><path d="M338 152C350 146 359 134 361 122C352 132 344 142 338 152Z" fill="#30ee3c" stroke="#30ee3c" stroke-width="3.5"/><path d="M282 158C292 167 306 166 312 157" stroke="#2ee03a" stroke-width="3.5" fill="none" stroke-linecap="round"/><circle cx="376" cy="103" r="3" fill="#2ee03a"/></g>
<text x="173" y="34" font-size="28.4" text-anchor="start" fill="#22c42c" font-weight="bold">CD63</text>
<rect x="453.6" y="2" width="270.7" height="199.6" fill="#160001"/>
<g filter="url(#mb2)" stroke="#f01a16" fill="none" stroke-linecap="round" stroke-linejoin="round">
<path d="M575.8 30C565 34 556 40 552 48C546 58 541 66 539.6 72C536 84 530 92 527.5 100" stroke-width="5.5" stroke-dasharray="16 5 9 4 22 6"/>
<path d="M556 40C548 46 549 56 556 52" stroke-width="3.5"/>
<path d="M527.5 118C532 126 540 130 546 133C553 138 560 144 566 148" stroke-width="4.5" stroke-dasharray="12 5 18 4"/>
<path d="M583 156C590 160 600 160 606 163M610 160C616 154 622 150 628 143" stroke-width="4" stroke="#d81612"/>
<path d="M612 136C616 132 622 134 620 140C618 144 613 142 612 136Z" stroke-width="4" fill="#f01a16"/>
<path d="M609 39C616 42 622 46 628 49M640 62C644 68 648 76 651 82C655 86 660 88 663 90" stroke-width="3.5" stroke="#d81612" stroke-dasharray="9 4 14 5"/>
</g>
<g clip-path="url(#mc2)"><g filter="url(#bl8)"><path d="M476 90L500 80L506 210L470 210Z" fill="#450808" fill-opacity="0.55"/></g></g>
<text x="465.7" y="32.6" font-size="27.4" text-anchor="start" fill="#ec1c1c" font-weight="bold">GCG</text>
<rect x="732" y="2" width="271" height="199" fill="#02020c"/>
<g clip-path="url(#mc3)">
<path d="M750.3 66.3l-0.1 0.9M733.2 57.6l-0.5 1.4M896.1 29.5l2.5 0.5M920.4 39.6l-0 0M803.9 37.6l0.8 0.7M740.1 114.5l0.4 4M753 128.4l0.2 3.3M937.3 156.4l2.3 1.2M878 179.2l-2.3 1M971.7 38.6l-1.4 1.5M844.2 194l2.6 0.5M736.1 82.9l-0.9 2.9M959.8 190.7l1.2 0.1M873.9 1.5l0.3 3.4M834.3 175.3l-2.7 1.1M992.1 9.1l-2.8 0.7M968.6 72.2l-1.3 0.9M946.3 83.6l-1.7 0.4M985.9 195.9l3.4 1.1M775.6 164.5l0.4 0.3M737.1 1.1l0.8 3.8M998.7 171.9l1.5 2M992.9 68.8l0.7 1.9M773.8 38.4l-0.4 1.4M938.1 49l-2.2 0.7M1001.3 134.8l-2.7 0.6M798.5 192.5l-3.4 0.1M741.7 182l2.3 1.3M778.8 71.8l-3.4 0.4M948 138.2l-0.8 3.5" stroke="#1418a8" stroke-width="9.2" stroke-linecap="round" fill="none" stroke-opacity="0.75" filter="url(#mb2)"/>
<g filter="url(#mb2)"><path d="M861.7 28.5C875 28.3 890.9 32.3 902.2 38C913.5 43.8 922.6 54.3 929.6 63C936.5 71.8 940.1 84.1 943.9 90.4C947.6 96.7 952.6 96.2 952.2 101.1C951.8 106.1 944.8 113 941.5 120.1C938.1 127.3 938.1 136 932 143.9C925.8 151.9 915.9 162 904.6 167.8C893.3 173.5 877.4 178.5 864.1 178.5C850.8 178.5 836.4 173.9 824.9 167.8C813.3 161.6 802.2 151.5 795.1 141.6C788 131.7 782.2 120.5 782 108.2C781.8 96 787.2 79.3 793.9 67.8C800.7 56.3 811.2 45.8 822.5 39.2C833.8 32.7 848.5 28.7 861.7 28.5Z" fill="none" stroke="#e81818" stroke-width="6.5" stroke-dasharray="24 34 12 44 30 22 14 56" stroke-dashoffset="150"/></g>
<g filter="url(#mf4)"><path d="M862.4 32.3C875 32.1 890.1 35.9 900.8 41.4C911.6 46.8 920.2 56.8 926.8 65.1C933.4 73.4 936.8 85.1 940.4 91.1C944 97.1 948.7 96.5 948.3 101.3C947.9 106 941.3 112.6 938.1 119.3C934.9 126.1 934.9 134.4 929.1 141.9C923.2 149.5 913.8 159.1 903.1 164.5C892.4 170 877.3 174.7 864.7 174.7C852.1 174.7 838.3 170.4 827.4 164.5C816.5 158.7 805.9 149.1 799.1 139.7C792.3 130.3 786.9 119.7 786.7 108C786.5 96.4 791.6 80.5 798 69.6C804.4 58.7 814.4 48.7 825.1 42.5C835.9 36.3 849.8 32.5 862.4 32.3Z" fill="#fff"/></g>
<path d="M880.8 60l-0.5 0.1M862.3 126.7l-0.2 0.2M821.3 63.8l0.1 0.1M832.5 130.3l1.6 1.2M845.8 98.8l0.2 1.3M852 61.5l0 0.9M856.4 75.6l-0.3 0.2M896.5 126.9l0.1 0.1M929.3 88.5l0 0M873.6 81.4l-0.8 0.2M810.7 129.7l0.7 0.3M904.6 84l-0.5 0M892.1 99.9l-0 0.1M867.4 156.7l-0.4 0.7M837.2 155.9l-0.4 0.6M901 142.2l-0.5 0.9M917.7 144.3l-0.5 1.7M841.1 41.9l0.3 0.1M875.3 129.5l0.1 1.9M889.2 154.3l-0.4 0.1M861.2 113l-0.8 0.9M916.1 65.6l1.1 1.4M876.3 108.4l-0.7 0.3M806.3 81l-0.2 0.2M807.4 110l-0.1 0.2M895.1 70.5l-1.4 0.2M911.7 97.7l-0 1.7M795.9 90.9l0.4 0.2M907.4 153.9l-0 1.1M904.7 53.2l-0.1 0M822 145.3l-0.6 0.8M904.5 115.8l0.3 0.3M859.2 37.7l0 0M932.7 114.2l0.1 0.5M864.8 50.5l-0.7 0.4M832.5 107.4l1.5 0.9M812.9 94.6l0.7 0.4M833.3 88.8l-1.3 0.1M794.4 107.7l-0.3 0.3M924.2 134l0.6 0M833.9 72.3l0.7 1.3M882.9 89.9l0.1 0.3M845.8 113.4l0.1 0.4M848.4 133.8l0.2 0.9M919 119.1l0.7 0.9M850.6 154.5l0.2 0.1M832.7 55.9l-0 0.2M879.5 142.9l-0.6 0.4M871.2 169.6l-0.6 0.8M817.2 118l1.9 0.4M889.8 113.7l0 0M854.6 166.9l-0.2 0.8M940.6 100.7l0.7 1.3M865.1 94.5l1.9 0M887 47l1.3 1M863.9 64.2l1.7 0.2M926.4 102.2l-1.4 1.3M912 130l-0.5 1.9M926.2 75.7l-0.4 0M845 85.2l0.9 0.2M876.6 39.8l0 1.2M818.9 78.6l0.8 0.4M863.2 143.2l-0.1 0.2M798 125.9l0.8 0.4M807.7 64.6l-0.6 0.7" stroke="#12169a" stroke-width="9.2" stroke-linecap="round" fill="none" stroke-opacity="0.95" filter="url(#mb07)"/>
<g filter="url(#mb2)"><path d="M816 106C802 104 795 118 804 129C810 136 818 137 822 132" stroke="#2ee03a" stroke-width="4" fill="none" stroke-linecap="round"/><path d="M912 156C926 149 936 136 938 122C928 134 919 145 912 156Z" fill="#30ee3c" stroke="#30ee3c" stroke-width="4"/><path d="M848 164C860 174 876 173 884 163" stroke="#2ee03a" stroke-width="4" fill="none" stroke-linecap="round"/></g>
</g>
<text x="741.8" y="32.6" font-size="28.6" font-weight="bold"><tspan fill="#f5801e">Merge</tspan><tspan fill="#fff"> / </tspan><tspan fill="#1c1ce6">DAPI</tspan></text>
<rect x="926.6" y="186" width="68.2" height="4.8" fill="#fff"/>
<rect x="170.5" y="214" width="270.1" height="199" fill="#000"/>
<g clip-path="url(#mc5)">
<g filter="url(#mb5)"><path d="M160 348L182 354L200 420L160 420Z" fill="#17651c"/></g>
<g filter="url(#mf6)"><path d="M311.5 245C321.6 242.7 332.1 244.1 341.7 247.7C351.3 251.3 361.8 259.7 369.4 266.6C376.9 273.5 383.2 278.9 387 289C390.8 299.1 394.9 316.5 392 327C389.1 337.5 378.6 343.7 369.4 352C360.2 360.3 348.4 371.9 336.7 377C325 382.1 309.5 384.8 299 382.3C288.5 379.8 281.8 367.9 273.8 362C265.8 356.1 258.1 354.1 251 347C243.9 339.9 230.6 326.9 231 319.4C231.4 311.9 248.7 309.4 253.7 301.8C258.7 294.2 256.4 280.7 261 274C265.6 267.3 272.9 266.4 281.3 261.6C289.7 256.8 301.4 247.3 311.5 245Z" fill="#fff"/></g>
<path d="M254.9 329.6h0M258.3 342.8h0M328.9 297.8h0M330.4 322.7h0M238 317.8h0M291.7 276.1h0M342.1 328.7h0M302.1 313.8h0M266.7 317.8h0M332.5 337h0M284.6 339.4h0M313.1 347.6h0M300.4 299.7h0M338.7 367h0M363.8 332.8h0M306.7 375.1h0M303 330.9h0M293.9 347h0M387.8 317.4h0M373.1 297.8h0M272 339h0M266.6 302h0M254 310.9h0M348.3 301.9h0M270.2 270.8h0M305.4 360.7h0M334.4 276.1h0M333.7 310.2h0M365.7 282.6h0M356.3 344.9h0M286 263.4h0M312.6 321.4h0M372.4 341.3h0M308.9 273.2h0M285.6 311.9h0M342.5 257.2h0M282.9 355.4h0M350.8 356.8h0M346.8 278.6h0M325.2 268.4h0M301.1 283.9h0M278.4 289.6h0M363.8 315h0M384.6 290.6h0M276.6 326.8h0M324.4 351.9h0M363.2 268.2h0M319.7 365.5h0M355 290.2h0M264.3 284.7h0M315.6 335.3h0M318.5 305h0M344.9 316.7h0M288 298.6h0M291.9 363.9h0M383 331.5h0M300.8 264h0M310.8 248.5h0M326.4 249.2h0M311.9 292h0M291.3 324.5h0M339.8 347.5h0M383.5 306.2h0M325.2 284.1h0M360.4 302.2h0M341.9 289.7h0M375 321.9h0M270.6 356.4h0" stroke="#000" stroke-width="7.8" stroke-linecap="round" fill="none" stroke-opacity="0.85" filter="url(#mb07)"/>
</g>
<text x="183" y="246.5" font-size="28.4" text-anchor="start" fill="#22c42c" font-weight="bold">CD63</text>
<rect x="453.6" y="215" width="270.7" height="199" fill="#120001"/>
<g filter="url(#mf7)"><path d="M596.2 242.8C606.8 240.4 617.8 241.9 627.9 245.7C638 249.4 649.1 258.3 657 265.5C664.9 272.7 671.5 278.4 675.5 289C679.4 299.6 683.8 317.9 680.7 328.9C677.6 339.9 666.7 346.4 657 355.2C647.3 363.9 635 376.1 622.6 381.4C610.3 386.7 594.1 389.6 583.1 387C572.1 384.4 565 371.8 556.6 365.7C548.2 359.5 540.2 357.4 532.7 349.9C525.2 342.5 511.2 328.8 511.7 320.9C512.1 313 530.2 310.4 535.5 302.5C540.7 294.5 538.3 280.3 543.2 273.3C548 266.2 555.6 265.3 564.5 260.2C573.3 255.2 585.6 245.3 596.2 242.8Z" fill="#fff"/></g>
<path d="M536.7 331.6h0M540.3 345.5h0M614.4 298.2h0M616.1 324.5h0M519 319.2h0M575.4 275.5h0M628.3 330.7h0M586.3 315.1h0M549.2 319.3h0M618.2 339.5h0M568 342h0M597.9 350.6h0M584.5 300.3h0M624.7 371h0M651.1 335h0M591.1 379.4h0M587.3 333h0M577.7 349.9h0M676.3 318.9h0M660.9 298.2h0M554.7 341.5h0M549 302.6h0M535.8 312h0M634.8 302.6h0M552.8 269.9h0M589.8 364.3h0M620.3 275.5h0M619.5 311.3h0M653.1 282.3h0M643.3 347.7h0M569.4 262.2h0M597.3 323h0M660.1 343.9h0M593.4 272.4h0M569 313h0M628.8 255.6h0M566.2 358.7h0M637.4 360.2h0M633.2 278.1h0M610.6 267.4h0M585.3 283.6h0M561.4 289.6h0M651.1 316.3h0M673 290.7h0M559.5 328.7h0M609.8 355.1h0M650.4 267.2h0M604.8 369.3h0M641.8 290.3h0M546.6 284.5h0M600.5 337.7h0M603.6 305.8h0M631.2 318.1h0M571.5 299.1h0M575.6 367.7h0M671.2 333.7h0M585 262.8h0M595.4 246.4h0M611.8 247.2h0M596.6 292.2h0M574.9 326.3h0M625.9 350.5h0M671.8 307.1h0M610.5 283.9h0M647.5 302.9h0M628.1 289.8h0M662.9 323.6h0M553.2 359.8h0" stroke="#1a0000" stroke-width="8" stroke-linecap="round" fill="none" stroke-opacity="0.85" filter="url(#mb07)"/>
<text x="471.7" y="249" font-size="27.4" text-anchor="start" fill="#ec1c1c" font-weight="bold">INS</text>
<rect x="733.7" y="213" width="270.7" height="199.6" fill="#030312"/>
<g clip-path="url(#mc8)">
<g filter="url(#mb5)"><path d="M725 372L758 378L772 420L725 420Z" fill="#1f9060"/><path d="M735 240C748 230 770 232 780 250C760 250 745 262 738 280Z" fill="#0a0a70" opacity="0.8"/></g>
<path d="M844.1 252.4l0.9 0.3M916.2 406.1l1.4 0.7M743.4 318.2l0.1 0.3M789.7 310.6l-3 2.2M821 237.6l2.3 2M924.6 219.5l1.4 1.6M800.7 263.7l0.7 0.2M807.5 222.1l-0.8 0.2M978.2 385.5l-2.7 1.9M941 219.8l2.6 1.8M981.6 237.3l-0.5 1.1M769.5 256.4l-2.6 1.3M946.1 252.1l3.4 0.9M1000.5 273.5l-1.2 2.1M811.9 385.2l1.7 1.1M785.5 289.4l1.8 0.5M828.8 406.5l-3.4 1.5M892 215.1l1.3 1.8M993.2 404.8l-0.8 3.5M763.7 395.6l-3.1 1.6M779.1 384.5l0.5 2M769.6 222.7l0.5 2.3M737.7 282l0.4 0.5M759.5 325.6l3.2 0.4M750.4 343l-0.1 0.2M993.6 311.5l-0.1 1.1M735 251l0.9 1.7M986.9 341l3.3 2.3M834.6 386.9l1.3 1M784.4 332.3l1.6 1.9M961.8 402.3l-1 1M923.3 387.5l-0.2 1.3M793.6 398.9l3.4 1.1M786.1 252.5l0.2 0.2M1004.9 290.6l-1.1 2.9M967.4 354.3l0.5 0.8M864.9 213.5l0.1 0.7M950.1 374.6l-0.1 0.1" stroke="#1418b8" stroke-width="9.2" stroke-linecap="round" fill="none" stroke-opacity="0.8" filter="url(#mb2)"/>
<g filter="url(#mf9)"><path d="M876.2 244.5C887 242 898.2 243.5 908.5 247.4C918.8 251.2 930.1 260.2 938.1 267.6C946.2 275 952.9 280.8 957 291.6C961 302.4 965.5 321 962.3 332.2C959.2 343.5 948 350.1 938.1 359C928.3 367.9 915.7 380.3 903.2 385.7C890.6 391.1 874 394.1 862.8 391.4C851.6 388.7 844.4 376 835.9 369.7C827.3 363.4 819.1 361.2 811.5 353.6C803.8 346 789.6 332.2 790.1 324.1C790.5 316 809 313.4 814.3 305.3C819.7 297.2 817.2 282.7 822.2 275.5C827.1 268.4 834.9 267.4 843.9 262.3C852.9 257.1 865.4 247 876.2 244.5Z" fill="#fff"/></g>
<path d="M815.4 334.6l0.4 0.9M819.4 349.1l-0.3 0.1M894.8 301l-0 0M895.6 327.5l1.7 0.5M797.7 321.9l-0.4 1M855 277.8l0 0.1M908.8 333.3l0.2 1.4M865.5 317.8l1.3 0.7M828.1 322.3l0.4 0.2M899.1 342.9l-1 0.2M847.9 345.1l-0.9 0.8M878.2 354.1l-0.5 0.5M864.3 303l0.1 0.2M905.7 374.6l-0.9 1M931.8 338.3l0.8 0.2M870.8 383.5l0.4 0.3M867.3 336.3l-0.5 0.3M857.6 353.6l-0.4 0.1M957 321.9l1.7 0.3M942.1 300.6l0 0.8M833.9 345l0 0M827.2 305.1l1.7 0.6M814.1 314.8l1.1 0.4M916.1 305.2l-1.1 0.4M831.8 272.1l0.4 0M869.7 368.2l-0 0.2M900.7 277.8l0 0M900.5 314.1l-1 0.2M934.1 284.4l0.3 0.8M923.6 351.2l1.2 0.4M848.4 263.9l1 0.6M877.9 326.2l-1.2 0.2M941.3 347.5l-0 0.1M872.8 274.4l1.1 0.5M848.7 316l-0.5 0M908.5 257.2l1.9 0.7M846.3 362.5l-1.4 0.2M918.3 363.9l-0.2 0.4M913.9 280.5l0 0.1M891.1 268.9l-0.4 1.3M864.4 285.9l1.5 0.4M841.1 292l-0.6 0.3M932.1 318.8l0.2 1.2M954.9 293.3l-0.8 0M838.3 332l1.1 0.1M889.6 358.2l0.8 1.4M931.1 269l0.7 0.5M884.8 373l0.5 0.8M922.7 292.8l-0.1 0.2M825.7 286.9l-0.2 0.1M880.6 341.1l-0 0M883.7 307.9l0 1.6M911.4 320.8l1 1M850.9 301.1l0.3 1.4M855.4 371.7l-0.5 0.1M952.5 336.7l0.3 0.7M864.4 264l0.7 1.6M874.9 247.9l1.1 0.7M891.5 248.4l1.2 1.2M876.7 294.8l-0.1 0M854.7 329.5l-0.3 0.1M906.8 353.3l-0.6 1.9M953.2 310l0 0M890.8 286.1l0.1 0.4M929.1 305.6l-1.2 0.1M908.4 292.2l0.6 0.3M943.7 326.6l1 0.5M832.4 363.6l-0 0.2" stroke="#3420c8" stroke-width="8.4" stroke-linecap="round" fill="none" stroke-opacity="0.92" filter="url(#mb07)"/>
</g>
<text x="746.4" y="241.5" font-size="28.6" font-weight="bold"><tspan fill="#f5801e">Merge</tspan><tspan fill="#fff"> / </tspan><tspan fill="#1c1ce6">DAPI</tspan></text>
<rect x="925.4" y="400" width="68.8" height="4.6" fill="#fff"/>
</g>
<g id="panelCimg">
<rect x="181" y="577.7" width="193.5" height="148.9" fill="#000"/>
<g filter="url(#mf10)"><path d="M243 600.5C245.2 595.8 248.3 596.5 253 596.5C257.7 596.5 265.6 597.5 271.3 600.5C277 603.5 282.4 609.2 287.4 614.6C292.4 620 297.4 626.7 301.4 632.7C305.4 638.7 309.3 645.4 311.5 650.8C313.7 656.2 315.2 659.9 314.5 664.9C313.8 669.9 310.4 675.6 307.5 681C304.6 686.4 301.8 693.7 297.4 697C293 700.3 286.7 701.3 281.3 701C275.9 700.7 269.9 699 265.2 695C260.5 691 256.4 684.4 253 677C249.6 669.6 247.2 659.5 245 650.8C242.8 642.1 240.3 633 240 624.6C239.7 616.2 240.8 605.2 243 600.5Z" fill="#fff"/></g>
<path d="M284.5 632.5h0M301.3 640.8h0M271.9 635h0M250.3 622.2h0M277.5 650.3h0M297.5 668.6h0M281.5 696.5h0M260.5 633.1h0M286.5 681h0M268 692.5h0M296 681.6h0M273.1 661.1h0M260.2 617h0M306.5 663.5h0M270.5 682.3h0M250.5 650.9h0M273.8 621.5h0M304.1 650.5h0M246.7 612.3h0M249.1 602.7h0M261.8 649.2h0M291.5 657h0M285.9 624h0M266.1 667.3h0M263.7 607.7h0M290.2 692.2h0M247.8 634.8h0M274.3 608.5h0M255.1 610.7h0M258.1 673.7h0M260 658.5h0M305.9 672.7h0M269.8 653.4h0M281.4 659.5h0M281.2 641h0M297.3 633.7h0M288.2 666.7h0M294.2 648.5h0M277.9 671.7h0M255.8 665.9h0M261.8 681.7h0M281 617h0M279.8 685.8h0M254.2 642.5h0M257.9 601.6h0M263.2 625.2h0M266.6 641.4h0M285.4 649.4h0M242.7 628.4h0M299.4 658.7h0M291.2 639.4h0M309.9 656.1h0M250 659.2h0" stroke="#000" stroke-width="5" stroke-linecap="round" fill="none" stroke-opacity="0.85" filter="url(#mb07)"/>
<g filter="url(#mb1)"><path d="M243 600.5C245.2 595.8 248.3 596.5 253 596.5C257.7 596.5 265.6 597.5 271.3 600.5C277 603.5 282.4 609.2 287.4 614.6C292.4 620 297.4 626.7 301.4 632.7C305.4 638.7 309.3 645.4 311.5 650.8C313.7 656.2 315.2 659.9 314.5 664.9C313.8 669.9 310.4 675.6 307.5 681C304.6 686.4 301.8 693.7 297.4 697C293 700.3 286.7 701.3 281.3 701C275.9 700.7 269.9 699 265.2 695C260.5 691 256.4 684.4 253 677C249.6 669.6 247.2 659.5 245 650.8C242.8 642.1 240.3 633 240 624.6C239.7 616.2 240.8 605.2 243 600.5Z" fill="none" stroke="#1fc028" stroke-width="1.5" stroke-opacity="0.5" stroke-dasharray="30 8 14 10 40 12"/></g>
<rect x="382.7" y="577.7" width="193.6" height="148.9" fill="#000"/>
<g filter="url(#mf11)"><path d="M445.4 600.5C447.6 595.8 450.7 596.5 455.4 596.5C460.1 596.5 468 597.5 473.7 600.5C479.4 603.5 484.8 609.2 489.8 614.6C494.8 620 499.8 626.7 503.8 632.7C507.8 638.7 511.7 645.4 513.9 650.8C516.1 656.2 517.6 659.9 516.9 664.9C516.2 669.9 512.8 675.6 509.9 681C507 686.4 504.2 693.7 499.8 697C495.4 700.3 489.1 701.3 483.7 701C478.3 700.7 472.3 699 467.6 695C462.9 691 458.8 684.4 455.4 677C452 669.6 449.6 659.5 447.4 650.8C445.2 642.1 442.7 633 442.4 624.6C442.1 616.2 443.2 605.2 445.4 600.5Z" fill="#fff"/></g>
<path d="M486.9 632.5h0M503.7 640.8h0M474.3 635h0M452.7 622.2h0M479.9 650.3h0M499.9 668.6h0M483.9 696.5h0M462.9 633.1h0M488.9 681h0M470.4 692.5h0M498.4 681.6h0M475.5 661.1h0M462.6 617h0M508.9 663.5h0M472.9 682.3h0M452.9 650.9h0M476.2 621.5h0M506.5 650.5h0M449.1 612.3h0M451.5 602.7h0M464.2 649.2h0M493.9 657h0M488.3 624h0M468.5 667.3h0M466.1 607.7h0M492.6 692.2h0M450.2 634.8h0M476.7 608.5h0M457.5 610.7h0M460.5 673.7h0M462.4 658.5h0M508.3 672.7h0M472.2 653.4h0M483.8 659.5h0M483.6 641h0M499.7 633.7h0M490.6 666.7h0M496.6 648.5h0M480.3 671.7h0M458.2 665.9h0M464.2 681.7h0M483.4 617h0M482.2 685.8h0M456.6 642.5h0M460.3 601.6h0M465.6 625.2h0M469 641.4h0M487.8 649.4h0M445.1 628.4h0M501.8 658.7h0M493.6 639.4h0M512.3 656.1h0M452.4 659.2h0" stroke="#100" stroke-width="5" stroke-linecap="round" fill="none" stroke-opacity="0.8" filter="url(#mb07)"/>
<rect x="584.8" y="577.7" width="193.6" height="148.9" fill="#02020d"/>
<g clip-path="url(#mc12)">
<path d="M742.9 661.2l-1.5 1.6M767.3 704.1l-2.7 0.5M641.2 609l-2.5 0.6M737.8 685.7l0 0.1M735.3 577.2l-1.5 2.9M602.4 625.7l3 1.1M752.4 692.3l1.2 1.1M708.4 585.8l-0.4 1.9M691.1 726.3l0 0M663.4 710.4l-0.9 0.3M717.6 677.6l2.4 1.3M753.1 702.2l2.5 1.2M629.4 599.9l2 0.8M599.5 695.9l-0 0M767.5 688.5l0.6 0.5M726.9 696.2l-3.2 1.3M644.9 648.5l-1 0.1M590.4 690.2l-1 1.6M737.4 608.5l-0.7 0.1M601.5 725.2l-2.4 0.3M714.8 630.8l1.8 2.5M632.5 659.9l1.1 0.6M755.3 593.1l0.5 0.1M631.3 647l-0.3 1M737.6 716.7l-0 0M611.3 719.6l0.7 1M771.6 708.8l0.2 2.9M621.2 706.4l0.1 1.1M600.1 581.4l2.4 0.4M612.7 622.7l3.4 0.2M607.2 685.2l-2.3 1.2M743.4 599.7l-0 0M690.3 578.1l-0.3 1.2M672 718.4l0 0M589.6 607l-0.6 0.1M720 703.9l-0.5 0.5M750 718.3l-3.2 0.6M728.6 650.9l0.5 1.1M761.2 645.7l-1.4 1.2M730.2 629.6l-0.3 0.3M712.7 593l-2.5 1.2M721 668.4l-0.1 0M588.7 720.6l0.2 0.3M704.2 597.3l-2.1 0.5M640.3 671.4l-1.2 0.3M776.6 623.8l1.1 1.6M753.3 661.9l0.9 0.6M679.4 705.7l0.2 0.1M721 580.7l-2.4 0M599.7 637.2l0.6 0.1M682.1 579l-0.4 3.4M645.5 715l1 1M630.8 705.3l-1.8 1.1" stroke="#1420ff" stroke-width="7.4" stroke-linecap="round" fill="none" stroke-opacity="0.95" filter="url(#mb07)"/>
<path d="M735.5 645.4l0.4 1.1M690.9 718l-0.3 0.1M759.6 719.3l-0 0M592.4 614.6l2.2 0.6M765.8 609.6l-0.5 1.3M763.5 666.5l0 0.1M752.4 725.1l0.3 1.7M602.4 711.1l1.6 0.9M704.6 725.8l0.6 0.2M752.2 711.5l-1.2 0.3M639 686.4l-1.1 1M617.5 657l-0.7 0.7M703 714.7l0.2 0.2M639.5 635.8l-1.1 1.3M608.2 636.3l1 0.3M646.5 678.8l0.5 0.4M725.3 637.2l-0.6 0.4M608.4 586.5l-0.5 0.2M594.3 665.3l2.2 0.4M627.5 629.7l0 0.9M690.9 710.1l0 0.1M732.7 674.5l2.1 0.8M599.3 703.7l1.4 0.6M771.5 617.3l-1.4 0.5M736.4 621.4l0.5 0M715.7 695.6l-0 0.2M744.3 585.5l0 0M761.4 599.1l-1.2 0.3M631.2 578.3l0.3 1M742.9 647.5l1.5 0.5M621.5 645.8l1.2 0.7M773.7 633.4l-1.5 0.2M590.3 704.2l-0 0.1M625 615.3l1.4 0.7M742.9 636.4l-0.7 0M755.8 580.9l2.3 0.9M726.4 685.9l-1.7 0.3M698.2 607l-0.2 0.6M706.1 618.6l0 0.1M773.3 656.5l-0.5 1.6M722.2 716.8l1.9 0.5M712.8 687.1l-0.8 0.4M634.3 721.7l0.2 1.4M682.1 716.1l-1 0M588 630.4l1.4 0.1M750.3 631.4l1 1.7M740.6 669l0.8 0.7M741.6 701.3l0.6 0.9M773.8 720.6l-0.1 0.2M628.9 695.2l-0.2 0.2M691.5 600.8l-0 0M607.2 612.7l0 2" stroke="#1828f8" stroke-width="6.2" stroke-linecap="round" fill="none" stroke-opacity="0.9199999999999999" filter="url(#mb07)"/>
<g filter="url(#mf13)"><path d="M646.4 600.5C648.6 595.8 651.7 596.5 656.4 596.5C661.1 596.5 669 597.5 674.7 600.5C680.4 603.5 685.8 609.2 690.8 614.6C695.8 620 700.8 626.7 704.8 632.7C708.8 638.7 712.7 645.4 714.9 650.8C717.1 656.2 718.6 659.9 717.9 664.9C717.2 669.9 713.8 675.6 710.9 681C708 686.4 705.2 693.7 700.8 697C696.4 700.3 690.1 701.3 684.7 701C679.3 700.7 673.3 699 668.6 695C663.9 691 659.8 684.4 656.4 677C653 669.6 650.6 659.5 648.4 650.8C646.2 642.1 643.7 633 643.4 624.6C643.1 616.2 644.2 605.2 646.4 600.5Z" fill="#fff"/></g>
<path d="M688 632.3l-0 0.4M704.8 640.5l-0.2 0.5M674.8 634.9l0.9 0.2M653.7 622.2l-0 0M680.7 650.2l0.3 0.3M700.8 667.9l0.1 1.5M684.8 695.9l0.1 1.3M663.4 632.9l0.9 0.4M690.3 680.9l-0.9 0.4M671.7 692.3l-0.5 0.6M698.9 681.5l1 0.2M676.7 660.6l-0.3 1.1M663.4 617l0.4 0M709.8 662.9l0.1 1.3M674.4 682.1l-1 0.4M654.4 650.8l-1 0.3M677.5 621.4l-0.5 0.3M707.8 650.5l-0.7 0.1M649.5 612.1l1.3 0.4M652.4 602.6l0.2 0.1M665.1 648.4l0.3 1.4M694.7 656.7l0.6 0.8M689.2 623.7l0.3 0.7M669.6 667l-0.1 0.5M667.5 607.6l-0.8 0.3M694.1 692.1l-1 0.2M651.9 634.8l-1.3 0M677.3 608.3l0.9 0.5M659.1 610.7l-1.3 0.1M661.6 673l-0.3 1.3M663 658.2l0.8 0.7M709.4 672.1l-0.3 1.2M673 653.4l0.4 0.1M685.5 659.5l-1.3 0M684.6 640.9l-0.1 0.1M700.4 633.5l0.5 0.3M691.7 666.6l-0.3 0.3M696.9 648.4l1.3 0.2M680.8 671.6l0.9 0.1M659 665.5l0.5 0.9M665.8 681.6l-1.3 0.1M684.8 617l-0.8 0M683 685.8l0.5 0.1M657.2 642.4l0.9 0.1M661.3 601.5l0.1 0.3M666.2 625l0.8 0.4M670 641.4l-0.1 0M689.1 649.4l-0.5 0.1M645.9 627.8l0.5 1.2M702.8 658.4l-0 0.7M694.7 639l-0.3 0.9M713.4 655.7l-0.3 0.8M653.4 658.5l-0 1.4" stroke="#2226f2" stroke-width="6" stroke-linecap="round" fill="none" stroke-opacity="0.97" filter="url(#mb07)"/>
</g>
<rect x="719.6" y="711" width="50.6" height="5.5" fill="#fff"/>
<rect x="181" y="740.4" width="193.5" height="149.2" fill="#000"/>
<g filter="url(#mf14)"><path d="M261 753.8C269.1 751.9 282.7 752.5 290.8 758.2C298.9 763.9 305.1 778.1 309.4 788C313.7 797.9 317.4 807.9 316.8 817.8C316.2 827.7 311.3 839.5 305.7 847.6C300.1 855.7 289.5 862.2 283.3 866.2C277.1 870.2 274 873.7 268.4 871.8C262.8 869.9 255.4 862.8 249.8 855C244.2 847.2 238 835.1 235 825.2C232 815.3 230.8 804.8 232 795.5C233.2 786.2 237.6 776.4 242.4 769.4C247.2 762.4 252.9 755.7 261 753.8Z" fill="#fff"/></g>
<path d="M265.8 848.1h0M273.8 808h0M252 832.7h0M240.1 806.5h0M303.6 790.4h0M285.7 855h0M250.6 840.9h0M270.8 866.6h0M264.6 766.4h0M295.7 820.9h0M280.5 786.8h0M244.3 822h0M264.2 782h0M257.2 846.8h0M282.5 819h0M259.4 772.8h0M262.4 791.2h0M291.1 782.4h0M305.3 830.6h0M309.1 814h0M297.5 800.6h0M261 829h0M272.7 795.5h0M253.2 781.4h0M254.7 855.3h0M275.7 857.9h0M283.2 770.9h0M275.5 774.7h0M277.4 832.5h0M249.3 798.3h0M287.6 829.3h0M257.9 812.8h0M269.5 827.6h0M260.5 759.2h0M254.9 823.1h0M267.9 802.4h0M284.8 808.5h0M276.8 764.7h0M278.6 844h0M245.4 772.4h0M240.5 829.4h0M238.6 815.7h0M269.3 815.8h0M299.5 810.2h0M298.7 776.4h0M253.7 789.7h0M284.8 761h0M308.5 805.1h0M296.8 845.9h0M254.1 765.5h0M289.3 790.4h0M259.1 801.9h0M308.7 823.1h0M296.1 829.8h0M292 837.5h0M263.7 838.1h0M238.8 796.4h0M263.9 857.5h0M245.1 787.9h0M291.9 768.6h0M248.8 814.9h0M281.9 799.2h0M286.5 845.9h0M262.9 821.2h0M250.4 806.7h0M306.1 838.9h0M293.8 853.7h0" stroke="#000" stroke-width="5" stroke-linecap="round" fill="none" stroke-opacity="0.85" filter="url(#mb07)"/>
<g filter="url(#mb1)"><path d="M261 753.8C269.1 751.9 282.7 752.5 290.8 758.2C298.9 763.9 305.1 778.1 309.4 788C313.7 797.9 317.4 807.9 316.8 817.8C316.2 827.7 311.3 839.5 305.7 847.6C300.1 855.7 289.5 862.2 283.3 866.2C277.1 870.2 274 873.7 268.4 871.8C262.8 869.9 255.4 862.8 249.8 855C244.2 847.2 238 835.1 235 825.2C232 815.3 230.8 804.8 232 795.5C233.2 786.2 237.6 776.4 242.4 769.4C247.2 762.4 252.9 755.7 261 753.8Z" fill="none" stroke="#1fc028" stroke-width="1.5" stroke-opacity="0.5" stroke-dasharray="30 8 14 10 40 12"/></g>
<rect x="382.7" y="740.4" width="193.6" height="149.2" fill="#000"/>
<g filter="url(#mf15)"><path d="M464 753.8C472.1 751.9 485.7 752.5 493.8 758.2C501.9 763.9 508.1 778.1 512.4 788C516.7 797.9 520.4 807.9 519.8 817.8C519.2 827.7 514.3 839.5 508.7 847.6C503.1 855.7 492.5 862.2 486.3 866.2C480.1 870.2 477 873.7 471.4 871.8C465.8 869.9 458.4 862.8 452.8 855C447.2 847.2 441 835.1 438 825.2C435 815.3 433.8 804.8 435 795.5C436.2 786.2 440.6 776.4 445.4 769.4C450.2 762.4 455.9 755.7 464 753.8Z" fill="#fff"/></g>
<path d="M468.8 848.1h0M476.8 808h0M455 832.7h0M443.1 806.5h0M506.6 790.4h0M488.7 855h0M453.6 840.9h0M473.8 866.6h0M467.6 766.4h0M498.7 820.9h0M483.5 786.8h0M447.3 822h0M467.2 782h0M460.2 846.8h0M485.5 819h0M462.4 772.8h0M465.4 791.2h0M494.1 782.4h0M508.3 830.6h0M512.1 814h0M500.5 800.6h0M464 829h0M475.7 795.5h0M456.2 781.4h0M457.7 855.3h0M478.7 857.9h0M486.2 770.9h0M478.5 774.7h0M480.4 832.5h0M452.3 798.3h0M490.6 829.3h0M460.9 812.8h0M472.5 827.6h0M463.5 759.2h0M457.9 823.1h0M470.9 802.4h0M487.8 808.5h0M479.8 764.7h0M481.6 844h0M448.4 772.4h0M443.5 829.4h0M441.6 815.7h0M472.3 815.8h0M502.5 810.2h0M501.7 776.4h0M456.7 789.7h0M487.8 761h0M511.5 805.1h0M499.8 845.9h0M457.1 765.5h0M492.3 790.4h0M462.1 801.9h0M511.7 823.1h0M499.1 829.8h0M495 837.5h0M466.7 838.1h0M441.8 796.4h0M466.9 857.5h0M448.1 787.9h0M494.9 768.6h0M451.8 814.9h0M484.9 799.2h0M489.5 845.9h0M465.9 821.2h0M453.4 806.7h0M509.1 838.9h0M496.8 853.7h0" stroke="#100" stroke-width="5" stroke-linecap="round" fill="none" stroke-opacity="0.8" filter="url(#mb07)"/>
<rect x="584.8" y="740.4" width="193.6" height="149.2" fill="#07073a"/>
<g clip-path="url(#mc16)">
<path d="M745.5 858.2l-2.4 1.5M768.9 767.7l1.2 1.2M621.1 881.2l-0 0M687.4 741.6l-1.2 1.1M762.5 784.3l-1 0.9M636.9 870.8l-0.8 0.6M737.4 831.4l0.7 2.5M762.1 860l-1 1.6M594.9 803.3l-0.1 0.7M694.9 879.6l1.9 2.1M713 869.5l-1.5 2.3M615.7 861.2l1.5 2.6M586.2 744l-0.3 0.2M752.9 781.7l0.5 2.8M588.7 760.1l0.3 0.2M776.2 747.2l1.4 1.8M771.3 775.9l-0.9 3.2M742.6 779.1l-0.3 0.6M741.5 758.4l-1.2 0.3M621.7 870.7l-0.1 3.2M771.8 753.7l-1.3 1.8M670.4 879.6l-2.8 0.2M615.4 815.6l0 0.1M665.6 888l1.2 1.7M640 768.8l2 0.6M771.7 788.5l-0.2 3.1M762.6 871.6l-0.2 0.4M718.1 878l0.9 0.6M679.3 885.1l1.5 0.7M586.2 791.4l-0.7 0.3M626.4 762.9l2.4 0.1M770.7 844.2l2.7 0.1M761.9 765.9l-1.1 0.3M612.3 764.5l1.2 1.8M730.1 888.4l0.5 1.2M609.5 853.3l-0.4 0M737.5 751.6l0 0.2M733.2 791.9l0.8 2.5M720.1 836l2.5 2.4M608.3 873.3l-3.2 1.1M630.4 781.4l-2.2 0.8M644.9 872.7l-1.4 0.8M640.6 843.2l-0.1 2.8M728.8 821.7l-1 1.3M690.6 872.1l1.4 0.4M644.5 854.2l1.8 1.9M750 847.1l-1.3 1.1M629.4 750.5l0.6 0M754.6 813.2l-0.1 0.4M755.2 772.6l0.9 0.9M761.9 747.7l-1.5 0.4M634.6 831.4l0.2 0.9M637.7 753.2l-1.1 2.9M763.4 755.1l0.1 0.9M629.7 849.3l1.5 0.7M594.3 789.5l0.8 1.1M589.8 862.8l1.5 2.4M776.1 836.9l-2.3 0.2M726.3 878.4l1.2 3M602.8 864.2l1.1 1.8M722 742.9l0.1 1.4M704.5 759.5l-2.7 0.5M594.3 747.1l1 0" stroke="#1c2ce0" stroke-width="6.4" stroke-linecap="round" fill="none" stroke-opacity="0.85" filter="url(#mb07)"/>
<path d="M738.3 798.2l0.3 1.4M737.4 839.8l1.2 0.9M716.5 750.9l-1.7 1.1M711.7 884.8l1.4 0.8M713.5 763.4l0.7 1.1M765.1 829.1l-0.6 0.1M730 777.2l2.5 0.3M721.1 849.5l-0.7 2M586 843.4l0.6 0.7M644.5 747l0.2 1.7M596.1 826.5l-0.8 1.5M756.7 837.5l-0.2 0.2M598.7 846.3l-2.4 0.2M623.2 813.3l1.5 0.2M605.5 885.6l0 0M741.6 886.6l1.4 1.9M593.7 883.2l-0.9 0.3M771.8 740.3l-0.1 0.8M741.2 767.4l1.1 0.2M714.4 742.3l-1.3 0.7M759.5 878.7l0.3 0.3M604.9 770.2l1 0.1M746.1 878.5l-1 0.7M773.1 882.4l-0.2 1.6M723.6 794.4l1.9 1M735.5 848.9l0.5 1.3M726.4 812.8l1.4 0.5M660.2 868.6l1.9 0.6M768.6 813.8l-0.3 0.2M620.1 850.6l0.5 2.3M614.7 796l0.7 0.7M637.9 778.5l-0.2 0.6M611.3 823.3l0.4 0.2M769.9 874.7l1 0.6M754 799.5l-1.4 0.9M650 877.9l0.1 1.9M747.6 865.6l0.2 0.9M755.3 740.9l-0 0M722 764l0.4 0.7M592.9 775.9l0 0.2M764.8 801.4l0.5 1.4M750.7 822.3l-1.1 1.9M608.9 838l-0 0.6M618.9 744.4l-0.1 2.3M621.1 829.4l1.5 0.3M716.1 857.6l0.1 1.2M631.6 742.2l0.2 1M618.7 758.1l-0.2 1.5M733.7 861l1.1 0.6M614.8 889.4l-1.1 0.1M585.4 829.5l1 0.1M622.1 841.7l-0 0M633.8 821.2l0.1 0M770.3 861.3l0 0.3M721.6 781.4l0.1 2.5M586.7 855.8l0.2 1.1M618.3 782.2l0.2 1.2M727.4 770.8l-1.7 0.6M741.8 870.3l0.4 1.7M739.8 740.8l-1.6 0.5M617.5 771.7l0.3 0.3M587.8 800.9l-0.9 1.3" stroke="#2030d8" stroke-width="5.6" stroke-linecap="round" fill="none" stroke-opacity="0.82" filter="url(#mb07)"/>
<g filter="url(#mf17)"><path d="M667 753.8C675.1 751.9 688.7 752.5 696.8 758.2C704.9 763.9 711.1 778.1 715.4 788C719.7 797.9 723.4 807.9 722.8 817.8C722.2 827.7 717.3 839.5 711.7 847.6C706.1 855.7 695.5 862.2 689.3 866.2C683.1 870.2 680 873.7 674.4 871.8C668.8 869.9 661.4 862.8 655.8 855C650.2 847.2 644 835.1 641 825.2C638 815.3 636.8 804.8 638 795.5C639.2 786.2 643.6 776.4 648.4 769.4C653.2 762.4 658.9 755.7 667 753.8Z" fill="#fff"/></g>
<path d="M671.6 848.1l0.3 0.1M679.6 807.8l0.5 0.3M658 832.6l0 0.1M646.6 806.1l-1.1 0.8M709.2 790l0.9 0.7M691.4 854.7l0.5 0.6M656.5 840.8l0.2 0.1M677 866.5l-0.3 0.1M671.1 766l-1 0.7M701.2 820.5l1 0.7M686.6 786.6l-0.2 0.4M650.8 821.8l-1 0.5M669.5 781.9l1.3 0.4M663.4 846.4l-0.5 0.8M688.2 818.8l0.6 0.4M665 772.7l0.7 0.2M669 790.9l-1.3 0.6M696.8 782.1l0.5 0.7M711.5 829.9l-0.3 1.3M715.7 813.7l-1.2 0.6M703.4 800.2l0.2 0.7M666.9 828.6l0.2 0.9M678.7 795.4l0.1 0.2M658.6 781.4l1.2 0.2M660.8 855.3l-0 0.1M681.7 857.7l-0 0.4M689 770.6l0.3 0.6M680.9 774.3l1.2 0.9M683.2 832.3l0.5 0.4M655 798l0.6 0.7M693.8 829.2l-0.4 0.4M663.9 812.5l-0.1 0.5M674.8 827.4l1.3 0.4M666.5 759.2l0.1 0.1M661.1 822.5l-0.4 1.1M673.8 802.2l0.2 0.3M690.8 808.3l0 0.3M682.8 764.6l-0 0.1M685.2 843.9l-1.3 0.2M652 772.3l-1.1 0.1M646.5 829.4l0 0M645.2 815.3l-1.1 0.9M675.6 815.7l-0.6 0.1M705.9 810l-0.8 0.5M704.5 776.3l0.4 0.2M659.4 789.6l0.6 0.3M691.1 761l-0.6 0.1M714.3 805.1l0.5 0M702.8 845.9l0.1 0M659.9 765l0.5 1.1M695.1 790.3l0.4 0.1M664.9 801.2l0.3 1.4M714.5 823.1l0.3 0.1M702.1 829.8l0.1 0M697.6 837.2l0.9 0.5M669.7 838.1l0 0.1M645 796.4l-0.4 0M669.9 857.5l-0 0.2M651 787.4l0.3 1.1M697.9 767.9l0.1 1.5M654.8 814.7l0.1 0.3M687.9 799.1l0 0.1M692.6 845.9l-0.4 0.1M668.9 820.6l0 1.2M656.3 806.7l0 0M711.9 838.7l0.3 0.2M699.9 853.6l-0.3 0.1" stroke="#2226f2" stroke-width="6" stroke-linecap="round" fill="none" stroke-opacity="0.97" filter="url(#mb07)"/>
</g>
<rect x="730" y="876.2" width="44" height="4.8" fill="#fff"/>
<rect x="181" y="902.3" width="193.5" height="149.2" fill="#000"/>
<g filter="url(#mf18)"><path d="M301 925.9C305.7 924.4 312.2 923.6 316.6 924.9C321 926.2 325.3 930.2 327.5 933.7C329.7 937.2 330.5 941.7 329.7 946.1C328.9 950.5 326.6 957.1 322.8 960.2C319.1 963.3 310.3 962.8 307.2 964.9C304.1 967 304 969.6 304.1 972.7C304.2 975.8 308.1 979.2 307.9 983.6C307.6 988 305.6 994 302.6 999.2C299.6 1004.4 295.6 1010.2 290.1 1014.8C284.6 1019.4 275.8 1025 269.8 1026.6C263.8 1028.1 258.1 1026.6 254.2 1024.1C250.3 1021.6 248.1 1016.8 246.4 1011.6C244.7 1006.4 242.9 998.6 244.2 992.9C245.5 987.2 250.4 982 254.2 977.3C257.9 972.6 265.1 968.3 266.7 964.9C268.3 961.5 262.1 960.2 263.6 957.1C265.2 954 271.9 950 276 946.1C280.1 942.2 284.3 937.1 288.5 933.7C292.7 930.3 296.3 927.4 301 925.9Z" fill="#fff"/></g>
<path d="M291.5 973.2h0M278.2 976.1h0M310.5 959.4h0M317.9 954.4h0M276.5 991.6h0M306.6 933.9h0M309.3 944.8h0M268.5 1020.8h0M281.3 1012h0M296.6 939.3h0M285.6 979.6h0M297.6 996.9h0M301.3 952.7h0M282.3 998.7h0M290.9 949.2h0M265.1 1013.1h0M300.6 967.9h0M296.9 960.8h0M285.3 963h0M273 963.8h0M277.7 953.3h0M300.5 984.2h0M252.2 992.2h0M268.6 997.4h0M290 991.5h0M319.3 938h0M256.9 1008.2h0M269.6 976.5h0M251.3 1001.9h0M265 986.7h0M282.4 945.6h0M289 1006.5h0M262.1 972.4h0M324.4 949.7h0M274.3 983.6h0M260 1020.2h0M254.3 979.9h0M260.2 999.5h0M269.2 955.5h0M270.8 1006.7h0M288.3 938.1h0M299.1 929.5h0M299.9 976h0M312.5 928.2h0" stroke="#000" stroke-width="5" stroke-linecap="round" fill="none" stroke-opacity="0.85" filter="url(#mb07)"/>
<g filter="url(#mb1)"><path d="M301 925.9C305.7 924.4 312.2 923.6 316.6 924.9C321 926.2 325.3 930.2 327.5 933.7C329.7 937.2 330.5 941.7 329.7 946.1C328.9 950.5 326.6 957.1 322.8 960.2C319.1 963.3 310.3 962.8 307.2 964.9C304.1 967 304 969.6 304.1 972.7C304.2 975.8 308.1 979.2 307.9 983.6C307.6 988 305.6 994 302.6 999.2C299.6 1004.4 295.6 1010.2 290.1 1014.8C284.6 1019.4 275.8 1025 269.8 1026.6C263.8 1028.1 258.1 1026.6 254.2 1024.1C250.3 1021.6 248.1 1016.8 246.4 1011.6C244.7 1006.4 242.9 998.6 244.2 992.9C245.5 987.2 250.4 982 254.2 977.3C257.9 972.6 265.1 968.3 266.7 964.9C268.3 961.5 262.1 960.2 263.6 957.1C265.2 954 271.9 950 276 946.1C280.1 942.2 284.3 937.1 288.5 933.7C292.7 930.3 296.3 927.4 301 925.9Z" fill="none" stroke="#1fc028" stroke-width="1.5" stroke-opacity="0.5" stroke-dasharray="30 8 14 10 40 12"/></g>
<rect x="382.7" y="902.3" width="193.6" height="149.2" fill="#000"/>
<g filter="url(#mf19)"><path d="M502 925.9C506.7 924.4 513.2 923.6 517.6 924.9C522 926.2 526.3 930.2 528.5 933.7C530.7 937.2 531.5 941.7 530.7 946.1C529.9 950.5 527.5 957.1 523.8 960.2C520 963.3 511.3 962.8 508.2 964.9C505.1 967 505 969.6 505.1 972.7C505.2 975.8 509.1 979.2 508.9 983.6C508.6 988 506.6 994 503.6 999.2C500.6 1004.4 496.6 1010.2 491.1 1014.8C485.6 1019.4 476.8 1025 470.8 1026.6C464.8 1028.1 459.1 1026.6 455.2 1024.1C451.3 1021.6 449.1 1016.8 447.4 1011.6C445.7 1006.4 443.9 998.6 445.2 992.9C446.5 987.2 451.4 982 455.2 977.3C458.9 972.6 466.1 968.3 467.7 964.9C469.3 961.5 463.1 960.2 464.6 957.1C466.2 954 472.9 950 477 946.1C481.1 942.2 485.3 937.1 489.5 933.7C493.7 930.3 497.3 927.4 502 925.9Z" fill="#fff"/></g>
<path d="M492.5 973.2h0M479.2 976.1h0M511.5 959.4h0M518.9 954.4h0M477.5 991.6h0M507.6 933.9h0M510.3 944.8h0M469.5 1020.8h0M482.3 1012h0M497.6 939.3h0M486.6 979.6h0M498.6 996.9h0M502.3 952.7h0M483.3 998.7h0M491.9 949.2h0M466.1 1013.1h0M501.6 967.9h0M497.9 960.8h0M486.3 963h0M474 963.8h0M478.7 953.3h0M501.5 984.2h0M453.2 992.2h0M469.6 997.4h0M491 991.5h0M520.3 938h0M457.9 1008.2h0M470.6 976.5h0M452.3 1001.9h0M466 986.7h0M483.4 945.6h0M490 1006.5h0M463.1 972.4h0M525.4 949.7h0M475.3 983.6h0M461 1020.2h0M455.3 979.9h0M461.2 999.5h0M470.2 955.5h0M471.8 1006.7h0M489.3 938.1h0M500.1 929.5h0M500.9 976h0M513.5 928.2h0" stroke="#100" stroke-width="5" stroke-linecap="round" fill="none" stroke-opacity="0.8" filter="url(#mb07)"/>
<rect x="584.8" y="902.3" width="193.6" height="149.2" fill="#050528"/>
<g clip-path="url(#mc20)">
<path d="M743.4 916.6l1 0.5M732.4 994.9l2.2 0.5M734.1 972.7l0.8 1.7M636 958.1l-0 0.2M729.8 986.5l0 0.1M655.6 936l0.2 0.1M744.2 936.5l-1.3 0.8M594.6 922.1l0.3 0.3M749.4 1042.8l-2.2 0.4M599.9 961.7l0.6 1.9M706.7 1026.4l3.4 0.5M611.6 998l1.8 2.4M664.6 929l0.5 0.2M632.7 930.8l-0.9 0.6M660.3 971.1l-0.2 0.6M758.9 978.5l0.9 2.1M751.7 910.5l1.9 0.4M590.1 984.9l0.2 0.1M628.3 944.6l0.5 2.3M620.8 1018.4l-0.3 1.1M631.2 1005.3l0.9 1.3M615.1 962.4l-1.6 2.3M775.7 971.6l-0.2 0.8M681.5 1034.2l-1.7 0.7M643.2 974.5l1.6 2M722 973.6l3.2 1.2M761.6 959.3l-1.1 1M643.5 951.1l0 0.5M598.5 1016.5l-0.1 0.1M597.7 993.7l-0.6 2.6M710 924.6l1.7 2.6M768.3 998.7l-0.7 2.3M755.2 941.3l0.3 2M766.9 903.9l-2.9 0.5M712.3 916.8l-0.8 1.4M624.1 963l-0.1 0.2M677 924l-2.3 0M776.9 1008.1l1.8 2.2M697.1 1031.9l-0.7 1.2M638.8 915.1l0 0.1M641.7 1038.1l0.5 0.2M686.9 1051l-0.2 0.1M644.4 987.3l0.3 0.3M766.6 1035.8l-1.3 0.5M609.2 1009.1l0 0.3M718.8 987.4l-1.8 0.7M766 943.7l-2.6 1.2M626.7 1038.7l0.3 0.9M605.9 1019.5l-1.2 0.4M618.8 1009.9l3 1.5M648.3 994.3l0.5 0.4M647.7 915.5l0 0.8M721.2 1020.8l1.4 1.5M730 1016.2l0 0M778 948.2l-0.3 1.3M614.9 936.7l-1.9 2.8M592.7 1045.1l-0.7 1.7M599 985.1l2.3 0.4M704.9 1016.2l-2.4 2M688.5 935.2l-2.5 1.8M616 1037.4l0.4 1.3M768.8 950.7l-0.1 0.3M769 1047.4l0.2 0M691.8 1041.6l0.6 0.4M723.7 1031.8l1.2 0.2M586.4 1006.1l0 0M758.5 1022l0.1 0.3M618.4 986.9l-0.1 0" stroke="#1828e0" stroke-width="6.6" stroke-linecap="round" fill="none" stroke-opacity="0.85" filter="url(#mb07)"/>
<path d="M747.5 927.3l-0.2 1.1M731.5 1004.2l0.2 2.3M614.3 945.4l-0.3 1.2M762.3 919.6l-0 0.5M640 1004.1l-1.3 1M735.4 965.3l0.1 0.2M673.1 932.6l-0.2 0.1M647.2 1026.9l1.7 0.2M622.1 916.8l-2.4 0.3M738.5 1028.6l-0.6 1.5M701.2 923.2l0.4 0M585.2 1041.6l1.3 0.2M727.8 925.8l0.3 0.3M590.6 961.4l0 0.1M644.9 923.9l-1 0.5M748.2 982.6l-0.6 1.2M618.6 1028.7l-0.6 1.1M709 902.3l0.7 0.9M775.2 983.6l-2.5 0M769.9 962.6l-1.3 1.7M661.3 1049.9l0.6 0.5M703 1051.4l0.7 0.2M646.7 1015.8l0.6 1.8M629.1 918.1l0.7 2M708.3 1034.9l-2.1 1.1M638.6 966.9l0 0M773.1 1014.9l0.2 2.3M680.4 1041.5l0.8 2.3M655 1033.4l-0.1 0.2M717 1042.4l1.3 1.5M748.1 946.7l0.1 0.2M762 1006.9l-1.7 1.7M601.4 936.9l0.2 0.2M621.6 941.8l0.2 0M754.1 992.1l1.7 1.1M588.2 926.7l0.2 1.4M679.6 944.6l-0.3 0.4M719.5 909.2l-0.1 0.3M596.3 1037.1l0.1 0.3M648.5 902.9l0.4 0.4M604.2 973.3l-2 1.4M750.8 1009.8l-0.7 0.3M600.5 909.3l0.2 0.5M590.7 934.1l-0.9 1.9M666.9 957.8l-0.3 0M614.3 911.2l0.4 0.4M607.4 1045l1 1.7M656.4 958.6l0.7 0.2M712.9 981.4l-0.1 0.2M776.4 914l-0.2 0.6M738.7 1008.8l0.1 0.9M646.3 958.7l0.1 2.4M588.6 906.5l-1.3 0.6M777.8 904.3l0.4 0.2M615.8 925.3l-1.9 1.2M666.6 919.4l0.5 0.4M741.3 990.9l-1.8 0.3M665.6 903.8l-0.5 0.1M701.7 930.2l-0.7 2.1M777.2 994.2l1 0.3M766 930.3l-0.1 0M697.8 910.4l-0.4 0.5M645.4 1048.1l-0.5 0.3M723.3 917.2l0.9 1.2M690 916.1l-0.3 0.3M754.7 930.4l0.1 0.1M766.2 986.8l-1.3 0.6" stroke="#1c2cd8" stroke-width="5.8" stroke-linecap="round" fill="none" stroke-opacity="0.82" filter="url(#mb07)"/>
<g filter="url(#mf21)"><path d="M707 931.9C711.7 930.4 718.2 929.6 722.6 930.9C727 932.2 731.3 936.2 733.5 939.7C735.7 943.2 736.5 947.7 735.7 952.1C734.9 956.5 732.5 963.1 728.8 966.2C725 969.3 716.3 968.8 713.2 970.9C710.1 973 710 975.6 710.1 978.7C710.2 981.8 714.1 985.2 713.9 989.6C713.6 994 711.6 1000 708.6 1005.2C705.6 1010.4 701.6 1016.2 696.1 1020.8C690.6 1025.4 681.8 1031 675.8 1032.6C669.8 1034.1 664.1 1032.6 660.2 1030.1C656.3 1027.6 654.1 1022.8 652.4 1017.6C650.7 1012.4 648.9 1004.6 650.2 998.9C651.5 993.2 656.5 988 660.2 983.3C664 978.6 671.1 974.3 672.7 970.9C674.3 967.5 668.1 966.2 669.6 963.1C671.1 960 677.9 956 682 952.1C686.1 948.2 690.3 943.1 694.5 939.7C698.7 936.3 702.3 933.4 707 931.9Z" fill="#fff"/></g>
<path d="M697.8 978.9l-0.6 0.7M684.8 982l-1.2 0.2M717 965.3l-1.1 0.3M723.9 960.4l0 0M682.8 997l-0.6 1.3M712 939.7l1.3 0.5M715.1 950.6l0.5 0.5M674.6 1026.5l-0.2 0.8M687.2 1018l0 0M702.8 945.2l-0.4 0.1M691.1 985.3l1 0.6M703.1 1002.7l1.1 0.5M706.8 958.5l0.9 0.4M688.3 1004.7l-0 0M696.7 955.1l0.2 0.2M671.7 1018.8l-1.4 0.6M706.8 973.9l-0.4 0.1M703.1 966.4l-0.4 0.7M691.4 969l-0.3 0.1M679.5 969.8l-1 0.1M683.3 958.8l0.8 1.1M706.3 990.1l0.5 0.3M658.1 998.2l0.2 0M674.6 1003.2l-0.1 0.4M696 997.5l-0 0M725.1 943.8l0.3 0.4M662.8 1013.6l0.1 1.2M675.6 982.3l0 0.5M656.8 1007.8l1 0.2M670.3 992.7l1.5 0.1M688.9 951.3l-1 0.5M695 1012.5l-0 0M668.1 978.1l-0.1 0.5M730.4 955.7l0 0M680.5 989.6l-0.3 0M666.1 1026.1l-0.2 0.2M661 985.8l-1.4 0.3M666.1 1005.2l0.2 0.5M675.5 961.3l-0.6 0.5M676.8 1012.6l-0.1 0.1M694.8 943.8l-1.1 0.5M705.1 935.5l-0.1 0M705.9 981.9l0.1 0.1M718.9 934.1l-0.9 0.2" stroke="#2226f2" stroke-width="6" stroke-linecap="round" fill="none" stroke-opacity="0.97" filter="url(#mb07)"/>
</g>
<rect x="723.3" y="1040.4" width="49.5" height="4.4" fill="#fff"/>
</g>
</svg>
</body></html>
